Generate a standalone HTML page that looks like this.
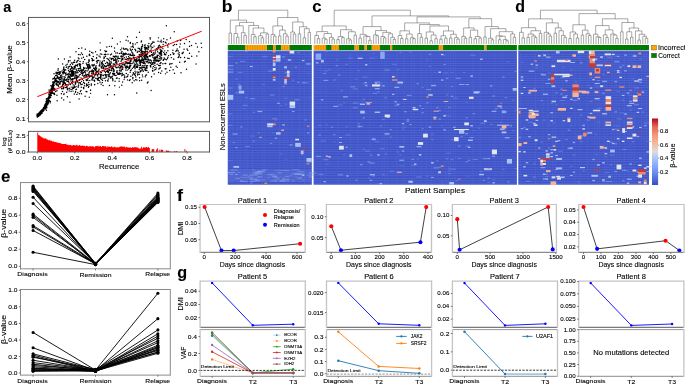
<!DOCTYPE html>
<html><head><meta charset="utf-8"><style>
html,body{margin:0;padding:0;background:#fff;overflow:hidden;}
svg{display:block;font-family:"Liberation Sans", sans-serif;} text{opacity:0.999;stroke:currentColor;stroke-width:0.1px;}
</style></head><body>
<svg width="685" height="385" viewBox="0 0 685 385">
<rect width="685" height="385" fill="#fff"/>
<text transform="translate(3.27 12.34) scale(0.926 1)" font-size="15.55" font-weight="bold" fill="#000">a</text>
<path d="M46.51 101.62a.72 .72 0 1 0 1.44 0a.72 .72 0 1 0 -1.44 0M50.99 90.75a.72 .72 0 1 0 1.44 0a.72 .72 0 1 0 -1.44 0M48.99 96.22a.72 .72 0 1 0 1.44 0a.72 .72 0 1 0 -1.44 0M39.92 112.95a.72 .72 0 1 0 1.44 0a.72 .72 0 1 0 -1.44 0M41.15 109.90a.72 .72 0 1 0 1.44 0a.72 .72 0 1 0 -1.44 0M50.60 90.58a.72 .72 0 1 0 1.44 0a.72 .72 0 1 0 -1.44 0M36.29 115.98a.72 .72 0 1 0 1.44 0a.72 .72 0 1 0 -1.44 0M49.74 94.80a.72 .72 0 1 0 1.44 0a.72 .72 0 1 0 -1.44 0M49.34 95.95a.72 .72 0 1 0 1.44 0a.72 .72 0 1 0 -1.44 0M43.92 105.18a.72 .72 0 1 0 1.44 0a.72 .72 0 1 0 -1.44 0M41.20 110.87a.72 .72 0 1 0 1.44 0a.72 .72 0 1 0 -1.44 0M40.79 111.87a.72 .72 0 1 0 1.44 0a.72 .72 0 1 0 -1.44 0M40.41 112.77a.72 .72 0 1 0 1.44 0a.72 .72 0 1 0 -1.44 0M43.54 109.09a.72 .72 0 1 0 1.44 0a.72 .72 0 1 0 -1.44 0M44.52 106.08a.72 .72 0 1 0 1.44 0a.72 .72 0 1 0 -1.44 0M45.33 103.29a.72 .72 0 1 0 1.44 0a.72 .72 0 1 0 -1.44 0M52.61 86.04a.72 .72 0 1 0 1.44 0a.72 .72 0 1 0 -1.44 0M49.27 95.52a.72 .72 0 1 0 1.44 0a.72 .72 0 1 0 -1.44 0M46.46 102.32a.72 .72 0 1 0 1.44 0a.72 .72 0 1 0 -1.44 0M52.50 85.51a.72 .72 0 1 0 1.44 0a.72 .72 0 1 0 -1.44 0M39.75 114.71a.72 .72 0 1 0 1.44 0a.72 .72 0 1 0 -1.44 0M38.85 114.35a.72 .72 0 1 0 1.44 0a.72 .72 0 1 0 -1.44 0M46.30 103.52a.72 .72 0 1 0 1.44 0a.72 .72 0 1 0 -1.44 0M36.93 115.02a.72 .72 0 1 0 1.44 0a.72 .72 0 1 0 -1.44 0M36.79 116.40a.72 .72 0 1 0 1.44 0a.72 .72 0 1 0 -1.44 0M44.69 104.95a.72 .72 0 1 0 1.44 0a.72 .72 0 1 0 -1.44 0M43.89 105.33a.72 .72 0 1 0 1.44 0a.72 .72 0 1 0 -1.44 0M51.32 89.88a.72 .72 0 1 0 1.44 0a.72 .72 0 1 0 -1.44 0M46.57 102.58a.72 .72 0 1 0 1.44 0a.72 .72 0 1 0 -1.44 0M44.68 105.46a.72 .72 0 1 0 1.44 0a.72 .72 0 1 0 -1.44 0M44.39 106.24a.72 .72 0 1 0 1.44 0a.72 .72 0 1 0 -1.44 0M40.28 113.55a.72 .72 0 1 0 1.44 0a.72 .72 0 1 0 -1.44 0M36.40 115.59a.72 .72 0 1 0 1.44 0a.72 .72 0 1 0 -1.44 0M39.38 111.73a.72 .72 0 1 0 1.44 0a.72 .72 0 1 0 -1.44 0M47.61 99.74a.72 .72 0 1 0 1.44 0a.72 .72 0 1 0 -1.44 0M39.51 113.65a.72 .72 0 1 0 1.44 0a.72 .72 0 1 0 -1.44 0M42.29 110.97a.72 .72 0 1 0 1.44 0a.72 .72 0 1 0 -1.44 0M36.27 115.69a.72 .72 0 1 0 1.44 0a.72 .72 0 1 0 -1.44 0M49.88 95.45a.72 .72 0 1 0 1.44 0a.72 .72 0 1 0 -1.44 0M38.75 115.22a.72 .72 0 1 0 1.44 0a.72 .72 0 1 0 -1.44 0M40.62 110.88a.72 .72 0 1 0 1.44 0a.72 .72 0 1 0 -1.44 0M50.71 92.62a.72 .72 0 1 0 1.44 0a.72 .72 0 1 0 -1.44 0M44.61 104.49a.72 .72 0 1 0 1.44 0a.72 .72 0 1 0 -1.44 0M50.16 90.30a.72 .72 0 1 0 1.44 0a.72 .72 0 1 0 -1.44 0M46.75 101.02a.72 .72 0 1 0 1.44 0a.72 .72 0 1 0 -1.44 0M48.43 96.53a.72 .72 0 1 0 1.44 0a.72 .72 0 1 0 -1.44 0M37.71 113.53a.72 .72 0 1 0 1.44 0a.72 .72 0 1 0 -1.44 0M45.12 105.08a.72 .72 0 1 0 1.44 0a.72 .72 0 1 0 -1.44 0M44.57 106.64a.72 .72 0 1 0 1.44 0a.72 .72 0 1 0 -1.44 0M50.56 93.76a.72 .72 0 1 0 1.44 0a.72 .72 0 1 0 -1.44 0M42.16 109.98a.72 .72 0 1 0 1.44 0a.72 .72 0 1 0 -1.44 0M46.06 100.91a.72 .72 0 1 0 1.44 0a.72 .72 0 1 0 -1.44 0M37.18 114.78a.72 .72 0 1 0 1.44 0a.72 .72 0 1 0 -1.44 0M42.59 110.41a.72 .72 0 1 0 1.44 0a.72 .72 0 1 0 -1.44 0M41.53 111.85a.72 .72 0 1 0 1.44 0a.72 .72 0 1 0 -1.44 0M38.68 114.75a.72 .72 0 1 0 1.44 0a.72 .72 0 1 0 -1.44 0M49.66 93.67a.72 .72 0 1 0 1.44 0a.72 .72 0 1 0 -1.44 0M42.46 109.79a.72 .72 0 1 0 1.44 0a.72 .72 0 1 0 -1.44 0M52.33 85.87a.72 .72 0 1 0 1.44 0a.72 .72 0 1 0 -1.44 0M45.93 102.78a.72 .72 0 1 0 1.44 0a.72 .72 0 1 0 -1.44 0M46.18 103.04a.72 .72 0 1 0 1.44 0a.72 .72 0 1 0 -1.44 0M46.72 101.49a.72 .72 0 1 0 1.44 0a.72 .72 0 1 0 -1.44 0M47.35 99.69a.72 .72 0 1 0 1.44 0a.72 .72 0 1 0 -1.44 0M38.69 114.37a.72 .72 0 1 0 1.44 0a.72 .72 0 1 0 -1.44 0M43.46 107.32a.72 .72 0 1 0 1.44 0a.72 .72 0 1 0 -1.44 0M40.15 110.90a.72 .72 0 1 0 1.44 0a.72 .72 0 1 0 -1.44 0M42.84 108.28a.72 .72 0 1 0 1.44 0a.72 .72 0 1 0 -1.44 0M37.80 115.03a.72 .72 0 1 0 1.44 0a.72 .72 0 1 0 -1.44 0M52.15 89.68a.72 .72 0 1 0 1.44 0a.72 .72 0 1 0 -1.44 0M39.75 112.83a.72 .72 0 1 0 1.44 0a.72 .72 0 1 0 -1.44 0M47.27 102.90a.72 .72 0 1 0 1.44 0a.72 .72 0 1 0 -1.44 0M41.16 112.92a.72 .72 0 1 0 1.44 0a.72 .72 0 1 0 -1.44 0M50.61 90.07a.72 .72 0 1 0 1.44 0a.72 .72 0 1 0 -1.44 0M47.12 99.54a.72 .72 0 1 0 1.44 0a.72 .72 0 1 0 -1.44 0M38.37 114.71a.72 .72 0 1 0 1.44 0a.72 .72 0 1 0 -1.44 0M50.13 95.51a.72 .72 0 1 0 1.44 0a.72 .72 0 1 0 -1.44 0M51.78 88.60a.72 .72 0 1 0 1.44 0a.72 .72 0 1 0 -1.44 0M51.10 91.13a.72 .72 0 1 0 1.44 0a.72 .72 0 1 0 -1.44 0M45.59 103.04a.72 .72 0 1 0 1.44 0a.72 .72 0 1 0 -1.44 0M38.60 112.39a.72 .72 0 1 0 1.44 0a.72 .72 0 1 0 -1.44 0M39.38 113.40a.72 .72 0 1 0 1.44 0a.72 .72 0 1 0 -1.44 0M51.50 90.13a.72 .72 0 1 0 1.44 0a.72 .72 0 1 0 -1.44 0M45.31 105.96a.72 .72 0 1 0 1.44 0a.72 .72 0 1 0 -1.44 0M39.18 113.86a.72 .72 0 1 0 1.44 0a.72 .72 0 1 0 -1.44 0M50.77 91.26a.72 .72 0 1 0 1.44 0a.72 .72 0 1 0 -1.44 0M46.78 102.89a.72 .72 0 1 0 1.44 0a.72 .72 0 1 0 -1.44 0M45.59 103.72a.72 .72 0 1 0 1.44 0a.72 .72 0 1 0 -1.44 0M42.41 110.92a.72 .72 0 1 0 1.44 0a.72 .72 0 1 0 -1.44 0M42.98 107.45a.72 .72 0 1 0 1.44 0a.72 .72 0 1 0 -1.44 0M40.15 111.69a.72 .72 0 1 0 1.44 0a.72 .72 0 1 0 -1.44 0M36.83 114.94a.72 .72 0 1 0 1.44 0a.72 .72 0 1 0 -1.44 0M50.64 92.11a.72 .72 0 1 0 1.44 0a.72 .72 0 1 0 -1.44 0M43.91 106.50a.72 .72 0 1 0 1.44 0a.72 .72 0 1 0 -1.44 0M45.23 104.78a.72 .72 0 1 0 1.44 0a.72 .72 0 1 0 -1.44 0M41.51 111.37a.72 .72 0 1 0 1.44 0a.72 .72 0 1 0 -1.44 0M48.59 97.45a.72 .72 0 1 0 1.44 0a.72 .72 0 1 0 -1.44 0M36.62 116.90a.72 .72 0 1 0 1.44 0a.72 .72 0 1 0 -1.44 0M42.34 111.35a.72 .72 0 1 0 1.44 0a.72 .72 0 1 0 -1.44 0M36.71 115.25a.72 .72 0 1 0 1.44 0a.72 .72 0 1 0 -1.44 0M38.23 114.88a.72 .72 0 1 0 1.44 0a.72 .72 0 1 0 -1.44 0M52.14 86.47a.72 .72 0 1 0 1.44 0a.72 .72 0 1 0 -1.44 0M47.04 99.30a.72 .72 0 1 0 1.44 0a.72 .72 0 1 0 -1.44 0M43.26 110.27a.72 .72 0 1 0 1.44 0a.72 .72 0 1 0 -1.44 0M44.84 106.38a.72 .72 0 1 0 1.44 0a.72 .72 0 1 0 -1.44 0M50.59 91.23a.72 .72 0 1 0 1.44 0a.72 .72 0 1 0 -1.44 0M41.88 110.02a.72 .72 0 1 0 1.44 0a.72 .72 0 1 0 -1.44 0M45.93 103.66a.72 .72 0 1 0 1.44 0a.72 .72 0 1 0 -1.44 0M47.47 98.24a.72 .72 0 1 0 1.44 0a.72 .72 0 1 0 -1.44 0M42.06 109.94a.72 .72 0 1 0 1.44 0a.72 .72 0 1 0 -1.44 0M44.76 107.06a.72 .72 0 1 0 1.44 0a.72 .72 0 1 0 -1.44 0M48.82 97.76a.72 .72 0 1 0 1.44 0a.72 .72 0 1 0 -1.44 0M51.19 88.43a.72 .72 0 1 0 1.44 0a.72 .72 0 1 0 -1.44 0M38.69 113.88a.72 .72 0 1 0 1.44 0a.72 .72 0 1 0 -1.44 0M51.59 91.72a.72 .72 0 1 0 1.44 0a.72 .72 0 1 0 -1.44 0M36.29 114.91a.72 .72 0 1 0 1.44 0a.72 .72 0 1 0 -1.44 0M48.61 95.99a.72 .72 0 1 0 1.44 0a.72 .72 0 1 0 -1.44 0M49.56 92.30a.72 .72 0 1 0 1.44 0a.72 .72 0 1 0 -1.44 0M38.46 114.84a.72 .72 0 1 0 1.44 0a.72 .72 0 1 0 -1.44 0M43.11 108.85a.72 .72 0 1 0 1.44 0a.72 .72 0 1 0 -1.44 0M49.64 95.92a.72 .72 0 1 0 1.44 0a.72 .72 0 1 0 -1.44 0M36.44 114.01a.72 .72 0 1 0 1.44 0a.72 .72 0 1 0 -1.44 0M46.56 102.03a.72 .72 0 1 0 1.44 0a.72 .72 0 1 0 -1.44 0M49.27 92.73a.72 .72 0 1 0 1.44 0a.72 .72 0 1 0 -1.44 0M44.66 106.54a.72 .72 0 1 0 1.44 0a.72 .72 0 1 0 -1.44 0M48.17 97.77a.72 .72 0 1 0 1.44 0a.72 .72 0 1 0 -1.44 0M39.94 114.59a.72 .72 0 1 0 1.44 0a.72 .72 0 1 0 -1.44 0M39.48 113.85a.72 .72 0 1 0 1.44 0a.72 .72 0 1 0 -1.44 0M42.19 108.89a.72 .72 0 1 0 1.44 0a.72 .72 0 1 0 -1.44 0M39.16 114.97a.72 .72 0 1 0 1.44 0a.72 .72 0 1 0 -1.44 0M41.91 109.24a.72 .72 0 1 0 1.44 0a.72 .72 0 1 0 -1.44 0M51.83 87.24a.72 .72 0 1 0 1.44 0a.72 .72 0 1 0 -1.44 0M45.65 105.11a.72 .72 0 1 0 1.44 0a.72 .72 0 1 0 -1.44 0M41.81 111.08a.72 .72 0 1 0 1.44 0a.72 .72 0 1 0 -1.44 0M40.68 112.54a.72 .72 0 1 0 1.44 0a.72 .72 0 1 0 -1.44 0M51.89 87.70a.72 .72 0 1 0 1.44 0a.72 .72 0 1 0 -1.44 0M43.53 108.43a.72 .72 0 1 0 1.44 0a.72 .72 0 1 0 -1.44 0M52.36 87.57a.72 .72 0 1 0 1.44 0a.72 .72 0 1 0 -1.44 0M44.70 106.03a.72 .72 0 1 0 1.44 0a.72 .72 0 1 0 -1.44 0M44.79 106.76a.72 .72 0 1 0 1.44 0a.72 .72 0 1 0 -1.44 0M50.98 92.48a.72 .72 0 1 0 1.44 0a.72 .72 0 1 0 -1.44 0M48.44 97.38a.72 .72 0 1 0 1.44 0a.72 .72 0 1 0 -1.44 0M45.77 102.33a.72 .72 0 1 0 1.44 0a.72 .72 0 1 0 -1.44 0M43.24 110.08a.72 .72 0 1 0 1.44 0a.72 .72 0 1 0 -1.44 0M50.68 91.25a.72 .72 0 1 0 1.44 0a.72 .72 0 1 0 -1.44 0M42.99 109.46a.72 .72 0 1 0 1.44 0a.72 .72 0 1 0 -1.44 0M51.41 90.71a.72 .72 0 1 0 1.44 0a.72 .72 0 1 0 -1.44 0M37.34 114.74a.72 .72 0 1 0 1.44 0a.72 .72 0 1 0 -1.44 0M43.29 108.81a.72 .72 0 1 0 1.44 0a.72 .72 0 1 0 -1.44 0M44.77 103.64a.72 .72 0 1 0 1.44 0a.72 .72 0 1 0 -1.44 0M51.88 88.98a.72 .72 0 1 0 1.44 0a.72 .72 0 1 0 -1.44 0M40.34 112.12a.72 .72 0 1 0 1.44 0a.72 .72 0 1 0 -1.44 0M49.49 94.93a.72 .72 0 1 0 1.44 0a.72 .72 0 1 0 -1.44 0M47.35 101.04a.72 .72 0 1 0 1.44 0a.72 .72 0 1 0 -1.44 0M48.02 97.51a.72 .72 0 1 0 1.44 0a.72 .72 0 1 0 -1.44 0M46.58 101.96a.72 .72 0 1 0 1.44 0a.72 .72 0 1 0 -1.44 0M52.21 85.58a.72 .72 0 1 0 1.44 0a.72 .72 0 1 0 -1.44 0M41.69 110.77a.72 .72 0 1 0 1.44 0a.72 .72 0 1 0 -1.44 0M42.77 110.30a.72 .72 0 1 0 1.44 0a.72 .72 0 1 0 -1.44 0M39.55 113.51a.72 .72 0 1 0 1.44 0a.72 .72 0 1 0 -1.44 0M37.04 115.60a.72 .72 0 1 0 1.44 0a.72 .72 0 1 0 -1.44 0M39.71 112.33a.72 .72 0 1 0 1.44 0a.72 .72 0 1 0 -1.44 0M51.29 90.94a.72 .72 0 1 0 1.44 0a.72 .72 0 1 0 -1.44 0M50.05 93.10a.72 .72 0 1 0 1.44 0a.72 .72 0 1 0 -1.44 0M38.06 116.32a.72 .72 0 1 0 1.44 0a.72 .72 0 1 0 -1.44 0M46.15 101.81a.72 .72 0 1 0 1.44 0a.72 .72 0 1 0 -1.44 0M44.10 108.09a.72 .72 0 1 0 1.44 0a.72 .72 0 1 0 -1.44 0M46.00 105.41a.72 .72 0 1 0 1.44 0a.72 .72 0 1 0 -1.44 0M47.07 100.72a.72 .72 0 1 0 1.44 0a.72 .72 0 1 0 -1.44 0M41.26 110.16a.72 .72 0 1 0 1.44 0a.72 .72 0 1 0 -1.44 0M52.05 89.72a.72 .72 0 1 0 1.44 0a.72 .72 0 1 0 -1.44 0M43.88 108.48a.72 .72 0 1 0 1.44 0a.72 .72 0 1 0 -1.44 0M46.56 102.82a.72 .72 0 1 0 1.44 0a.72 .72 0 1 0 -1.44 0M46.67 103.09a.72 .72 0 1 0 1.44 0a.72 .72 0 1 0 -1.44 0M39.24 113.40a.72 .72 0 1 0 1.44 0a.72 .72 0 1 0 -1.44 0M37.22 116.15a.72 .72 0 1 0 1.44 0a.72 .72 0 1 0 -1.44 0M42.99 109.54a.72 .72 0 1 0 1.44 0a.72 .72 0 1 0 -1.44 0M48.80 95.54a.72 .72 0 1 0 1.44 0a.72 .72 0 1 0 -1.44 0M49.64 95.34a.72 .72 0 1 0 1.44 0a.72 .72 0 1 0 -1.44 0M48.23 97.20a.72 .72 0 1 0 1.44 0a.72 .72 0 1 0 -1.44 0M38.07 115.67a.72 .72 0 1 0 1.44 0a.72 .72 0 1 0 -1.44 0M51.26 91.55a.72 .72 0 1 0 1.44 0a.72 .72 0 1 0 -1.44 0M49.42 97.58a.72 .72 0 1 0 1.44 0a.72 .72 0 1 0 -1.44 0M50.67 88.27a.72 .72 0 1 0 1.44 0a.72 .72 0 1 0 -1.44 0M44.83 105.81a.72 .72 0 1 0 1.44 0a.72 .72 0 1 0 -1.44 0M51.29 89.03a.72 .72 0 1 0 1.44 0a.72 .72 0 1 0 -1.44 0M36.97 115.71a.72 .72 0 1 0 1.44 0a.72 .72 0 1 0 -1.44 0M36.70 115.74a.72 .72 0 1 0 1.44 0a.72 .72 0 1 0 -1.44 0M36.54 115.90a.72 .72 0 1 0 1.44 0a.72 .72 0 1 0 -1.44 0M40.37 110.58a.72 .72 0 1 0 1.44 0a.72 .72 0 1 0 -1.44 0M40.30 113.57a.72 .72 0 1 0 1.44 0a.72 .72 0 1 0 -1.44 0M39.30 115.13a.72 .72 0 1 0 1.44 0a.72 .72 0 1 0 -1.44 0M45.55 105.28a.72 .72 0 1 0 1.44 0a.72 .72 0 1 0 -1.44 0M36.85 116.80a.72 .72 0 1 0 1.44 0a.72 .72 0 1 0 -1.44 0M45.93 102.16a.72 .72 0 1 0 1.44 0a.72 .72 0 1 0 -1.44 0M38.94 113.31a.72 .72 0 1 0 1.44 0a.72 .72 0 1 0 -1.44 0M47.38 101.28a.72 .72 0 1 0 1.44 0a.72 .72 0 1 0 -1.44 0M36.55 116.99a.72 .72 0 1 0 1.44 0a.72 .72 0 1 0 -1.44 0M41.32 111.60a.72 .72 0 1 0 1.44 0a.72 .72 0 1 0 -1.44 0M51.67 85.98a.72 .72 0 1 0 1.44 0a.72 .72 0 1 0 -1.44 0M45.08 108.51a.72 .72 0 1 0 1.44 0a.72 .72 0 1 0 -1.44 0M49.58 93.52a.72 .72 0 1 0 1.44 0a.72 .72 0 1 0 -1.44 0M47.05 102.19a.72 .72 0 1 0 1.44 0a.72 .72 0 1 0 -1.44 0M46.27 101.03a.72 .72 0 1 0 1.44 0a.72 .72 0 1 0 -1.44 0M39.36 114.62a.72 .72 0 1 0 1.44 0a.72 .72 0 1 0 -1.44 0M45.67 104.08a.72 .72 0 1 0 1.44 0a.72 .72 0 1 0 -1.44 0M36.86 116.93a.72 .72 0 1 0 1.44 0a.72 .72 0 1 0 -1.44 0M49.42 96.28a.72 .72 0 1 0 1.44 0a.72 .72 0 1 0 -1.44 0M52.03 84.85a.72 .72 0 1 0 1.44 0a.72 .72 0 1 0 -1.44 0M50.28 91.09a.72 .72 0 1 0 1.44 0a.72 .72 0 1 0 -1.44 0M37.04 115.95a.72 .72 0 1 0 1.44 0a.72 .72 0 1 0 -1.44 0M41.79 111.51a.72 .72 0 1 0 1.44 0a.72 .72 0 1 0 -1.44 0M41.45 113.06a.72 .72 0 1 0 1.44 0a.72 .72 0 1 0 -1.44 0M38.06 115.19a.72 .72 0 1 0 1.44 0a.72 .72 0 1 0 -1.44 0M46.53 101.90a.72 .72 0 1 0 1.44 0a.72 .72 0 1 0 -1.44 0M49.35 95.09a.72 .72 0 1 0 1.44 0a.72 .72 0 1 0 -1.44 0M41.38 111.26a.72 .72 0 1 0 1.44 0a.72 .72 0 1 0 -1.44 0M50.42 93.78a.72 .72 0 1 0 1.44 0a.72 .72 0 1 0 -1.44 0M49.34 95.08a.72 .72 0 1 0 1.44 0a.72 .72 0 1 0 -1.44 0M38.33 114.65a.72 .72 0 1 0 1.44 0a.72 .72 0 1 0 -1.44 0M48.84 94.35a.72 .72 0 1 0 1.44 0a.72 .72 0 1 0 -1.44 0M50.75 88.02a.72 .72 0 1 0 1.44 0a.72 .72 0 1 0 -1.44 0M39.46 113.64a.72 .72 0 1 0 1.44 0a.72 .72 0 1 0 -1.44 0M45.66 104.74a.72 .72 0 1 0 1.44 0a.72 .72 0 1 0 -1.44 0M46.73 101.50a.72 .72 0 1 0 1.44 0a.72 .72 0 1 0 -1.44 0M46.25 103.30a.72 .72 0 1 0 1.44 0a.72 .72 0 1 0 -1.44 0M37.79 115.70a.72 .72 0 1 0 1.44 0a.72 .72 0 1 0 -1.44 0M47.10 100.65a.72 .72 0 1 0 1.44 0a.72 .72 0 1 0 -1.44 0M46.62 103.09a.72 .72 0 1 0 1.44 0a.72 .72 0 1 0 -1.44 0M49.78 92.83a.72 .72 0 1 0 1.44 0a.72 .72 0 1 0 -1.44 0M49.45 94.85a.72 .72 0 1 0 1.44 0a.72 .72 0 1 0 -1.44 0M41.60 110.58a.72 .72 0 1 0 1.44 0a.72 .72 0 1 0 -1.44 0M48.10 98.43a.72 .72 0 1 0 1.44 0a.72 .72 0 1 0 -1.44 0M50.50 92.94a.72 .72 0 1 0 1.44 0a.72 .72 0 1 0 -1.44 0M50.92 92.09a.72 .72 0 1 0 1.44 0a.72 .72 0 1 0 -1.44 0M38.87 114.33a.72 .72 0 1 0 1.44 0a.72 .72 0 1 0 -1.44 0M36.65 116.31a.72 .72 0 1 0 1.44 0a.72 .72 0 1 0 -1.44 0M46.93 100.63a.72 .72 0 1 0 1.44 0a.72 .72 0 1 0 -1.44 0M39.74 113.21a.72 .72 0 1 0 1.44 0a.72 .72 0 1 0 -1.44 0M45.49 105.84a.72 .72 0 1 0 1.44 0a.72 .72 0 1 0 -1.44 0M51.77 87.87a.72 .72 0 1 0 1.44 0a.72 .72 0 1 0 -1.44 0M42.46 111.06a.72 .72 0 1 0 1.44 0a.72 .72 0 1 0 -1.44 0M40.37 113.08a.72 .72 0 1 0 1.44 0a.72 .72 0 1 0 -1.44 0M43.73 107.80a.72 .72 0 1 0 1.44 0a.72 .72 0 1 0 -1.44 0M47.04 103.61a.72 .72 0 1 0 1.44 0a.72 .72 0 1 0 -1.44 0M37.87 114.94a.72 .72 0 1 0 1.44 0a.72 .72 0 1 0 -1.44 0M42.48 109.36a.72 .72 0 1 0 1.44 0a.72 .72 0 1 0 -1.44 0M38.41 114.69a.72 .72 0 1 0 1.44 0a.72 .72 0 1 0 -1.44 0M47.12 101.11a.72 .72 0 1 0 1.44 0a.72 .72 0 1 0 -1.44 0M49.89 94.06a.72 .72 0 1 0 1.44 0a.72 .72 0 1 0 -1.44 0M42.42 110.71a.72 .72 0 1 0 1.44 0a.72 .72 0 1 0 -1.44 0M42.33 110.06a.72 .72 0 1 0 1.44 0a.72 .72 0 1 0 -1.44 0M45.10 105.58a.72 .72 0 1 0 1.44 0a.72 .72 0 1 0 -1.44 0M39.75 113.11a.72 .72 0 1 0 1.44 0a.72 .72 0 1 0 -1.44 0M40.28 113.76a.72 .72 0 1 0 1.44 0a.72 .72 0 1 0 -1.44 0M41.64 110.53a.72 .72 0 1 0 1.44 0a.72 .72 0 1 0 -1.44 0M43.74 107.25a.72 .72 0 1 0 1.44 0a.72 .72 0 1 0 -1.44 0M37.55 115.39a.72 .72 0 1 0 1.44 0a.72 .72 0 1 0 -1.44 0M48.61 97.54a.72 .72 0 1 0 1.44 0a.72 .72 0 1 0 -1.44 0M45.75 102.82a.72 .72 0 1 0 1.44 0a.72 .72 0 1 0 -1.44 0M41.14 113.20a.72 .72 0 1 0 1.44 0a.72 .72 0 1 0 -1.44 0M37.48 114.95a.72 .72 0 1 0 1.44 0a.72 .72 0 1 0 -1.44 0M48.78 96.08a.72 .72 0 1 0 1.44 0a.72 .72 0 1 0 -1.44 0M38.37 114.35a.72 .72 0 1 0 1.44 0a.72 .72 0 1 0 -1.44 0M38.40 114.23a.72 .72 0 1 0 1.44 0a.72 .72 0 1 0 -1.44 0M38.36 115.16a.72 .72 0 1 0 1.44 0a.72 .72 0 1 0 -1.44 0M37.54 115.49a.72 .72 0 1 0 1.44 0a.72 .72 0 1 0 -1.44 0M51.14 88.84a.72 .72 0 1 0 1.44 0a.72 .72 0 1 0 -1.44 0M40.64 111.70a.72 .72 0 1 0 1.44 0a.72 .72 0 1 0 -1.44 0M41.25 111.11a.72 .72 0 1 0 1.44 0a.72 .72 0 1 0 -1.44 0M49.93 95.75a.72 .72 0 1 0 1.44 0a.72 .72 0 1 0 -1.44 0M46.42 101.37a.72 .72 0 1 0 1.44 0a.72 .72 0 1 0 -1.44 0M39.29 112.61a.72 .72 0 1 0 1.44 0a.72 .72 0 1 0 -1.44 0M43.37 106.89a.72 .72 0 1 0 1.44 0a.72 .72 0 1 0 -1.44 0M50.77 90.60a.72 .72 0 1 0 1.44 0a.72 .72 0 1 0 -1.44 0M42.39 111.40a.72 .72 0 1 0 1.44 0a.72 .72 0 1 0 -1.44 0M47.92 97.25a.72 .72 0 1 0 1.44 0a.72 .72 0 1 0 -1.44 0M37.80 115.20a.72 .72 0 1 0 1.44 0a.72 .72 0 1 0 -1.44 0M48.19 101.65a.72 .72 0 1 0 1.44 0a.72 .72 0 1 0 -1.44 0M49.00 95.31a.72 .72 0 1 0 1.44 0a.72 .72 0 1 0 -1.44 0M49.81 96.02a.72 .72 0 1 0 1.44 0a.72 .72 0 1 0 -1.44 0M47.31 101.89a.72 .72 0 1 0 1.44 0a.72 .72 0 1 0 -1.44 0M42.31 110.49a.72 .72 0 1 0 1.44 0a.72 .72 0 1 0 -1.44 0M37.26 114.46a.72 .72 0 1 0 1.44 0a.72 .72 0 1 0 -1.44 0M44.75 106.02a.72 .72 0 1 0 1.44 0a.72 .72 0 1 0 -1.44 0M48.69 96.29a.72 .72 0 1 0 1.44 0a.72 .72 0 1 0 -1.44 0M39.35 112.01a.72 .72 0 1 0 1.44 0a.72 .72 0 1 0 -1.44 0M40.59 110.59a.72 .72 0 1 0 1.44 0a.72 .72 0 1 0 -1.44 0M45.04 105.12a.72 .72 0 1 0 1.44 0a.72 .72 0 1 0 -1.44 0M48.54 97.43a.72 .72 0 1 0 1.44 0a.72 .72 0 1 0 -1.44 0M50.98 92.43a.72 .72 0 1 0 1.44 0a.72 .72 0 1 0 -1.44 0M38.28 115.27a.72 .72 0 1 0 1.44 0a.72 .72 0 1 0 -1.44 0M39.24 113.35a.72 .72 0 1 0 1.44 0a.72 .72 0 1 0 -1.44 0M49.38 94.26a.72 .72 0 1 0 1.44 0a.72 .72 0 1 0 -1.44 0M46.83 101.04a.72 .72 0 1 0 1.44 0a.72 .72 0 1 0 -1.44 0M48.09 96.76a.72 .72 0 1 0 1.44 0a.72 .72 0 1 0 -1.44 0M52.63 86.63a.72 .72 0 1 0 1.44 0a.72 .72 0 1 0 -1.44 0M51.68 88.36a.72 .72 0 1 0 1.44 0a.72 .72 0 1 0 -1.44 0M50.10 91.75a.72 .72 0 1 0 1.44 0a.72 .72 0 1 0 -1.44 0M49.01 94.97a.72 .72 0 1 0 1.44 0a.72 .72 0 1 0 -1.44 0M42.71 107.94a.72 .72 0 1 0 1.44 0a.72 .72 0 1 0 -1.44 0M132.69 47.16a.72 .72 0 1 0 1.44 0a.72 .72 0 1 0 -1.44 0M70.66 76.16a.72 .72 0 1 0 1.44 0a.72 .72 0 1 0 -1.44 0M129.88 61.76a.72 .72 0 1 0 1.44 0a.72 .72 0 1 0 -1.44 0M109.05 73.64a.72 .72 0 1 0 1.44 0a.72 .72 0 1 0 -1.44 0M125.58 57.06a.72 .72 0 1 0 1.44 0a.72 .72 0 1 0 -1.44 0M82.58 61.75a.72 .72 0 1 0 1.44 0a.72 .72 0 1 0 -1.44 0M44.38 107.04a.72 .72 0 1 0 1.44 0a.72 .72 0 1 0 -1.44 0M119.22 63.73a.72 .72 0 1 0 1.44 0a.72 .72 0 1 0 -1.44 0M67.51 81.48a.72 .72 0 1 0 1.44 0a.72 .72 0 1 0 -1.44 0M57.68 77.89a.72 .72 0 1 0 1.44 0a.72 .72 0 1 0 -1.44 0M120.42 52.88a.72 .72 0 1 0 1.44 0a.72 .72 0 1 0 -1.44 0M109.61 72.66a.72 .72 0 1 0 1.44 0a.72 .72 0 1 0 -1.44 0M64.36 83.69a.72 .72 0 1 0 1.44 0a.72 .72 0 1 0 -1.44 0M69.62 78.32a.72 .72 0 1 0 1.44 0a.72 .72 0 1 0 -1.44 0M133.76 65.45a.72 .72 0 1 0 1.44 0a.72 .72 0 1 0 -1.44 0M69.71 74.57a.72 .72 0 1 0 1.44 0a.72 .72 0 1 0 -1.44 0M111.15 66.77a.72 .72 0 1 0 1.44 0a.72 .72 0 1 0 -1.44 0M56.44 100.74a.72 .72 0 1 0 1.44 0a.72 .72 0 1 0 -1.44 0M121.90 81.95a.72 .72 0 1 0 1.44 0a.72 .72 0 1 0 -1.44 0M55.30 73.33a.72 .72 0 1 0 1.44 0a.72 .72 0 1 0 -1.44 0M93.35 74.60a.72 .72 0 1 0 1.44 0a.72 .72 0 1 0 -1.44 0M47.43 100.18a.72 .72 0 1 0 1.44 0a.72 .72 0 1 0 -1.44 0M96.60 75.65a.72 .72 0 1 0 1.44 0a.72 .72 0 1 0 -1.44 0M124.92 53.21a.72 .72 0 1 0 1.44 0a.72 .72 0 1 0 -1.44 0M52.13 82.59a.72 .72 0 1 0 1.44 0a.72 .72 0 1 0 -1.44 0M70.26 70.28a.72 .72 0 1 0 1.44 0a.72 .72 0 1 0 -1.44 0M117.10 58.24a.72 .72 0 1 0 1.44 0a.72 .72 0 1 0 -1.44 0M102.14 75.23a.72 .72 0 1 0 1.44 0a.72 .72 0 1 0 -1.44 0M73.94 60.28a.72 .72 0 1 0 1.44 0a.72 .72 0 1 0 -1.44 0M104.13 71.31a.72 .72 0 1 0 1.44 0a.72 .72 0 1 0 -1.44 0M87.49 62.46a.72 .72 0 1 0 1.44 0a.72 .72 0 1 0 -1.44 0M126.42 67.32a.72 .72 0 1 0 1.44 0a.72 .72 0 1 0 -1.44 0M72.05 72.23a.72 .72 0 1 0 1.44 0a.72 .72 0 1 0 -1.44 0M116.43 67.47a.72 .72 0 1 0 1.44 0a.72 .72 0 1 0 -1.44 0M104.78 80.66a.72 .72 0 1 0 1.44 0a.72 .72 0 1 0 -1.44 0M114.78 62.72a.72 .72 0 1 0 1.44 0a.72 .72 0 1 0 -1.44 0M80.19 84.65a.72 .72 0 1 0 1.44 0a.72 .72 0 1 0 -1.44 0M113.30 69.60a.72 .72 0 1 0 1.44 0a.72 .72 0 1 0 -1.44 0M110.77 59.00a.72 .72 0 1 0 1.44 0a.72 .72 0 1 0 -1.44 0M81.07 48.05a.72 .72 0 1 0 1.44 0a.72 .72 0 1 0 -1.44 0M46.60 103.32a.72 .72 0 1 0 1.44 0a.72 .72 0 1 0 -1.44 0M136.03 92.96a.72 .72 0 1 0 1.44 0a.72 .72 0 1 0 -1.44 0M112.22 68.46a.72 .72 0 1 0 1.44 0a.72 .72 0 1 0 -1.44 0M63.62 72.69a.72 .72 0 1 0 1.44 0a.72 .72 0 1 0 -1.44 0M113.86 64.54a.72 .72 0 1 0 1.44 0a.72 .72 0 1 0 -1.44 0M70.68 62.93a.72 .72 0 1 0 1.44 0a.72 .72 0 1 0 -1.44 0M88.89 76.21a.72 .72 0 1 0 1.44 0a.72 .72 0 1 0 -1.44 0M126.19 49.01a.72 .72 0 1 0 1.44 0a.72 .72 0 1 0 -1.44 0M86.86 65.66a.72 .72 0 1 0 1.44 0a.72 .72 0 1 0 -1.44 0M71.57 74.33a.72 .72 0 1 0 1.44 0a.72 .72 0 1 0 -1.44 0M73.24 74.80a.72 .72 0 1 0 1.44 0a.72 .72 0 1 0 -1.44 0M51.42 86.83a.72 .72 0 1 0 1.44 0a.72 .72 0 1 0 -1.44 0M65.03 70.00a.72 .72 0 1 0 1.44 0a.72 .72 0 1 0 -1.44 0M69.96 78.93a.72 .72 0 1 0 1.44 0a.72 .72 0 1 0 -1.44 0M60.59 81.52a.72 .72 0 1 0 1.44 0a.72 .72 0 1 0 -1.44 0M50.09 93.95a.72 .72 0 1 0 1.44 0a.72 .72 0 1 0 -1.44 0M88.55 75.70a.72 .72 0 1 0 1.44 0a.72 .72 0 1 0 -1.44 0M64.54 69.81a.72 .72 0 1 0 1.44 0a.72 .72 0 1 0 -1.44 0M114.62 60.14a.72 .72 0 1 0 1.44 0a.72 .72 0 1 0 -1.44 0M132.17 77.48a.72 .72 0 1 0 1.44 0a.72 .72 0 1 0 -1.44 0M70.14 80.91a.72 .72 0 1 0 1.44 0a.72 .72 0 1 0 -1.44 0M98.72 80.62a.72 .72 0 1 0 1.44 0a.72 .72 0 1 0 -1.44 0M92.46 73.43a.72 .72 0 1 0 1.44 0a.72 .72 0 1 0 -1.44 0M51.24 91.39a.72 .72 0 1 0 1.44 0a.72 .72 0 1 0 -1.44 0M56.00 83.67a.72 .72 0 1 0 1.44 0a.72 .72 0 1 0 -1.44 0M128.56 57.92a.72 .72 0 1 0 1.44 0a.72 .72 0 1 0 -1.44 0M89.35 76.11a.72 .72 0 1 0 1.44 0a.72 .72 0 1 0 -1.44 0M120.91 63.39a.72 .72 0 1 0 1.44 0a.72 .72 0 1 0 -1.44 0M50.43 92.98a.72 .72 0 1 0 1.44 0a.72 .72 0 1 0 -1.44 0M100.87 64.05a.72 .72 0 1 0 1.44 0a.72 .72 0 1 0 -1.44 0M126.71 58.69a.72 .72 0 1 0 1.44 0a.72 .72 0 1 0 -1.44 0M126.87 66.34a.72 .72 0 1 0 1.44 0a.72 .72 0 1 0 -1.44 0M44.62 105.03a.72 .72 0 1 0 1.44 0a.72 .72 0 1 0 -1.44 0M93.89 69.81a.72 .72 0 1 0 1.44 0a.72 .72 0 1 0 -1.44 0M79.31 61.58a.72 .72 0 1 0 1.44 0a.72 .72 0 1 0 -1.44 0M116.65 72.94a.72 .72 0 1 0 1.44 0a.72 .72 0 1 0 -1.44 0M51.06 89.44a.72 .72 0 1 0 1.44 0a.72 .72 0 1 0 -1.44 0M69.37 76.88a.72 .72 0 1 0 1.44 0a.72 .72 0 1 0 -1.44 0M121.68 66.80a.72 .72 0 1 0 1.44 0a.72 .72 0 1 0 -1.44 0M88.91 54.12a.72 .72 0 1 0 1.44 0a.72 .72 0 1 0 -1.44 0M87.34 69.92a.72 .72 0 1 0 1.44 0a.72 .72 0 1 0 -1.44 0M136.56 52.16a.72 .72 0 1 0 1.44 0a.72 .72 0 1 0 -1.44 0M74.62 65.38a.72 .72 0 1 0 1.44 0a.72 .72 0 1 0 -1.44 0M48.05 97.46a.72 .72 0 1 0 1.44 0a.72 .72 0 1 0 -1.44 0M81.52 70.94a.72 .72 0 1 0 1.44 0a.72 .72 0 1 0 -1.44 0M58.72 83.93a.72 .72 0 1 0 1.44 0a.72 .72 0 1 0 -1.44 0M51.89 90.58a.72 .72 0 1 0 1.44 0a.72 .72 0 1 0 -1.44 0M98.30 69.34a.72 .72 0 1 0 1.44 0a.72 .72 0 1 0 -1.44 0M135.13 77.00a.72 .72 0 1 0 1.44 0a.72 .72 0 1 0 -1.44 0M99.40 42.85a.72 .72 0 1 0 1.44 0a.72 .72 0 1 0 -1.44 0M105.87 51.23a.72 .72 0 1 0 1.44 0a.72 .72 0 1 0 -1.44 0M74.98 65.72a.72 .72 0 1 0 1.44 0a.72 .72 0 1 0 -1.44 0M98.61 66.08a.72 .72 0 1 0 1.44 0a.72 .72 0 1 0 -1.44 0M115.91 72.58a.72 .72 0 1 0 1.44 0a.72 .72 0 1 0 -1.44 0M100.35 77.02a.72 .72 0 1 0 1.44 0a.72 .72 0 1 0 -1.44 0M120.73 65.85a.72 .72 0 1 0 1.44 0a.72 .72 0 1 0 -1.44 0M96.64 79.84a.72 .72 0 1 0 1.44 0a.72 .72 0 1 0 -1.44 0M62.99 99.88a.72 .72 0 1 0 1.44 0a.72 .72 0 1 0 -1.44 0M99.72 76.77a.72 .72 0 1 0 1.44 0a.72 .72 0 1 0 -1.44 0M90.95 71.29a.72 .72 0 1 0 1.44 0a.72 .72 0 1 0 -1.44 0M59.92 71.99a.72 .72 0 1 0 1.44 0a.72 .72 0 1 0 -1.44 0M103.20 68.71a.72 .72 0 1 0 1.44 0a.72 .72 0 1 0 -1.44 0M122.09 58.21a.72 .72 0 1 0 1.44 0a.72 .72 0 1 0 -1.44 0M56.97 72.39a.72 .72 0 1 0 1.44 0a.72 .72 0 1 0 -1.44 0M96.11 63.12a.72 .72 0 1 0 1.44 0a.72 .72 0 1 0 -1.44 0M114.14 57.19a.72 .72 0 1 0 1.44 0a.72 .72 0 1 0 -1.44 0M82.56 70.04a.72 .72 0 1 0 1.44 0a.72 .72 0 1 0 -1.44 0M69.86 75.21a.72 .72 0 1 0 1.44 0a.72 .72 0 1 0 -1.44 0M79.62 74.36a.72 .72 0 1 0 1.44 0a.72 .72 0 1 0 -1.44 0M95.80 58.34a.72 .72 0 1 0 1.44 0a.72 .72 0 1 0 -1.44 0M109.64 78.09a.72 .72 0 1 0 1.44 0a.72 .72 0 1 0 -1.44 0M97.47 78.18a.72 .72 0 1 0 1.44 0a.72 .72 0 1 0 -1.44 0M54.29 79.19a.72 .72 0 1 0 1.44 0a.72 .72 0 1 0 -1.44 0M122.18 59.67a.72 .72 0 1 0 1.44 0a.72 .72 0 1 0 -1.44 0M132.30 44.94a.72 .72 0 1 0 1.44 0a.72 .72 0 1 0 -1.44 0M53.74 94.20a.72 .72 0 1 0 1.44 0a.72 .72 0 1 0 -1.44 0M67.90 79.89a.72 .72 0 1 0 1.44 0a.72 .72 0 1 0 -1.44 0M60.66 93.79a.72 .72 0 1 0 1.44 0a.72 .72 0 1 0 -1.44 0M125.16 48.74a.72 .72 0 1 0 1.44 0a.72 .72 0 1 0 -1.44 0M131.00 52.01a.72 .72 0 1 0 1.44 0a.72 .72 0 1 0 -1.44 0M48.30 90.04a.72 .72 0 1 0 1.44 0a.72 .72 0 1 0 -1.44 0M75.82 76.67a.72 .72 0 1 0 1.44 0a.72 .72 0 1 0 -1.44 0M62.45 73.84a.72 .72 0 1 0 1.44 0a.72 .72 0 1 0 -1.44 0M88.91 65.58a.72 .72 0 1 0 1.44 0a.72 .72 0 1 0 -1.44 0M132.08 78.71a.72 .72 0 1 0 1.44 0a.72 .72 0 1 0 -1.44 0M50.77 92.39a.72 .72 0 1 0 1.44 0a.72 .72 0 1 0 -1.44 0M60.43 75.97a.72 .72 0 1 0 1.44 0a.72 .72 0 1 0 -1.44 0M90.58 83.99a.72 .72 0 1 0 1.44 0a.72 .72 0 1 0 -1.44 0M94.11 75.62a.72 .72 0 1 0 1.44 0a.72 .72 0 1 0 -1.44 0M115.26 55.96a.72 .72 0 1 0 1.44 0a.72 .72 0 1 0 -1.44 0M85.87 68.24a.72 .72 0 1 0 1.44 0a.72 .72 0 1 0 -1.44 0M57.55 85.77a.72 .72 0 1 0 1.44 0a.72 .72 0 1 0 -1.44 0M77.84 83.09a.72 .72 0 1 0 1.44 0a.72 .72 0 1 0 -1.44 0M137.86 57.00a.72 .72 0 1 0 1.44 0a.72 .72 0 1 0 -1.44 0M115.76 78.26a.72 .72 0 1 0 1.44 0a.72 .72 0 1 0 -1.44 0M55.18 83.99a.72 .72 0 1 0 1.44 0a.72 .72 0 1 0 -1.44 0M121.25 65.93a.72 .72 0 1 0 1.44 0a.72 .72 0 1 0 -1.44 0M73.76 67.00a.72 .72 0 1 0 1.44 0a.72 .72 0 1 0 -1.44 0M118.69 70.81a.72 .72 0 1 0 1.44 0a.72 .72 0 1 0 -1.44 0M45.28 105.18a.72 .72 0 1 0 1.44 0a.72 .72 0 1 0 -1.44 0M127.27 62.37a.72 .72 0 1 0 1.44 0a.72 .72 0 1 0 -1.44 0M59.57 81.61a.72 .72 0 1 0 1.44 0a.72 .72 0 1 0 -1.44 0M87.59 74.70a.72 .72 0 1 0 1.44 0a.72 .72 0 1 0 -1.44 0M107.27 54.31a.72 .72 0 1 0 1.44 0a.72 .72 0 1 0 -1.44 0M92.57 56.57a.72 .72 0 1 0 1.44 0a.72 .72 0 1 0 -1.44 0M59.87 75.87a.72 .72 0 1 0 1.44 0a.72 .72 0 1 0 -1.44 0M57.36 77.28a.72 .72 0 1 0 1.44 0a.72 .72 0 1 0 -1.44 0M71.24 73.77a.72 .72 0 1 0 1.44 0a.72 .72 0 1 0 -1.44 0M49.07 91.12a.72 .72 0 1 0 1.44 0a.72 .72 0 1 0 -1.44 0M64.75 80.02a.72 .72 0 1 0 1.44 0a.72 .72 0 1 0 -1.44 0M56.49 73.38a.72 .72 0 1 0 1.44 0a.72 .72 0 1 0 -1.44 0M88.46 64.88a.72 .72 0 1 0 1.44 0a.72 .72 0 1 0 -1.44 0M78.12 48.39a.72 .72 0 1 0 1.44 0a.72 .72 0 1 0 -1.44 0M100.11 76.32a.72 .72 0 1 0 1.44 0a.72 .72 0 1 0 -1.44 0M70.89 66.44a.72 .72 0 1 0 1.44 0a.72 .72 0 1 0 -1.44 0M47.31 103.99a.72 .72 0 1 0 1.44 0a.72 .72 0 1 0 -1.44 0M75.69 76.66a.72 .72 0 1 0 1.44 0a.72 .72 0 1 0 -1.44 0M116.19 62.02a.72 .72 0 1 0 1.44 0a.72 .72 0 1 0 -1.44 0M68.50 90.88a.72 .72 0 1 0 1.44 0a.72 .72 0 1 0 -1.44 0M82.70 57.33a.72 .72 0 1 0 1.44 0a.72 .72 0 1 0 -1.44 0M116.17 63.95a.72 .72 0 1 0 1.44 0a.72 .72 0 1 0 -1.44 0M82.91 67.57a.72 .72 0 1 0 1.44 0a.72 .72 0 1 0 -1.44 0M128.79 66.09a.72 .72 0 1 0 1.44 0a.72 .72 0 1 0 -1.44 0M131.74 55.22a.72 .72 0 1 0 1.44 0a.72 .72 0 1 0 -1.44 0M73.72 86.02a.72 .72 0 1 0 1.44 0a.72 .72 0 1 0 -1.44 0M114.35 56.32a.72 .72 0 1 0 1.44 0a.72 .72 0 1 0 -1.44 0M68.24 82.19a.72 .72 0 1 0 1.44 0a.72 .72 0 1 0 -1.44 0M57.39 78.39a.72 .72 0 1 0 1.44 0a.72 .72 0 1 0 -1.44 0M85.89 84.09a.72 .72 0 1 0 1.44 0a.72 .72 0 1 0 -1.44 0M101.60 70.67a.72 .72 0 1 0 1.44 0a.72 .72 0 1 0 -1.44 0M133.42 60.17a.72 .72 0 1 0 1.44 0a.72 .72 0 1 0 -1.44 0M58.00 81.54a.72 .72 0 1 0 1.44 0a.72 .72 0 1 0 -1.44 0M112.10 79.79a.72 .72 0 1 0 1.44 0a.72 .72 0 1 0 -1.44 0M89.48 67.99a.72 .72 0 1 0 1.44 0a.72 .72 0 1 0 -1.44 0M56.65 72.85a.72 .72 0 1 0 1.44 0a.72 .72 0 1 0 -1.44 0M136.96 75.07a.72 .72 0 1 0 1.44 0a.72 .72 0 1 0 -1.44 0M110.51 63.09a.72 .72 0 1 0 1.44 0a.72 .72 0 1 0 -1.44 0M56.38 75.69a.72 .72 0 1 0 1.44 0a.72 .72 0 1 0 -1.44 0M130.57 55.43a.72 .72 0 1 0 1.44 0a.72 .72 0 1 0 -1.44 0M53.92 90.10a.72 .72 0 1 0 1.44 0a.72 .72 0 1 0 -1.44 0M52.92 83.25a.72 .72 0 1 0 1.44 0a.72 .72 0 1 0 -1.44 0M75.73 69.85a.72 .72 0 1 0 1.44 0a.72 .72 0 1 0 -1.44 0M133.64 59.50a.72 .72 0 1 0 1.44 0a.72 .72 0 1 0 -1.44 0M47.22 103.27a.72 .72 0 1 0 1.44 0a.72 .72 0 1 0 -1.44 0M131.76 49.52a.72 .72 0 1 0 1.44 0a.72 .72 0 1 0 -1.44 0M102.48 64.38a.72 .72 0 1 0 1.44 0a.72 .72 0 1 0 -1.44 0M50.47 91.18a.72 .72 0 1 0 1.44 0a.72 .72 0 1 0 -1.44 0M98.37 55.94a.72 .72 0 1 0 1.44 0a.72 .72 0 1 0 -1.44 0M87.88 67.67a.72 .72 0 1 0 1.44 0a.72 .72 0 1 0 -1.44 0M97.93 60.50a.72 .72 0 1 0 1.44 0a.72 .72 0 1 0 -1.44 0M114.47 59.57a.72 .72 0 1 0 1.44 0a.72 .72 0 1 0 -1.44 0M108.88 62.96a.72 .72 0 1 0 1.44 0a.72 .72 0 1 0 -1.44 0M139.30 65.54a.72 .72 0 1 0 1.44 0a.72 .72 0 1 0 -1.44 0M59.03 72.73a.72 .72 0 1 0 1.44 0a.72 .72 0 1 0 -1.44 0M121.70 59.06a.72 .72 0 1 0 1.44 0a.72 .72 0 1 0 -1.44 0M83.33 68.72a.72 .72 0 1 0 1.44 0a.72 .72 0 1 0 -1.44 0M118.87 72.88a.72 .72 0 1 0 1.44 0a.72 .72 0 1 0 -1.44 0M129.23 65.76a.72 .72 0 1 0 1.44 0a.72 .72 0 1 0 -1.44 0M138.80 32.28a.72 .72 0 1 0 1.44 0a.72 .72 0 1 0 -1.44 0M69.48 69.80a.72 .72 0 1 0 1.44 0a.72 .72 0 1 0 -1.44 0M87.32 78.25a.72 .72 0 1 0 1.44 0a.72 .72 0 1 0 -1.44 0M134.10 66.83a.72 .72 0 1 0 1.44 0a.72 .72 0 1 0 -1.44 0M134.39 67.92a.72 .72 0 1 0 1.44 0a.72 .72 0 1 0 -1.44 0M79.68 83.21a.72 .72 0 1 0 1.44 0a.72 .72 0 1 0 -1.44 0M133.86 74.42a.72 .72 0 1 0 1.44 0a.72 .72 0 1 0 -1.44 0M82.83 72.86a.72 .72 0 1 0 1.44 0a.72 .72 0 1 0 -1.44 0M79.86 64.56a.72 .72 0 1 0 1.44 0a.72 .72 0 1 0 -1.44 0M116.33 59.84a.72 .72 0 1 0 1.44 0a.72 .72 0 1 0 -1.44 0M89.07 51.23a.72 .72 0 1 0 1.44 0a.72 .72 0 1 0 -1.44 0M86.87 74.46a.72 .72 0 1 0 1.44 0a.72 .72 0 1 0 -1.44 0M80.94 70.36a.72 .72 0 1 0 1.44 0a.72 .72 0 1 0 -1.44 0M85.40 79.92a.72 .72 0 1 0 1.44 0a.72 .72 0 1 0 -1.44 0M57.42 78.59a.72 .72 0 1 0 1.44 0a.72 .72 0 1 0 -1.44 0M49.90 89.88a.72 .72 0 1 0 1.44 0a.72 .72 0 1 0 -1.44 0M116.07 63.40a.72 .72 0 1 0 1.44 0a.72 .72 0 1 0 -1.44 0M97.98 77.74a.72 .72 0 1 0 1.44 0a.72 .72 0 1 0 -1.44 0M108.23 76.78a.72 .72 0 1 0 1.44 0a.72 .72 0 1 0 -1.44 0M120.69 70.29a.72 .72 0 1 0 1.44 0a.72 .72 0 1 0 -1.44 0M66.04 86.92a.72 .72 0 1 0 1.44 0a.72 .72 0 1 0 -1.44 0M66.39 87.92a.72 .72 0 1 0 1.44 0a.72 .72 0 1 0 -1.44 0M70.61 74.67a.72 .72 0 1 0 1.44 0a.72 .72 0 1 0 -1.44 0M73.09 87.17a.72 .72 0 1 0 1.44 0a.72 .72 0 1 0 -1.44 0M116.71 73.11a.72 .72 0 1 0 1.44 0a.72 .72 0 1 0 -1.44 0M79.80 70.62a.72 .72 0 1 0 1.44 0a.72 .72 0 1 0 -1.44 0M74.93 91.52a.72 .72 0 1 0 1.44 0a.72 .72 0 1 0 -1.44 0M104.84 63.39a.72 .72 0 1 0 1.44 0a.72 .72 0 1 0 -1.44 0M61.89 85.86a.72 .72 0 1 0 1.44 0a.72 .72 0 1 0 -1.44 0M54.23 88.91a.72 .72 0 1 0 1.44 0a.72 .72 0 1 0 -1.44 0M110.64 70.31a.72 .72 0 1 0 1.44 0a.72 .72 0 1 0 -1.44 0M116.31 70.74a.72 .72 0 1 0 1.44 0a.72 .72 0 1 0 -1.44 0M72.37 78.74a.72 .72 0 1 0 1.44 0a.72 .72 0 1 0 -1.44 0M104.81 56.21a.72 .72 0 1 0 1.44 0a.72 .72 0 1 0 -1.44 0M47.32 99.91a.72 .72 0 1 0 1.44 0a.72 .72 0 1 0 -1.44 0M82.68 87.56a.72 .72 0 1 0 1.44 0a.72 .72 0 1 0 -1.44 0M99.26 74.11a.72 .72 0 1 0 1.44 0a.72 .72 0 1 0 -1.44 0M68.27 73.40a.72 .72 0 1 0 1.44 0a.72 .72 0 1 0 -1.44 0M77.32 72.60a.72 .72 0 1 0 1.44 0a.72 .72 0 1 0 -1.44 0M102.28 78.24a.72 .72 0 1 0 1.44 0a.72 .72 0 1 0 -1.44 0M100.40 74.23a.72 .72 0 1 0 1.44 0a.72 .72 0 1 0 -1.44 0M58.79 83.07a.72 .72 0 1 0 1.44 0a.72 .72 0 1 0 -1.44 0M111.55 78.32a.72 .72 0 1 0 1.44 0a.72 .72 0 1 0 -1.44 0M51.71 88.60a.72 .72 0 1 0 1.44 0a.72 .72 0 1 0 -1.44 0M136.68 67.38a.72 .72 0 1 0 1.44 0a.72 .72 0 1 0 -1.44 0M63.40 79.51a.72 .72 0 1 0 1.44 0a.72 .72 0 1 0 -1.44 0M68.28 76.27a.72 .72 0 1 0 1.44 0a.72 .72 0 1 0 -1.44 0M63.20 83.19a.72 .72 0 1 0 1.44 0a.72 .72 0 1 0 -1.44 0M138.76 48.40a.72 .72 0 1 0 1.44 0a.72 .72 0 1 0 -1.44 0M71.44 83.42a.72 .72 0 1 0 1.44 0a.72 .72 0 1 0 -1.44 0M101.87 68.10a.72 .72 0 1 0 1.44 0a.72 .72 0 1 0 -1.44 0M138.67 63.06a.72 .72 0 1 0 1.44 0a.72 .72 0 1 0 -1.44 0M134.80 61.36a.72 .72 0 1 0 1.44 0a.72 .72 0 1 0 -1.44 0M48.11 94.04a.72 .72 0 1 0 1.44 0a.72 .72 0 1 0 -1.44 0M93.84 80.44a.72 .72 0 1 0 1.44 0a.72 .72 0 1 0 -1.44 0M101.49 62.84a.72 .72 0 1 0 1.44 0a.72 .72 0 1 0 -1.44 0M111.15 76.85a.72 .72 0 1 0 1.44 0a.72 .72 0 1 0 -1.44 0M76.15 70.50a.72 .72 0 1 0 1.44 0a.72 .72 0 1 0 -1.44 0M75.38 86.42a.72 .72 0 1 0 1.44 0a.72 .72 0 1 0 -1.44 0M44.48 106.64a.72 .72 0 1 0 1.44 0a.72 .72 0 1 0 -1.44 0M47.44 101.91a.72 .72 0 1 0 1.44 0a.72 .72 0 1 0 -1.44 0M96.60 74.60a.72 .72 0 1 0 1.44 0a.72 .72 0 1 0 -1.44 0M51.32 85.70a.72 .72 0 1 0 1.44 0a.72 .72 0 1 0 -1.44 0M63.41 69.74a.72 .72 0 1 0 1.44 0a.72 .72 0 1 0 -1.44 0M75.90 75.47a.72 .72 0 1 0 1.44 0a.72 .72 0 1 0 -1.44 0M50.80 93.55a.72 .72 0 1 0 1.44 0a.72 .72 0 1 0 -1.44 0M47.02 98.41a.72 .72 0 1 0 1.44 0a.72 .72 0 1 0 -1.44 0M132.59 72.80a.72 .72 0 1 0 1.44 0a.72 .72 0 1 0 -1.44 0M85.63 85.98a.72 .72 0 1 0 1.44 0a.72 .72 0 1 0 -1.44 0M63.64 78.80a.72 .72 0 1 0 1.44 0a.72 .72 0 1 0 -1.44 0M111.73 68.30a.72 .72 0 1 0 1.44 0a.72 .72 0 1 0 -1.44 0M44.97 104.79a.72 .72 0 1 0 1.44 0a.72 .72 0 1 0 -1.44 0M67.47 77.25a.72 .72 0 1 0 1.44 0a.72 .72 0 1 0 -1.44 0M135.82 37.20a.72 .72 0 1 0 1.44 0a.72 .72 0 1 0 -1.44 0M129.80 70.54a.72 .72 0 1 0 1.44 0a.72 .72 0 1 0 -1.44 0M104.80 72.49a.72 .72 0 1 0 1.44 0a.72 .72 0 1 0 -1.44 0M52.97 88.14a.72 .72 0 1 0 1.44 0a.72 .72 0 1 0 -1.44 0M74.44 67.22a.72 .72 0 1 0 1.44 0a.72 .72 0 1 0 -1.44 0M46.74 103.57a.72 .72 0 1 0 1.44 0a.72 .72 0 1 0 -1.44 0M65.00 87.50a.72 .72 0 1 0 1.44 0a.72 .72 0 1 0 -1.44 0M46.50 102.50a.72 .72 0 1 0 1.44 0a.72 .72 0 1 0 -1.44 0M56.12 82.97a.72 .72 0 1 0 1.44 0a.72 .72 0 1 0 -1.44 0M104.54 66.22a.72 .72 0 1 0 1.44 0a.72 .72 0 1 0 -1.44 0M53.66 93.13a.72 .72 0 1 0 1.44 0a.72 .72 0 1 0 -1.44 0M58.94 73.78a.72 .72 0 1 0 1.44 0a.72 .72 0 1 0 -1.44 0M130.29 60.95a.72 .72 0 1 0 1.44 0a.72 .72 0 1 0 -1.44 0M76.10 78.61a.72 .72 0 1 0 1.44 0a.72 .72 0 1 0 -1.44 0M75.87 80.98a.72 .72 0 1 0 1.44 0a.72 .72 0 1 0 -1.44 0M52.33 84.67a.72 .72 0 1 0 1.44 0a.72 .72 0 1 0 -1.44 0M120.08 68.09a.72 .72 0 1 0 1.44 0a.72 .72 0 1 0 -1.44 0M108.66 64.71a.72 .72 0 1 0 1.44 0a.72 .72 0 1 0 -1.44 0M96.32 54.78a.72 .72 0 1 0 1.44 0a.72 .72 0 1 0 -1.44 0M103.08 68.79a.72 .72 0 1 0 1.44 0a.72 .72 0 1 0 -1.44 0M53.66 78.07a.72 .72 0 1 0 1.44 0a.72 .72 0 1 0 -1.44 0M68.93 71.62a.72 .72 0 1 0 1.44 0a.72 .72 0 1 0 -1.44 0M99.81 75.45a.72 .72 0 1 0 1.44 0a.72 .72 0 1 0 -1.44 0M135.01 50.67a.72 .72 0 1 0 1.44 0a.72 .72 0 1 0 -1.44 0M122.10 58.45a.72 .72 0 1 0 1.44 0a.72 .72 0 1 0 -1.44 0M105.26 77.31a.72 .72 0 1 0 1.44 0a.72 .72 0 1 0 -1.44 0M93.62 68.57a.72 .72 0 1 0 1.44 0a.72 .72 0 1 0 -1.44 0M45.52 99.85a.72 .72 0 1 0 1.44 0a.72 .72 0 1 0 -1.44 0M129.13 55.07a.72 .72 0 1 0 1.44 0a.72 .72 0 1 0 -1.44 0M50.45 89.08a.72 .72 0 1 0 1.44 0a.72 .72 0 1 0 -1.44 0M56.40 82.70a.72 .72 0 1 0 1.44 0a.72 .72 0 1 0 -1.44 0M110.26 65.55a.72 .72 0 1 0 1.44 0a.72 .72 0 1 0 -1.44 0M121.63 69.39a.72 .72 0 1 0 1.44 0a.72 .72 0 1 0 -1.44 0M119.18 58.50a.72 .72 0 1 0 1.44 0a.72 .72 0 1 0 -1.44 0M87.27 78.04a.72 .72 0 1 0 1.44 0a.72 .72 0 1 0 -1.44 0M60.98 98.08a.72 .72 0 1 0 1.44 0a.72 .72 0 1 0 -1.44 0M47.44 97.72a.72 .72 0 1 0 1.44 0a.72 .72 0 1 0 -1.44 0M125.37 40.28a.72 .72 0 1 0 1.44 0a.72 .72 0 1 0 -1.44 0M137.44 48.16a.72 .72 0 1 0 1.44 0a.72 .72 0 1 0 -1.44 0M67.38 68.50a.72 .72 0 1 0 1.44 0a.72 .72 0 1 0 -1.44 0M126.78 36.77a.72 .72 0 1 0 1.44 0a.72 .72 0 1 0 -1.44 0M82.51 70.22a.72 .72 0 1 0 1.44 0a.72 .72 0 1 0 -1.44 0M73.80 68.05a.72 .72 0 1 0 1.44 0a.72 .72 0 1 0 -1.44 0M92.31 73.78a.72 .72 0 1 0 1.44 0a.72 .72 0 1 0 -1.44 0M44.85 107.75a.72 .72 0 1 0 1.44 0a.72 .72 0 1 0 -1.44 0M86.35 71.12a.72 .72 0 1 0 1.44 0a.72 .72 0 1 0 -1.44 0M63.13 68.47a.72 .72 0 1 0 1.44 0a.72 .72 0 1 0 -1.44 0M112.11 80.67a.72 .72 0 1 0 1.44 0a.72 .72 0 1 0 -1.44 0M92.06 78.40a.72 .72 0 1 0 1.44 0a.72 .72 0 1 0 -1.44 0M127.04 62.85a.72 .72 0 1 0 1.44 0a.72 .72 0 1 0 -1.44 0M129.70 54.18a.72 .72 0 1 0 1.44 0a.72 .72 0 1 0 -1.44 0M74.32 66.36a.72 .72 0 1 0 1.44 0a.72 .72 0 1 0 -1.44 0M70.85 68.28a.72 .72 0 1 0 1.44 0a.72 .72 0 1 0 -1.44 0M133.75 66.65a.72 .72 0 1 0 1.44 0a.72 .72 0 1 0 -1.44 0M92.20 66.05a.72 .72 0 1 0 1.44 0a.72 .72 0 1 0 -1.44 0M53.29 73.70a.72 .72 0 1 0 1.44 0a.72 .72 0 1 0 -1.44 0M48.45 92.04a.72 .72 0 1 0 1.44 0a.72 .72 0 1 0 -1.44 0M138.65 61.22a.72 .72 0 1 0 1.44 0a.72 .72 0 1 0 -1.44 0M99.38 61.12a.72 .72 0 1 0 1.44 0a.72 .72 0 1 0 -1.44 0M49.27 97.60a.72 .72 0 1 0 1.44 0a.72 .72 0 1 0 -1.44 0M92.89 68.35a.72 .72 0 1 0 1.44 0a.72 .72 0 1 0 -1.44 0M92.21 60.51a.72 .72 0 1 0 1.44 0a.72 .72 0 1 0 -1.44 0M85.65 75.32a.72 .72 0 1 0 1.44 0a.72 .72 0 1 0 -1.44 0M134.91 79.65a.72 .72 0 1 0 1.44 0a.72 .72 0 1 0 -1.44 0M134.68 72.86a.72 .72 0 1 0 1.44 0a.72 .72 0 1 0 -1.44 0M56.00 83.63a.72 .72 0 1 0 1.44 0a.72 .72 0 1 0 -1.44 0M58.56 79.26a.72 .72 0 1 0 1.44 0a.72 .72 0 1 0 -1.44 0M82.98 88.65a.72 .72 0 1 0 1.44 0a.72 .72 0 1 0 -1.44 0M123.72 77.73a.72 .72 0 1 0 1.44 0a.72 .72 0 1 0 -1.44 0M103.64 65.43a.72 .72 0 1 0 1.44 0a.72 .72 0 1 0 -1.44 0M113.77 47.91a.72 .72 0 1 0 1.44 0a.72 .72 0 1 0 -1.44 0M99.08 64.36a.72 .72 0 1 0 1.44 0a.72 .72 0 1 0 -1.44 0M64.13 79.17a.72 .72 0 1 0 1.44 0a.72 .72 0 1 0 -1.44 0M122.16 54.61a.72 .72 0 1 0 1.44 0a.72 .72 0 1 0 -1.44 0M45.41 101.80a.72 .72 0 1 0 1.44 0a.72 .72 0 1 0 -1.44 0M110.77 58.43a.72 .72 0 1 0 1.44 0a.72 .72 0 1 0 -1.44 0M62.63 87.66a.72 .72 0 1 0 1.44 0a.72 .72 0 1 0 -1.44 0M89.06 55.41a.72 .72 0 1 0 1.44 0a.72 .72 0 1 0 -1.44 0M137.19 74.19a.72 .72 0 1 0 1.44 0a.72 .72 0 1 0 -1.44 0M95.55 73.86a.72 .72 0 1 0 1.44 0a.72 .72 0 1 0 -1.44 0M49.51 102.86a.72 .72 0 1 0 1.44 0a.72 .72 0 1 0 -1.44 0M85.02 70.44a.72 .72 0 1 0 1.44 0a.72 .72 0 1 0 -1.44 0M107.12 70.26a.72 .72 0 1 0 1.44 0a.72 .72 0 1 0 -1.44 0M49.49 92.40a.72 .72 0 1 0 1.44 0a.72 .72 0 1 0 -1.44 0M68.20 79.40a.72 .72 0 1 0 1.44 0a.72 .72 0 1 0 -1.44 0M45.82 106.42a.72 .72 0 1 0 1.44 0a.72 .72 0 1 0 -1.44 0M95.65 71.66a.72 .72 0 1 0 1.44 0a.72 .72 0 1 0 -1.44 0M80.50 87.16a.72 .72 0 1 0 1.44 0a.72 .72 0 1 0 -1.44 0M92.17 52.97a.72 .72 0 1 0 1.44 0a.72 .72 0 1 0 -1.44 0M72.32 91.10a.72 .72 0 1 0 1.44 0a.72 .72 0 1 0 -1.44 0M106.79 62.63a.72 .72 0 1 0 1.44 0a.72 .72 0 1 0 -1.44 0M60.60 86.41a.72 .72 0 1 0 1.44 0a.72 .72 0 1 0 -1.44 0M130.65 69.89a.72 .72 0 1 0 1.44 0a.72 .72 0 1 0 -1.44 0M135.76 67.15a.72 .72 0 1 0 1.44 0a.72 .72 0 1 0 -1.44 0M91.15 65.05a.72 .72 0 1 0 1.44 0a.72 .72 0 1 0 -1.44 0M88.51 72.34a.72 .72 0 1 0 1.44 0a.72 .72 0 1 0 -1.44 0M126.16 63.01a.72 .72 0 1 0 1.44 0a.72 .72 0 1 0 -1.44 0M71.75 88.65a.72 .72 0 1 0 1.44 0a.72 .72 0 1 0 -1.44 0M120.76 57.89a.72 .72 0 1 0 1.44 0a.72 .72 0 1 0 -1.44 0M71.51 78.67a.72 .72 0 1 0 1.44 0a.72 .72 0 1 0 -1.44 0M112.82 71.16a.72 .72 0 1 0 1.44 0a.72 .72 0 1 0 -1.44 0M75.97 62.26a.72 .72 0 1 0 1.44 0a.72 .72 0 1 0 -1.44 0M101.62 61.17a.72 .72 0 1 0 1.44 0a.72 .72 0 1 0 -1.44 0M132.49 62.12a.72 .72 0 1 0 1.44 0a.72 .72 0 1 0 -1.44 0M49.26 92.61a.72 .72 0 1 0 1.44 0a.72 .72 0 1 0 -1.44 0M121.16 75.67a.72 .72 0 1 0 1.44 0a.72 .72 0 1 0 -1.44 0M95.81 72.20a.72 .72 0 1 0 1.44 0a.72 .72 0 1 0 -1.44 0M80.27 72.52a.72 .72 0 1 0 1.44 0a.72 .72 0 1 0 -1.44 0M77.52 86.05a.72 .72 0 1 0 1.44 0a.72 .72 0 1 0 -1.44 0M50.70 93.86a.72 .72 0 1 0 1.44 0a.72 .72 0 1 0 -1.44 0M68.74 77.83a.72 .72 0 1 0 1.44 0a.72 .72 0 1 0 -1.44 0M103.58 54.49a.72 .72 0 1 0 1.44 0a.72 .72 0 1 0 -1.44 0M53.39 90.51a.72 .72 0 1 0 1.44 0a.72 .72 0 1 0 -1.44 0M108.00 74.60a.72 .72 0 1 0 1.44 0a.72 .72 0 1 0 -1.44 0M135.96 61.72a.72 .72 0 1 0 1.44 0a.72 .72 0 1 0 -1.44 0M137.73 59.61a.72 .72 0 1 0 1.44 0a.72 .72 0 1 0 -1.44 0M128.99 62.75a.72 .72 0 1 0 1.44 0a.72 .72 0 1 0 -1.44 0M121.10 85.24a.72 .72 0 1 0 1.44 0a.72 .72 0 1 0 -1.44 0M61.06 75.05a.72 .72 0 1 0 1.44 0a.72 .72 0 1 0 -1.44 0M136.72 73.87a.72 .72 0 1 0 1.44 0a.72 .72 0 1 0 -1.44 0M63.43 80.73a.72 .72 0 1 0 1.44 0a.72 .72 0 1 0 -1.44 0M127.06 58.67a.72 .72 0 1 0 1.44 0a.72 .72 0 1 0 -1.44 0M127.90 59.03a.72 .72 0 1 0 1.44 0a.72 .72 0 1 0 -1.44 0M103.46 58.07a.72 .72 0 1 0 1.44 0a.72 .72 0 1 0 -1.44 0M93.85 69.63a.72 .72 0 1 0 1.44 0a.72 .72 0 1 0 -1.44 0M63.21 66.91a.72 .72 0 1 0 1.44 0a.72 .72 0 1 0 -1.44 0M93.68 80.10a.72 .72 0 1 0 1.44 0a.72 .72 0 1 0 -1.44 0M71.82 72.84a.72 .72 0 1 0 1.44 0a.72 .72 0 1 0 -1.44 0M56.09 81.52a.72 .72 0 1 0 1.44 0a.72 .72 0 1 0 -1.44 0M56.31 80.83a.72 .72 0 1 0 1.44 0a.72 .72 0 1 0 -1.44 0M120.58 55.93a.72 .72 0 1 0 1.44 0a.72 .72 0 1 0 -1.44 0M132.16 43.53a.72 .72 0 1 0 1.44 0a.72 .72 0 1 0 -1.44 0M57.62 59.09a.72 .72 0 1 0 1.44 0a.72 .72 0 1 0 -1.44 0M45.34 103.25a.72 .72 0 1 0 1.44 0a.72 .72 0 1 0 -1.44 0M69.25 102.13a.72 .72 0 1 0 1.44 0a.72 .72 0 1 0 -1.44 0M56.91 78.10a.72 .72 0 1 0 1.44 0a.72 .72 0 1 0 -1.44 0M62.08 88.61a.72 .72 0 1 0 1.44 0a.72 .72 0 1 0 -1.44 0M99.78 71.91a.72 .72 0 1 0 1.44 0a.72 .72 0 1 0 -1.44 0M84.40 96.17a.72 .72 0 1 0 1.44 0a.72 .72 0 1 0 -1.44 0M85.06 76.03a.72 .72 0 1 0 1.44 0a.72 .72 0 1 0 -1.44 0M63.71 76.91a.72 .72 0 1 0 1.44 0a.72 .72 0 1 0 -1.44 0M107.54 59.28a.72 .72 0 1 0 1.44 0a.72 .72 0 1 0 -1.44 0M71.72 70.44a.72 .72 0 1 0 1.44 0a.72 .72 0 1 0 -1.44 0M82.19 63.52a.72 .72 0 1 0 1.44 0a.72 .72 0 1 0 -1.44 0M88.32 84.53a.72 .72 0 1 0 1.44 0a.72 .72 0 1 0 -1.44 0M130.44 50.51a.72 .72 0 1 0 1.44 0a.72 .72 0 1 0 -1.44 0M67.60 75.87a.72 .72 0 1 0 1.44 0a.72 .72 0 1 0 -1.44 0M112.70 66.46a.72 .72 0 1 0 1.44 0a.72 .72 0 1 0 -1.44 0M73.61 78.52a.72 .72 0 1 0 1.44 0a.72 .72 0 1 0 -1.44 0M129.49 43.31a.72 .72 0 1 0 1.44 0a.72 .72 0 1 0 -1.44 0M81.70 79.16a.72 .72 0 1 0 1.44 0a.72 .72 0 1 0 -1.44 0M92.31 77.89a.72 .72 0 1 0 1.44 0a.72 .72 0 1 0 -1.44 0M127.84 56.47a.72 .72 0 1 0 1.44 0a.72 .72 0 1 0 -1.44 0M108.32 67.25a.72 .72 0 1 0 1.44 0a.72 .72 0 1 0 -1.44 0M53.08 89.73a.72 .72 0 1 0 1.44 0a.72 .72 0 1 0 -1.44 0M57.14 76.86a.72 .72 0 1 0 1.44 0a.72 .72 0 1 0 -1.44 0M138.68 67.84a.72 .72 0 1 0 1.44 0a.72 .72 0 1 0 -1.44 0M46.85 98.68a.72 .72 0 1 0 1.44 0a.72 .72 0 1 0 -1.44 0M72.80 88.26a.72 .72 0 1 0 1.44 0a.72 .72 0 1 0 -1.44 0M135.64 60.72a.72 .72 0 1 0 1.44 0a.72 .72 0 1 0 -1.44 0M45.51 104.26a.72 .72 0 1 0 1.44 0a.72 .72 0 1 0 -1.44 0M59.48 71.81a.72 .72 0 1 0 1.44 0a.72 .72 0 1 0 -1.44 0M64.45 77.27a.72 .72 0 1 0 1.44 0a.72 .72 0 1 0 -1.44 0M52.32 83.77a.72 .72 0 1 0 1.44 0a.72 .72 0 1 0 -1.44 0M89.14 71.44a.72 .72 0 1 0 1.44 0a.72 .72 0 1 0 -1.44 0M100.65 72.38a.72 .72 0 1 0 1.44 0a.72 .72 0 1 0 -1.44 0M74.47 84.37a.72 .72 0 1 0 1.44 0a.72 .72 0 1 0 -1.44 0M54.45 79.09a.72 .72 0 1 0 1.44 0a.72 .72 0 1 0 -1.44 0M121.51 64.27a.72 .72 0 1 0 1.44 0a.72 .72 0 1 0 -1.44 0M120.90 52.88a.72 .72 0 1 0 1.44 0a.72 .72 0 1 0 -1.44 0M97.75 74.14a.72 .72 0 1 0 1.44 0a.72 .72 0 1 0 -1.44 0M57.22 85.13a.72 .72 0 1 0 1.44 0a.72 .72 0 1 0 -1.44 0M95.82 61.19a.72 .72 0 1 0 1.44 0a.72 .72 0 1 0 -1.44 0M104.19 50.69a.72 .72 0 1 0 1.44 0a.72 .72 0 1 0 -1.44 0M84.97 74.77a.72 .72 0 1 0 1.44 0a.72 .72 0 1 0 -1.44 0M126.57 70.10a.72 .72 0 1 0 1.44 0a.72 .72 0 1 0 -1.44 0M81.32 73.55a.72 .72 0 1 0 1.44 0a.72 .72 0 1 0 -1.44 0M92.86 65.64a.72 .72 0 1 0 1.44 0a.72 .72 0 1 0 -1.44 0M54.97 81.46a.72 .72 0 1 0 1.44 0a.72 .72 0 1 0 -1.44 0M97.89 70.86a.72 .72 0 1 0 1.44 0a.72 .72 0 1 0 -1.44 0M117.26 57.07a.72 .72 0 1 0 1.44 0a.72 .72 0 1 0 -1.44 0M113.90 51.32a.72 .72 0 1 0 1.44 0a.72 .72 0 1 0 -1.44 0M68.61 66.59a.72 .72 0 1 0 1.44 0a.72 .72 0 1 0 -1.44 0M138.79 54.99a.72 .72 0 1 0 1.44 0a.72 .72 0 1 0 -1.44 0M112.82 73.19a.72 .72 0 1 0 1.44 0a.72 .72 0 1 0 -1.44 0M84.54 49.17a.72 .72 0 1 0 1.44 0a.72 .72 0 1 0 -1.44 0M83.69 75.53a.72 .72 0 1 0 1.44 0a.72 .72 0 1 0 -1.44 0M118.49 78.64a.72 .72 0 1 0 1.44 0a.72 .72 0 1 0 -1.44 0M60.85 77.85a.72 .72 0 1 0 1.44 0a.72 .72 0 1 0 -1.44 0M105.15 51.64a.72 .72 0 1 0 1.44 0a.72 .72 0 1 0 -1.44 0M112.72 74.83a.72 .72 0 1 0 1.44 0a.72 .72 0 1 0 -1.44 0M93.38 65.37a.72 .72 0 1 0 1.44 0a.72 .72 0 1 0 -1.44 0M127.46 40.99a.72 .72 0 1 0 1.44 0a.72 .72 0 1 0 -1.44 0M88.82 66.45a.72 .72 0 1 0 1.44 0a.72 .72 0 1 0 -1.44 0M88.47 60.77a.72 .72 0 1 0 1.44 0a.72 .72 0 1 0 -1.44 0M71.26 71.77a.72 .72 0 1 0 1.44 0a.72 .72 0 1 0 -1.44 0M131.87 46.47a.72 .72 0 1 0 1.44 0a.72 .72 0 1 0 -1.44 0M74.27 76.10a.72 .72 0 1 0 1.44 0a.72 .72 0 1 0 -1.44 0M110.47 70.35a.72 .72 0 1 0 1.44 0a.72 .72 0 1 0 -1.44 0M83.16 72.32a.72 .72 0 1 0 1.44 0a.72 .72 0 1 0 -1.44 0M133.40 80.77a.72 .72 0 1 0 1.44 0a.72 .72 0 1 0 -1.44 0M134.60 75.54a.72 .72 0 1 0 1.44 0a.72 .72 0 1 0 -1.44 0M46.94 100.46a.72 .72 0 1 0 1.44 0a.72 .72 0 1 0 -1.44 0M139.05 49.31a.72 .72 0 1 0 1.44 0a.72 .72 0 1 0 -1.44 0M101.84 80.32a.72 .72 0 1 0 1.44 0a.72 .72 0 1 0 -1.44 0M51.12 90.00a.72 .72 0 1 0 1.44 0a.72 .72 0 1 0 -1.44 0M91.54 60.83a.72 .72 0 1 0 1.44 0a.72 .72 0 1 0 -1.44 0M48.79 100.48a.72 .72 0 1 0 1.44 0a.72 .72 0 1 0 -1.44 0M96.49 78.51a.72 .72 0 1 0 1.44 0a.72 .72 0 1 0 -1.44 0M61.78 91.51a.72 .72 0 1 0 1.44 0a.72 .72 0 1 0 -1.44 0M79.21 68.32a.72 .72 0 1 0 1.44 0a.72 .72 0 1 0 -1.44 0M73.17 71.35a.72 .72 0 1 0 1.44 0a.72 .72 0 1 0 -1.44 0M101.58 82.45a.72 .72 0 1 0 1.44 0a.72 .72 0 1 0 -1.44 0M122.60 54.00a.72 .72 0 1 0 1.44 0a.72 .72 0 1 0 -1.44 0M133.51 66.26a.72 .72 0 1 0 1.44 0a.72 .72 0 1 0 -1.44 0M75.48 77.99a.72 .72 0 1 0 1.44 0a.72 .72 0 1 0 -1.44 0M98.47 65.52a.72 .72 0 1 0 1.44 0a.72 .72 0 1 0 -1.44 0M44.63 104.13a.72 .72 0 1 0 1.44 0a.72 .72 0 1 0 -1.44 0M79.61 82.63a.72 .72 0 1 0 1.44 0a.72 .72 0 1 0 -1.44 0M135.81 59.24a.72 .72 0 1 0 1.44 0a.72 .72 0 1 0 -1.44 0M55.42 79.93a.72 .72 0 1 0 1.44 0a.72 .72 0 1 0 -1.44 0M127.14 50.44a.72 .72 0 1 0 1.44 0a.72 .72 0 1 0 -1.44 0M106.38 74.74a.72 .72 0 1 0 1.44 0a.72 .72 0 1 0 -1.44 0M72.14 62.85a.72 .72 0 1 0 1.44 0a.72 .72 0 1 0 -1.44 0M118.38 81.32a.72 .72 0 1 0 1.44 0a.72 .72 0 1 0 -1.44 0M71.70 70.30a.72 .72 0 1 0 1.44 0a.72 .72 0 1 0 -1.44 0M129.52 48.86a.72 .72 0 1 0 1.44 0a.72 .72 0 1 0 -1.44 0M51.97 84.36a.72 .72 0 1 0 1.44 0a.72 .72 0 1 0 -1.44 0M55.43 72.17a.72 .72 0 1 0 1.44 0a.72 .72 0 1 0 -1.44 0M115.69 56.70a.72 .72 0 1 0 1.44 0a.72 .72 0 1 0 -1.44 0M86.97 85.31a.72 .72 0 1 0 1.44 0a.72 .72 0 1 0 -1.44 0M58.15 82.79a.72 .72 0 1 0 1.44 0a.72 .72 0 1 0 -1.44 0M93.10 60.19a.72 .72 0 1 0 1.44 0a.72 .72 0 1 0 -1.44 0M72.43 73.23a.72 .72 0 1 0 1.44 0a.72 .72 0 1 0 -1.44 0M96.53 71.43a.72 .72 0 1 0 1.44 0a.72 .72 0 1 0 -1.44 0M115.09 52.98a.72 .72 0 1 0 1.44 0a.72 .72 0 1 0 -1.44 0M125.90 59.35a.72 .72 0 1 0 1.44 0a.72 .72 0 1 0 -1.44 0M49.70 101.44a.72 .72 0 1 0 1.44 0a.72 .72 0 1 0 -1.44 0M100.64 79.60a.72 .72 0 1 0 1.44 0a.72 .72 0 1 0 -1.44 0M138.01 60.23a.72 .72 0 1 0 1.44 0a.72 .72 0 1 0 -1.44 0M87.98 75.79a.72 .72 0 1 0 1.44 0a.72 .72 0 1 0 -1.44 0M117.56 74.39a.72 .72 0 1 0 1.44 0a.72 .72 0 1 0 -1.44 0M53.36 84.93a.72 .72 0 1 0 1.44 0a.72 .72 0 1 0 -1.44 0M127.49 67.35a.72 .72 0 1 0 1.44 0a.72 .72 0 1 0 -1.44 0M99.65 53.89a.72 .72 0 1 0 1.44 0a.72 .72 0 1 0 -1.44 0M128.90 63.30a.72 .72 0 1 0 1.44 0a.72 .72 0 1 0 -1.44 0M119.24 69.93a.72 .72 0 1 0 1.44 0a.72 .72 0 1 0 -1.44 0M127.08 54.40a.72 .72 0 1 0 1.44 0a.72 .72 0 1 0 -1.44 0M49.54 94.90a.72 .72 0 1 0 1.44 0a.72 .72 0 1 0 -1.44 0M112.40 65.83a.72 .72 0 1 0 1.44 0a.72 .72 0 1 0 -1.44 0M62.88 67.94a.72 .72 0 1 0 1.44 0a.72 .72 0 1 0 -1.44 0M69.45 76.85a.72 .72 0 1 0 1.44 0a.72 .72 0 1 0 -1.44 0M75.09 82.68a.72 .72 0 1 0 1.44 0a.72 .72 0 1 0 -1.44 0M100.54 67.70a.72 .72 0 1 0 1.44 0a.72 .72 0 1 0 -1.44 0M104.03 78.34a.72 .72 0 1 0 1.44 0a.72 .72 0 1 0 -1.44 0M133.02 57.44a.72 .72 0 1 0 1.44 0a.72 .72 0 1 0 -1.44 0M45.28 101.84a.72 .72 0 1 0 1.44 0a.72 .72 0 1 0 -1.44 0M62.54 69.58a.72 .72 0 1 0 1.44 0a.72 .72 0 1 0 -1.44 0M78.64 79.83a.72 .72 0 1 0 1.44 0a.72 .72 0 1 0 -1.44 0M122.19 74.41a.72 .72 0 1 0 1.44 0a.72 .72 0 1 0 -1.44 0M96.58 62.63a.72 .72 0 1 0 1.44 0a.72 .72 0 1 0 -1.44 0M92.96 72.07a.72 .72 0 1 0 1.44 0a.72 .72 0 1 0 -1.44 0M116.67 44.01a.72 .72 0 1 0 1.44 0a.72 .72 0 1 0 -1.44 0M106.63 68.53a.72 .72 0 1 0 1.44 0a.72 .72 0 1 0 -1.44 0M71.75 75.13a.72 .72 0 1 0 1.44 0a.72 .72 0 1 0 -1.44 0M52.39 84.20a.72 .72 0 1 0 1.44 0a.72 .72 0 1 0 -1.44 0M88.22 68.14a.72 .72 0 1 0 1.44 0a.72 .72 0 1 0 -1.44 0M128.12 54.09a.72 .72 0 1 0 1.44 0a.72 .72 0 1 0 -1.44 0M101.19 66.48a.72 .72 0 1 0 1.44 0a.72 .72 0 1 0 -1.44 0M49.16 95.93a.72 .72 0 1 0 1.44 0a.72 .72 0 1 0 -1.44 0M86.10 76.32a.72 .72 0 1 0 1.44 0a.72 .72 0 1 0 -1.44 0M80.80 81.36a.72 .72 0 1 0 1.44 0a.72 .72 0 1 0 -1.44 0M99.69 50.06a.72 .72 0 1 0 1.44 0a.72 .72 0 1 0 -1.44 0M100.14 65.90a.72 .72 0 1 0 1.44 0a.72 .72 0 1 0 -1.44 0M134.92 50.30a.72 .72 0 1 0 1.44 0a.72 .72 0 1 0 -1.44 0M76.36 72.70a.72 .72 0 1 0 1.44 0a.72 .72 0 1 0 -1.44 0M83.04 82.46a.72 .72 0 1 0 1.44 0a.72 .72 0 1 0 -1.44 0M102.66 75.48a.72 .72 0 1 0 1.44 0a.72 .72 0 1 0 -1.44 0M128.72 62.00a.72 .72 0 1 0 1.44 0a.72 .72 0 1 0 -1.44 0M111.50 67.17a.72 .72 0 1 0 1.44 0a.72 .72 0 1 0 -1.44 0M89.04 80.41a.72 .72 0 1 0 1.44 0a.72 .72 0 1 0 -1.44 0M121.86 66.75a.72 .72 0 1 0 1.44 0a.72 .72 0 1 0 -1.44 0M90.42 71.06a.72 .72 0 1 0 1.44 0a.72 .72 0 1 0 -1.44 0M136.08 79.92a.72 .72 0 1 0 1.44 0a.72 .72 0 1 0 -1.44 0M71.05 89.63a.72 .72 0 1 0 1.44 0a.72 .72 0 1 0 -1.44 0M56.24 90.76a.72 .72 0 1 0 1.44 0a.72 .72 0 1 0 -1.44 0M123.37 79.60a.72 .72 0 1 0 1.44 0a.72 .72 0 1 0 -1.44 0M72.46 73.89a.72 .72 0 1 0 1.44 0a.72 .72 0 1 0 -1.44 0M124.99 62.97a.72 .72 0 1 0 1.44 0a.72 .72 0 1 0 -1.44 0M102.27 85.45a.72 .72 0 1 0 1.44 0a.72 .72 0 1 0 -1.44 0M92.67 65.18a.72 .72 0 1 0 1.44 0a.72 .72 0 1 0 -1.44 0M52.38 81.79a.72 .72 0 1 0 1.44 0a.72 .72 0 1 0 -1.44 0M119.16 65.24a.72 .72 0 1 0 1.44 0a.72 .72 0 1 0 -1.44 0M50.37 90.80a.72 .72 0 1 0 1.44 0a.72 .72 0 1 0 -1.44 0M136.24 58.21a.72 .72 0 1 0 1.44 0a.72 .72 0 1 0 -1.44 0M127.82 69.01a.72 .72 0 1 0 1.44 0a.72 .72 0 1 0 -1.44 0M73.00 62.27a.72 .72 0 1 0 1.44 0a.72 .72 0 1 0 -1.44 0M56.28 84.62a.72 .72 0 1 0 1.44 0a.72 .72 0 1 0 -1.44 0M128.65 67.07a.72 .72 0 1 0 1.44 0a.72 .72 0 1 0 -1.44 0M89.89 93.36a.72 .72 0 1 0 1.44 0a.72 .72 0 1 0 -1.44 0M56.00 75.30a.72 .72 0 1 0 1.44 0a.72 .72 0 1 0 -1.44 0M91.68 77.30a.72 .72 0 1 0 1.44 0a.72 .72 0 1 0 -1.44 0M67.64 61.95a.72 .72 0 1 0 1.44 0a.72 .72 0 1 0 -1.44 0M83.02 87.73a.72 .72 0 1 0 1.44 0a.72 .72 0 1 0 -1.44 0M105.21 54.55a.72 .72 0 1 0 1.44 0a.72 .72 0 1 0 -1.44 0M131.49 82.71a.72 .72 0 1 0 1.44 0a.72 .72 0 1 0 -1.44 0M120.56 66.80a.72 .72 0 1 0 1.44 0a.72 .72 0 1 0 -1.44 0M59.45 78.91a.72 .72 0 1 0 1.44 0a.72 .72 0 1 0 -1.44 0M89.65 75.99a.72 .72 0 1 0 1.44 0a.72 .72 0 1 0 -1.44 0M91.05 58.52a.72 .72 0 1 0 1.44 0a.72 .72 0 1 0 -1.44 0M138.56 69.51a.72 .72 0 1 0 1.44 0a.72 .72 0 1 0 -1.44 0M52.37 87.80a.72 .72 0 1 0 1.44 0a.72 .72 0 1 0 -1.44 0M92.85 71.13a.72 .72 0 1 0 1.44 0a.72 .72 0 1 0 -1.44 0M131.39 63.47a.72 .72 0 1 0 1.44 0a.72 .72 0 1 0 -1.44 0M82.16 72.57a.72 .72 0 1 0 1.44 0a.72 .72 0 1 0 -1.44 0M69.06 83.86a.72 .72 0 1 0 1.44 0a.72 .72 0 1 0 -1.44 0M97.16 71.52a.72 .72 0 1 0 1.44 0a.72 .72 0 1 0 -1.44 0M74.64 71.83a.72 .72 0 1 0 1.44 0a.72 .72 0 1 0 -1.44 0M132.60 57.43a.72 .72 0 1 0 1.44 0a.72 .72 0 1 0 -1.44 0M52.17 81.87a.72 .72 0 1 0 1.44 0a.72 .72 0 1 0 -1.44 0M63.81 82.16a.72 .72 0 1 0 1.44 0a.72 .72 0 1 0 -1.44 0M52.08 79.02a.72 .72 0 1 0 1.44 0a.72 .72 0 1 0 -1.44 0M112.05 67.26a.72 .72 0 1 0 1.44 0a.72 .72 0 1 0 -1.44 0M72.06 67.77a.72 .72 0 1 0 1.44 0a.72 .72 0 1 0 -1.44 0M130.03 63.75a.72 .72 0 1 0 1.44 0a.72 .72 0 1 0 -1.44 0M129.41 79.70a.72 .72 0 1 0 1.44 0a.72 .72 0 1 0 -1.44 0M133.49 55.10a.72 .72 0 1 0 1.44 0a.72 .72 0 1 0 -1.44 0M68.53 88.30a.72 .72 0 1 0 1.44 0a.72 .72 0 1 0 -1.44 0M44.13 107.74a.72 .72 0 1 0 1.44 0a.72 .72 0 1 0 -1.44 0M81.09 70.00a.72 .72 0 1 0 1.44 0a.72 .72 0 1 0 -1.44 0M135.99 66.94a.72 .72 0 1 0 1.44 0a.72 .72 0 1 0 -1.44 0M117.01 74.13a.72 .72 0 1 0 1.44 0a.72 .72 0 1 0 -1.44 0M49.77 92.19a.72 .72 0 1 0 1.44 0a.72 .72 0 1 0 -1.44 0M111.16 58.77a.72 .72 0 1 0 1.44 0a.72 .72 0 1 0 -1.44 0M131.65 68.30a.72 .72 0 1 0 1.44 0a.72 .72 0 1 0 -1.44 0M136.48 65.00a.72 .72 0 1 0 1.44 0a.72 .72 0 1 0 -1.44 0M112.45 63.93a.72 .72 0 1 0 1.44 0a.72 .72 0 1 0 -1.44 0M126.48 63.66a.72 .72 0 1 0 1.44 0a.72 .72 0 1 0 -1.44 0M124.45 66.93a.72 .72 0 1 0 1.44 0a.72 .72 0 1 0 -1.44 0M78.29 58.82a.72 .72 0 1 0 1.44 0a.72 .72 0 1 0 -1.44 0M53.53 85.17a.72 .72 0 1 0 1.44 0a.72 .72 0 1 0 -1.44 0M113.54 74.79a.72 .72 0 1 0 1.44 0a.72 .72 0 1 0 -1.44 0M57.14 81.78a.72 .72 0 1 0 1.44 0a.72 .72 0 1 0 -1.44 0M80.76 71.24a.72 .72 0 1 0 1.44 0a.72 .72 0 1 0 -1.44 0M139.16 67.53a.72 .72 0 1 0 1.44 0a.72 .72 0 1 0 -1.44 0M97.53 78.92a.72 .72 0 1 0 1.44 0a.72 .72 0 1 0 -1.44 0M93.89 84.75a.72 .72 0 1 0 1.44 0a.72 .72 0 1 0 -1.44 0M134.59 44.11a.72 .72 0 1 0 1.44 0a.72 .72 0 1 0 -1.44 0M71.20 71.73a.72 .72 0 1 0 1.44 0a.72 .72 0 1 0 -1.44 0M139.51 71.46a.72 .72 0 1 0 1.44 0a.72 .72 0 1 0 -1.44 0M131.16 58.93a.72 .72 0 1 0 1.44 0a.72 .72 0 1 0 -1.44 0M78.82 71.18a.72 .72 0 1 0 1.44 0a.72 .72 0 1 0 -1.44 0M75.32 65.34a.72 .72 0 1 0 1.44 0a.72 .72 0 1 0 -1.44 0M56.16 84.97a.72 .72 0 1 0 1.44 0a.72 .72 0 1 0 -1.44 0M131.51 52.81a.72 .72 0 1 0 1.44 0a.72 .72 0 1 0 -1.44 0M61.81 72.75a.72 .72 0 1 0 1.44 0a.72 .72 0 1 0 -1.44 0M44.93 107.74a.72 .72 0 1 0 1.44 0a.72 .72 0 1 0 -1.44 0M129.07 62.18a.72 .72 0 1 0 1.44 0a.72 .72 0 1 0 -1.44 0M101.19 68.02a.72 .72 0 1 0 1.44 0a.72 .72 0 1 0 -1.44 0M108.23 65.67a.72 .72 0 1 0 1.44 0a.72 .72 0 1 0 -1.44 0M114.08 85.67a.72 .72 0 1 0 1.44 0a.72 .72 0 1 0 -1.44 0M48.14 97.54a.72 .72 0 1 0 1.44 0a.72 .72 0 1 0 -1.44 0M52.84 86.97a.72 .72 0 1 0 1.44 0a.72 .72 0 1 0 -1.44 0M91.80 64.89a.72 .72 0 1 0 1.44 0a.72 .72 0 1 0 -1.44 0M48.87 95.79a.72 .72 0 1 0 1.44 0a.72 .72 0 1 0 -1.44 0M92.23 76.95a.72 .72 0 1 0 1.44 0a.72 .72 0 1 0 -1.44 0M114.39 75.52a.72 .72 0 1 0 1.44 0a.72 .72 0 1 0 -1.44 0M106.85 71.05a.72 .72 0 1 0 1.44 0a.72 .72 0 1 0 -1.44 0M102.96 67.18a.72 .72 0 1 0 1.44 0a.72 .72 0 1 0 -1.44 0M48.50 97.60a.72 .72 0 1 0 1.44 0a.72 .72 0 1 0 -1.44 0M66.67 89.67a.72 .72 0 1 0 1.44 0a.72 .72 0 1 0 -1.44 0M129.78 49.88a.72 .72 0 1 0 1.44 0a.72 .72 0 1 0 -1.44 0M55.84 75.26a.72 .72 0 1 0 1.44 0a.72 .72 0 1 0 -1.44 0M94.99 70.78a.72 .72 0 1 0 1.44 0a.72 .72 0 1 0 -1.44 0M48.85 95.86a.72 .72 0 1 0 1.44 0a.72 .72 0 1 0 -1.44 0M133.76 57.89a.72 .72 0 1 0 1.44 0a.72 .72 0 1 0 -1.44 0M60.45 77.28a.72 .72 0 1 0 1.44 0a.72 .72 0 1 0 -1.44 0M83.23 75.69a.72 .72 0 1 0 1.44 0a.72 .72 0 1 0 -1.44 0M96.29 61.26a.72 .72 0 1 0 1.44 0a.72 .72 0 1 0 -1.44 0M112.70 68.73a.72 .72 0 1 0 1.44 0a.72 .72 0 1 0 -1.44 0M133.59 65.20a.72 .72 0 1 0 1.44 0a.72 .72 0 1 0 -1.44 0M114.39 66.53a.72 .72 0 1 0 1.44 0a.72 .72 0 1 0 -1.44 0M77.24 76.11a.72 .72 0 1 0 1.44 0a.72 .72 0 1 0 -1.44 0M51.26 89.10a.72 .72 0 1 0 1.44 0a.72 .72 0 1 0 -1.44 0M111.63 38.32a.72 .72 0 1 0 1.44 0a.72 .72 0 1 0 -1.44 0M136.94 66.23a.72 .72 0 1 0 1.44 0a.72 .72 0 1 0 -1.44 0M45.69 102.74a.72 .72 0 1 0 1.44 0a.72 .72 0 1 0 -1.44 0M118.05 58.53a.72 .72 0 1 0 1.44 0a.72 .72 0 1 0 -1.44 0M60.89 88.72a.72 .72 0 1 0 1.44 0a.72 .72 0 1 0 -1.44 0M87.99 75.06a.72 .72 0 1 0 1.44 0a.72 .72 0 1 0 -1.44 0M93.98 84.41a.72 .72 0 1 0 1.44 0a.72 .72 0 1 0 -1.44 0M102.75 75.58a.72 .72 0 1 0 1.44 0a.72 .72 0 1 0 -1.44 0M138.57 74.21a.72 .72 0 1 0 1.44 0a.72 .72 0 1 0 -1.44 0M109.72 66.28a.72 .72 0 1 0 1.44 0a.72 .72 0 1 0 -1.44 0M81.54 79.37a.72 .72 0 1 0 1.44 0a.72 .72 0 1 0 -1.44 0M112.35 58.56a.72 .72 0 1 0 1.44 0a.72 .72 0 1 0 -1.44 0M88.64 75.23a.72 .72 0 1 0 1.44 0a.72 .72 0 1 0 -1.44 0M83.52 77.17a.72 .72 0 1 0 1.44 0a.72 .72 0 1 0 -1.44 0M78.99 80.00a.72 .72 0 1 0 1.44 0a.72 .72 0 1 0 -1.44 0M91.19 79.23a.72 .72 0 1 0 1.44 0a.72 .72 0 1 0 -1.44 0M70.92 67.74a.72 .72 0 1 0 1.44 0a.72 .72 0 1 0 -1.44 0M67.19 88.97a.72 .72 0 1 0 1.44 0a.72 .72 0 1 0 -1.44 0M58.25 71.92a.72 .72 0 1 0 1.44 0a.72 .72 0 1 0 -1.44 0M86.11 75.02a.72 .72 0 1 0 1.44 0a.72 .72 0 1 0 -1.44 0M72.08 87.22a.72 .72 0 1 0 1.44 0a.72 .72 0 1 0 -1.44 0M124.00 64.06a.72 .72 0 1 0 1.44 0a.72 .72 0 1 0 -1.44 0M125.04 70.10a.72 .72 0 1 0 1.44 0a.72 .72 0 1 0 -1.44 0M76.91 81.13a.72 .72 0 1 0 1.44 0a.72 .72 0 1 0 -1.44 0M103.20 58.58a.72 .72 0 1 0 1.44 0a.72 .72 0 1 0 -1.44 0M130.24 58.14a.72 .72 0 1 0 1.44 0a.72 .72 0 1 0 -1.44 0M78.37 99.02a.72 .72 0 1 0 1.44 0a.72 .72 0 1 0 -1.44 0M97.04 75.96a.72 .72 0 1 0 1.44 0a.72 .72 0 1 0 -1.44 0M86.43 85.26a.72 .72 0 1 0 1.44 0a.72 .72 0 1 0 -1.44 0M106.17 62.21a.72 .72 0 1 0 1.44 0a.72 .72 0 1 0 -1.44 0M135.73 67.29a.72 .72 0 1 0 1.44 0a.72 .72 0 1 0 -1.44 0M57.31 70.17a.72 .72 0 1 0 1.44 0a.72 .72 0 1 0 -1.44 0M136.26 42.63a.72 .72 0 1 0 1.44 0a.72 .72 0 1 0 -1.44 0M107.65 75.91a.72 .72 0 1 0 1.44 0a.72 .72 0 1 0 -1.44 0M120.07 49.69a.72 .72 0 1 0 1.44 0a.72 .72 0 1 0 -1.44 0M104.72 54.34a.72 .72 0 1 0 1.44 0a.72 .72 0 1 0 -1.44 0M127.18 49.99a.72 .72 0 1 0 1.44 0a.72 .72 0 1 0 -1.44 0M75.22 89.45a.72 .72 0 1 0 1.44 0a.72 .72 0 1 0 -1.44 0M111.69 58.54a.72 .72 0 1 0 1.44 0a.72 .72 0 1 0 -1.44 0M69.29 60.73a.72 .72 0 1 0 1.44 0a.72 .72 0 1 0 -1.44 0M92.65 73.38a.72 .72 0 1 0 1.44 0a.72 .72 0 1 0 -1.44 0M109.15 70.22a.72 .72 0 1 0 1.44 0a.72 .72 0 1 0 -1.44 0M63.28 79.97a.72 .72 0 1 0 1.44 0a.72 .72 0 1 0 -1.44 0M49.91 92.75a.72 .72 0 1 0 1.44 0a.72 .72 0 1 0 -1.44 0M119.60 41.86a.72 .72 0 1 0 1.44 0a.72 .72 0 1 0 -1.44 0M121.32 69.20a.72 .72 0 1 0 1.44 0a.72 .72 0 1 0 -1.44 0M107.64 79.03a.72 .72 0 1 0 1.44 0a.72 .72 0 1 0 -1.44 0M74.77 92.19a.72 .72 0 1 0 1.44 0a.72 .72 0 1 0 -1.44 0M106.92 62.63a.72 .72 0 1 0 1.44 0a.72 .72 0 1 0 -1.44 0M52.08 87.30a.72 .72 0 1 0 1.44 0a.72 .72 0 1 0 -1.44 0M107.34 63.44a.72 .72 0 1 0 1.44 0a.72 .72 0 1 0 -1.44 0M99.10 77.58a.72 .72 0 1 0 1.44 0a.72 .72 0 1 0 -1.44 0M103.01 68.04a.72 .72 0 1 0 1.44 0a.72 .72 0 1 0 -1.44 0M86.76 80.07a.72 .72 0 1 0 1.44 0a.72 .72 0 1 0 -1.44 0M65.57 67.19a.72 .72 0 1 0 1.44 0a.72 .72 0 1 0 -1.44 0M113.39 56.79a.72 .72 0 1 0 1.44 0a.72 .72 0 1 0 -1.44 0M88.39 64.14a.72 .72 0 1 0 1.44 0a.72 .72 0 1 0 -1.44 0M115.25 59.91a.72 .72 0 1 0 1.44 0a.72 .72 0 1 0 -1.44 0M78.85 82.64a.72 .72 0 1 0 1.44 0a.72 .72 0 1 0 -1.44 0M52.45 82.90a.72 .72 0 1 0 1.44 0a.72 .72 0 1 0 -1.44 0M95.87 57.83a.72 .72 0 1 0 1.44 0a.72 .72 0 1 0 -1.44 0M103.54 65.96a.72 .72 0 1 0 1.44 0a.72 .72 0 1 0 -1.44 0M132.10 53.27a.72 .72 0 1 0 1.44 0a.72 .72 0 1 0 -1.44 0M128.85 63.72a.72 .72 0 1 0 1.44 0a.72 .72 0 1 0 -1.44 0M49.53 90.86a.72 .72 0 1 0 1.44 0a.72 .72 0 1 0 -1.44 0M117.78 60.95a.72 .72 0 1 0 1.44 0a.72 .72 0 1 0 -1.44 0M69.03 66.50a.72 .72 0 1 0 1.44 0a.72 .72 0 1 0 -1.44 0M110.65 59.53a.72 .72 0 1 0 1.44 0a.72 .72 0 1 0 -1.44 0M80.31 77.96a.72 .72 0 1 0 1.44 0a.72 .72 0 1 0 -1.44 0M74.83 82.51a.72 .72 0 1 0 1.44 0a.72 .72 0 1 0 -1.44 0M90.70 76.00a.72 .72 0 1 0 1.44 0a.72 .72 0 1 0 -1.44 0M94.73 67.95a.72 .72 0 1 0 1.44 0a.72 .72 0 1 0 -1.44 0M110.39 77.34a.72 .72 0 1 0 1.44 0a.72 .72 0 1 0 -1.44 0M104.99 75.71a.72 .72 0 1 0 1.44 0a.72 .72 0 1 0 -1.44 0M108.84 67.54a.72 .72 0 1 0 1.44 0a.72 .72 0 1 0 -1.44 0M80.75 53.00a.72 .72 0 1 0 1.44 0a.72 .72 0 1 0 -1.44 0M108.75 60.91a.72 .72 0 1 0 1.44 0a.72 .72 0 1 0 -1.44 0M77.05 92.70a.72 .72 0 1 0 1.44 0a.72 .72 0 1 0 -1.44 0M102.09 63.99a.72 .72 0 1 0 1.44 0a.72 .72 0 1 0 -1.44 0M87.95 68.77a.72 .72 0 1 0 1.44 0a.72 .72 0 1 0 -1.44 0M97.82 73.45a.72 .72 0 1 0 1.44 0a.72 .72 0 1 0 -1.44 0M45.74 110.20a.72 .72 0 1 0 1.44 0a.72 .72 0 1 0 -1.44 0M91.70 79.88a.72 .72 0 1 0 1.44 0a.72 .72 0 1 0 -1.44 0M65.08 75.36a.72 .72 0 1 0 1.44 0a.72 .72 0 1 0 -1.44 0M80.91 58.14a.72 .72 0 1 0 1.44 0a.72 .72 0 1 0 -1.44 0M51.11 86.44a.72 .72 0 1 0 1.44 0a.72 .72 0 1 0 -1.44 0M106.80 71.77a.72 .72 0 1 0 1.44 0a.72 .72 0 1 0 -1.44 0M129.40 66.80a.72 .72 0 1 0 1.44 0a.72 .72 0 1 0 -1.44 0M77.93 70.54a.72 .72 0 1 0 1.44 0a.72 .72 0 1 0 -1.44 0M54.10 80.31a.72 .72 0 1 0 1.44 0a.72 .72 0 1 0 -1.44 0M103.30 57.09a.72 .72 0 1 0 1.44 0a.72 .72 0 1 0 -1.44 0M56.20 95.17a.72 .72 0 1 0 1.44 0a.72 .72 0 1 0 -1.44 0M129.22 63.59a.72 .72 0 1 0 1.44 0a.72 .72 0 1 0 -1.44 0M55.76 81.13a.72 .72 0 1 0 1.44 0a.72 .72 0 1 0 -1.44 0M78.63 80.37a.72 .72 0 1 0 1.44 0a.72 .72 0 1 0 -1.44 0M91.31 75.59a.72 .72 0 1 0 1.44 0a.72 .72 0 1 0 -1.44 0M55.33 83.61a.72 .72 0 1 0 1.44 0a.72 .72 0 1 0 -1.44 0M74.51 82.96a.72 .72 0 1 0 1.44 0a.72 .72 0 1 0 -1.44 0M70.36 91.43a.72 .72 0 1 0 1.44 0a.72 .72 0 1 0 -1.44 0M112.19 73.24a.72 .72 0 1 0 1.44 0a.72 .72 0 1 0 -1.44 0M138.26 57.65a.72 .72 0 1 0 1.44 0a.72 .72 0 1 0 -1.44 0M78.72 64.81a.72 .72 0 1 0 1.44 0a.72 .72 0 1 0 -1.44 0M119.58 66.73a.72 .72 0 1 0 1.44 0a.72 .72 0 1 0 -1.44 0M57.47 68.66a.72 .72 0 1 0 1.44 0a.72 .72 0 1 0 -1.44 0M99.45 57.01a.72 .72 0 1 0 1.44 0a.72 .72 0 1 0 -1.44 0M85.39 91.48a.72 .72 0 1 0 1.44 0a.72 .72 0 1 0 -1.44 0M71.59 75.06a.72 .72 0 1 0 1.44 0a.72 .72 0 1 0 -1.44 0M122.54 64.05a.72 .72 0 1 0 1.44 0a.72 .72 0 1 0 -1.44 0M115.35 61.30a.72 .72 0 1 0 1.44 0a.72 .72 0 1 0 -1.44 0M56.87 72.66a.72 .72 0 1 0 1.44 0a.72 .72 0 1 0 -1.44 0M71.99 80.06a.72 .72 0 1 0 1.44 0a.72 .72 0 1 0 -1.44 0M122.33 56.22a.72 .72 0 1 0 1.44 0a.72 .72 0 1 0 -1.44 0M138.84 77.82a.72 .72 0 1 0 1.44 0a.72 .72 0 1 0 -1.44 0M102.47 64.12a.72 .72 0 1 0 1.44 0a.72 .72 0 1 0 -1.44 0M127.32 74.83a.72 .72 0 1 0 1.44 0a.72 .72 0 1 0 -1.44 0M138.06 72.52a.72 .72 0 1 0 1.44 0a.72 .72 0 1 0 -1.44 0M114.79 58.82a.72 .72 0 1 0 1.44 0a.72 .72 0 1 0 -1.44 0M105.64 74.98a.72 .72 0 1 0 1.44 0a.72 .72 0 1 0 -1.44 0M65.20 74.21a.72 .72 0 1 0 1.44 0a.72 .72 0 1 0 -1.44 0M79.44 54.83a.72 .72 0 1 0 1.44 0a.72 .72 0 1 0 -1.44 0M103.62 60.73a.72 .72 0 1 0 1.44 0a.72 .72 0 1 0 -1.44 0M132.54 61.95a.72 .72 0 1 0 1.44 0a.72 .72 0 1 0 -1.44 0M72.90 75.84a.72 .72 0 1 0 1.44 0a.72 .72 0 1 0 -1.44 0M81.81 54.53a.72 .72 0 1 0 1.44 0a.72 .72 0 1 0 -1.44 0M46.19 107.65a.72 .72 0 1 0 1.44 0a.72 .72 0 1 0 -1.44 0M110.61 68.67a.72 .72 0 1 0 1.44 0a.72 .72 0 1 0 -1.44 0M86.43 79.74a.72 .72 0 1 0 1.44 0a.72 .72 0 1 0 -1.44 0M120.25 74.02a.72 .72 0 1 0 1.44 0a.72 .72 0 1 0 -1.44 0M66.38 86.22a.72 .72 0 1 0 1.44 0a.72 .72 0 1 0 -1.44 0M107.06 80.49a.72 .72 0 1 0 1.44 0a.72 .72 0 1 0 -1.44 0M108.35 69.54a.72 .72 0 1 0 1.44 0a.72 .72 0 1 0 -1.44 0M88.41 61.62a.72 .72 0 1 0 1.44 0a.72 .72 0 1 0 -1.44 0M62.08 81.89a.72 .72 0 1 0 1.44 0a.72 .72 0 1 0 -1.44 0M82.55 69.96a.72 .72 0 1 0 1.44 0a.72 .72 0 1 0 -1.44 0M115.22 62.16a.72 .72 0 1 0 1.44 0a.72 .72 0 1 0 -1.44 0M62.14 84.05a.72 .72 0 1 0 1.44 0a.72 .72 0 1 0 -1.44 0M52.67 82.50a.72 .72 0 1 0 1.44 0a.72 .72 0 1 0 -1.44 0M88.26 73.35a.72 .72 0 1 0 1.44 0a.72 .72 0 1 0 -1.44 0M66.47 64.23a.72 .72 0 1 0 1.44 0a.72 .72 0 1 0 -1.44 0M120.52 53.46a.72 .72 0 1 0 1.44 0a.72 .72 0 1 0 -1.44 0M122.11 67.44a.72 .72 0 1 0 1.44 0a.72 .72 0 1 0 -1.44 0M134.34 64.67a.72 .72 0 1 0 1.44 0a.72 .72 0 1 0 -1.44 0M124.27 49.13a.72 .72 0 1 0 1.44 0a.72 .72 0 1 0 -1.44 0M105.90 77.05a.72 .72 0 1 0 1.44 0a.72 .72 0 1 0 -1.44 0M61.93 64.06a.72 .72 0 1 0 1.44 0a.72 .72 0 1 0 -1.44 0M122.67 53.32a.72 .72 0 1 0 1.44 0a.72 .72 0 1 0 -1.44 0M113.60 71.02a.72 .72 0 1 0 1.44 0a.72 .72 0 1 0 -1.44 0M115.39 67.45a.72 .72 0 1 0 1.44 0a.72 .72 0 1 0 -1.44 0M110.67 59.64a.72 .72 0 1 0 1.44 0a.72 .72 0 1 0 -1.44 0M123.34 74.89a.72 .72 0 1 0 1.44 0a.72 .72 0 1 0 -1.44 0M72.51 84.88a.72 .72 0 1 0 1.44 0a.72 .72 0 1 0 -1.44 0M108.29 60.12a.72 .72 0 1 0 1.44 0a.72 .72 0 1 0 -1.44 0M93.47 68.46a.72 .72 0 1 0 1.44 0a.72 .72 0 1 0 -1.44 0M76.33 71.55a.72 .72 0 1 0 1.44 0a.72 .72 0 1 0 -1.44 0M75.28 51.70a.72 .72 0 1 0 1.44 0a.72 .72 0 1 0 -1.44 0M58.92 77.47a.72 .72 0 1 0 1.44 0a.72 .72 0 1 0 -1.44 0M91.01 75.94a.72 .72 0 1 0 1.44 0a.72 .72 0 1 0 -1.44 0M79.28 65.26a.72 .72 0 1 0 1.44 0a.72 .72 0 1 0 -1.44 0M84.32 67.95a.72 .72 0 1 0 1.44 0a.72 .72 0 1 0 -1.44 0M125.40 68.48a.72 .72 0 1 0 1.44 0a.72 .72 0 1 0 -1.44 0M109.15 76.38a.72 .72 0 1 0 1.44 0a.72 .72 0 1 0 -1.44 0M109.03 63.87a.72 .72 0 1 0 1.44 0a.72 .72 0 1 0 -1.44 0M138.04 65.10a.72 .72 0 1 0 1.44 0a.72 .72 0 1 0 -1.44 0M64.87 84.41a.72 .72 0 1 0 1.44 0a.72 .72 0 1 0 -1.44 0M92.57 77.43a.72 .72 0 1 0 1.44 0a.72 .72 0 1 0 -1.44 0M52.91 78.55a.72 .72 0 1 0 1.44 0a.72 .72 0 1 0 -1.44 0M81.58 75.62a.72 .72 0 1 0 1.44 0a.72 .72 0 1 0 -1.44 0M134.83 60.00a.72 .72 0 1 0 1.44 0a.72 .72 0 1 0 -1.44 0M52.28 92.97a.72 .72 0 1 0 1.44 0a.72 .72 0 1 0 -1.44 0M116.43 77.96a.72 .72 0 1 0 1.44 0a.72 .72 0 1 0 -1.44 0M126.72 79.89a.72 .72 0 1 0 1.44 0a.72 .72 0 1 0 -1.44 0M92.67 70.67a.72 .72 0 1 0 1.44 0a.72 .72 0 1 0 -1.44 0M120.24 71.22a.72 .72 0 1 0 1.44 0a.72 .72 0 1 0 -1.44 0M86.19 91.79a.72 .72 0 1 0 1.44 0a.72 .72 0 1 0 -1.44 0M77.81 54.43a.72 .72 0 1 0 1.44 0a.72 .72 0 1 0 -1.44 0M92.37 71.12a.72 .72 0 1 0 1.44 0a.72 .72 0 1 0 -1.44 0M62.67 84.27a.72 .72 0 1 0 1.44 0a.72 .72 0 1 0 -1.44 0M73.43 66.75a.72 .72 0 1 0 1.44 0a.72 .72 0 1 0 -1.44 0M73.23 72.16a.72 .72 0 1 0 1.44 0a.72 .72 0 1 0 -1.44 0M138.46 58.14a.72 .72 0 1 0 1.44 0a.72 .72 0 1 0 -1.44 0M76.08 61.66a.72 .72 0 1 0 1.44 0a.72 .72 0 1 0 -1.44 0M65.93 79.34a.72 .72 0 1 0 1.44 0a.72 .72 0 1 0 -1.44 0M133.82 55.53a.72 .72 0 1 0 1.44 0a.72 .72 0 1 0 -1.44 0M57.30 84.72a.72 .72 0 1 0 1.44 0a.72 .72 0 1 0 -1.44 0M136.30 71.88a.72 .72 0 1 0 1.44 0a.72 .72 0 1 0 -1.44 0M125.56 73.57a.72 .72 0 1 0 1.44 0a.72 .72 0 1 0 -1.44 0M105.86 66.26a.72 .72 0 1 0 1.44 0a.72 .72 0 1 0 -1.44 0M84.92 73.10a.72 .72 0 1 0 1.44 0a.72 .72 0 1 0 -1.44 0M62.91 82.19a.72 .72 0 1 0 1.44 0a.72 .72 0 1 0 -1.44 0M54.21 80.07a.72 .72 0 1 0 1.44 0a.72 .72 0 1 0 -1.44 0M53.97 77.07a.72 .72 0 1 0 1.44 0a.72 .72 0 1 0 -1.44 0M77.41 87.32a.72 .72 0 1 0 1.44 0a.72 .72 0 1 0 -1.44 0M82.95 68.10a.72 .72 0 1 0 1.44 0a.72 .72 0 1 0 -1.44 0M132.28 54.26a.72 .72 0 1 0 1.44 0a.72 .72 0 1 0 -1.44 0M95.28 67.96a.72 .72 0 1 0 1.44 0a.72 .72 0 1 0 -1.44 0M138.67 56.42a.72 .72 0 1 0 1.44 0a.72 .72 0 1 0 -1.44 0M112.91 69.66a.72 .72 0 1 0 1.44 0a.72 .72 0 1 0 -1.44 0M58.04 86.62a.72 .72 0 1 0 1.44 0a.72 .72 0 1 0 -1.44 0M96.93 60.56a.72 .72 0 1 0 1.44 0a.72 .72 0 1 0 -1.44 0M59.29 84.15a.72 .72 0 1 0 1.44 0a.72 .72 0 1 0 -1.44 0M47.81 97.21a.72 .72 0 1 0 1.44 0a.72 .72 0 1 0 -1.44 0M134.20 49.22a.72 .72 0 1 0 1.44 0a.72 .72 0 1 0 -1.44 0M76.33 65.34a.72 .72 0 1 0 1.44 0a.72 .72 0 1 0 -1.44 0M62.17 76.71a.72 .72 0 1 0 1.44 0a.72 .72 0 1 0 -1.44 0M53.79 82.00a.72 .72 0 1 0 1.44 0a.72 .72 0 1 0 -1.44 0M106.35 58.43a.72 .72 0 1 0 1.44 0a.72 .72 0 1 0 -1.44 0M88.11 60.69a.72 .72 0 1 0 1.44 0a.72 .72 0 1 0 -1.44 0M112.37 69.06a.72 .72 0 1 0 1.44 0a.72 .72 0 1 0 -1.44 0M68.58 71.69a.72 .72 0 1 0 1.44 0a.72 .72 0 1 0 -1.44 0M118.61 65.39a.72 .72 0 1 0 1.44 0a.72 .72 0 1 0 -1.44 0M90.73 71.25a.72 .72 0 1 0 1.44 0a.72 .72 0 1 0 -1.44 0M95.22 72.56a.72 .72 0 1 0 1.44 0a.72 .72 0 1 0 -1.44 0M87.73 87.29a.72 .72 0 1 0 1.44 0a.72 .72 0 1 0 -1.44 0M108.62 70.40a.72 .72 0 1 0 1.44 0a.72 .72 0 1 0 -1.44 0M138.62 57.69a.72 .72 0 1 0 1.44 0a.72 .72 0 1 0 -1.44 0M120.26 53.22a.72 .72 0 1 0 1.44 0a.72 .72 0 1 0 -1.44 0M50.67 91.35a.72 .72 0 1 0 1.44 0a.72 .72 0 1 0 -1.44 0M91.32 80.12a.72 .72 0 1 0 1.44 0a.72 .72 0 1 0 -1.44 0M66.44 74.62a.72 .72 0 1 0 1.44 0a.72 .72 0 1 0 -1.44 0M53.85 82.72a.72 .72 0 1 0 1.44 0a.72 .72 0 1 0 -1.44 0M62.71 72.92a.72 .72 0 1 0 1.44 0a.72 .72 0 1 0 -1.44 0M67.76 74.05a.72 .72 0 1 0 1.44 0a.72 .72 0 1 0 -1.44 0M135.72 66.59a.72 .72 0 1 0 1.44 0a.72 .72 0 1 0 -1.44 0M115.20 61.72a.72 .72 0 1 0 1.44 0a.72 .72 0 1 0 -1.44 0M125.53 65.89a.72 .72 0 1 0 1.44 0a.72 .72 0 1 0 -1.44 0M110.81 46.43a.72 .72 0 1 0 1.44 0a.72 .72 0 1 0 -1.44 0M74.21 77.30a.72 .72 0 1 0 1.44 0a.72 .72 0 1 0 -1.44 0M81.42 84.22a.72 .72 0 1 0 1.44 0a.72 .72 0 1 0 -1.44 0M86.15 56.30a.72 .72 0 1 0 1.44 0a.72 .72 0 1 0 -1.44 0M72.09 70.04a.72 .72 0 1 0 1.44 0a.72 .72 0 1 0 -1.44 0M84.32 72.05a.72 .72 0 1 0 1.44 0a.72 .72 0 1 0 -1.44 0M117.72 67.05a.72 .72 0 1 0 1.44 0a.72 .72 0 1 0 -1.44 0M51.30 88.99a.72 .72 0 1 0 1.44 0a.72 .72 0 1 0 -1.44 0M70.48 73.14a.72 .72 0 1 0 1.44 0a.72 .72 0 1 0 -1.44 0M89.82 90.27a.72 .72 0 1 0 1.44 0a.72 .72 0 1 0 -1.44 0M108.65 46.35a.72 .72 0 1 0 1.44 0a.72 .72 0 1 0 -1.44 0M105.75 71.18a.72 .72 0 1 0 1.44 0a.72 .72 0 1 0 -1.44 0M113.30 64.09a.72 .72 0 1 0 1.44 0a.72 .72 0 1 0 -1.44 0M54.12 78.42a.72 .72 0 1 0 1.44 0a.72 .72 0 1 0 -1.44 0M61.33 71.05a.72 .72 0 1 0 1.44 0a.72 .72 0 1 0 -1.44 0M73.58 93.96a.72 .72 0 1 0 1.44 0a.72 .72 0 1 0 -1.44 0M70.97 82.40a.72 .72 0 1 0 1.44 0a.72 .72 0 1 0 -1.44 0M116.23 71.58a.72 .72 0 1 0 1.44 0a.72 .72 0 1 0 -1.44 0M138.93 51.50a.72 .72 0 1 0 1.44 0a.72 .72 0 1 0 -1.44 0M109.31 57.94a.72 .72 0 1 0 1.44 0a.72 .72 0 1 0 -1.44 0M47.23 98.54a.72 .72 0 1 0 1.44 0a.72 .72 0 1 0 -1.44 0M72.49 75.83a.72 .72 0 1 0 1.44 0a.72 .72 0 1 0 -1.44 0M120.76 60.08a.72 .72 0 1 0 1.44 0a.72 .72 0 1 0 -1.44 0M132.34 55.71a.72 .72 0 1 0 1.44 0a.72 .72 0 1 0 -1.44 0M100.88 62.76a.72 .72 0 1 0 1.44 0a.72 .72 0 1 0 -1.44 0M77.38 60.40a.72 .72 0 1 0 1.44 0a.72 .72 0 1 0 -1.44 0M77.98 84.88a.72 .72 0 1 0 1.44 0a.72 .72 0 1 0 -1.44 0M104.56 74.52a.72 .72 0 1 0 1.44 0a.72 .72 0 1 0 -1.44 0M126.60 66.54a.72 .72 0 1 0 1.44 0a.72 .72 0 1 0 -1.44 0M76.62 60.95a.72 .72 0 1 0 1.44 0a.72 .72 0 1 0 -1.44 0M62.28 80.96a.72 .72 0 1 0 1.44 0a.72 .72 0 1 0 -1.44 0M44.34 104.74a.72 .72 0 1 0 1.44 0a.72 .72 0 1 0 -1.44 0M57.20 76.98a.72 .72 0 1 0 1.44 0a.72 .72 0 1 0 -1.44 0M125.36 61.96a.72 .72 0 1 0 1.44 0a.72 .72 0 1 0 -1.44 0M103.72 57.70a.72 .72 0 1 0 1.44 0a.72 .72 0 1 0 -1.44 0M138.67 59.83a.72 .72 0 1 0 1.44 0a.72 .72 0 1 0 -1.44 0M50.70 88.84a.72 .72 0 1 0 1.44 0a.72 .72 0 1 0 -1.44 0M79.02 65.85a.72 .72 0 1 0 1.44 0a.72 .72 0 1 0 -1.44 0M120.06 56.27a.72 .72 0 1 0 1.44 0a.72 .72 0 1 0 -1.44 0M107.21 81.22a.72 .72 0 1 0 1.44 0a.72 .72 0 1 0 -1.44 0M50.44 92.62a.72 .72 0 1 0 1.44 0a.72 .72 0 1 0 -1.44 0M82.41 69.58a.72 .72 0 1 0 1.44 0a.72 .72 0 1 0 -1.44 0M104.96 51.82a.72 .72 0 1 0 1.44 0a.72 .72 0 1 0 -1.44 0M109.75 54.66a.72 .72 0 1 0 1.44 0a.72 .72 0 1 0 -1.44 0M87.21 64.50a.72 .72 0 1 0 1.44 0a.72 .72 0 1 0 -1.44 0M62.04 79.06a.72 .72 0 1 0 1.44 0a.72 .72 0 1 0 -1.44 0M136.31 58.33a.72 .72 0 1 0 1.44 0a.72 .72 0 1 0 -1.44 0M88.62 97.13a.72 .72 0 1 0 1.44 0a.72 .72 0 1 0 -1.44 0M112.57 56.16a.72 .72 0 1 0 1.44 0a.72 .72 0 1 0 -1.44 0M95.14 66.50a.72 .72 0 1 0 1.44 0a.72 .72 0 1 0 -1.44 0M51.78 85.06a.72 .72 0 1 0 1.44 0a.72 .72 0 1 0 -1.44 0M66.67 96.77a.72 .72 0 1 0 1.44 0a.72 .72 0 1 0 -1.44 0M50.09 91.76a.72 .72 0 1 0 1.44 0a.72 .72 0 1 0 -1.44 0M62.29 82.27a.72 .72 0 1 0 1.44 0a.72 .72 0 1 0 -1.44 0M63.19 94.42a.72 .72 0 1 0 1.44 0a.72 .72 0 1 0 -1.44 0M83.69 85.84a.72 .72 0 1 0 1.44 0a.72 .72 0 1 0 -1.44 0M74.79 75.02a.72 .72 0 1 0 1.44 0a.72 .72 0 1 0 -1.44 0M78.69 74.93a.72 .72 0 1 0 1.44 0a.72 .72 0 1 0 -1.44 0M122.08 68.95a.72 .72 0 1 0 1.44 0a.72 .72 0 1 0 -1.44 0M46.11 105.95a.72 .72 0 1 0 1.44 0a.72 .72 0 1 0 -1.44 0M53.94 94.44a.72 .72 0 1 0 1.44 0a.72 .72 0 1 0 -1.44 0M121.21 51.58a.72 .72 0 1 0 1.44 0a.72 .72 0 1 0 -1.44 0M95.06 78.23a.72 .72 0 1 0 1.44 0a.72 .72 0 1 0 -1.44 0M85.98 64.84a.72 .72 0 1 0 1.44 0a.72 .72 0 1 0 -1.44 0M69.60 84.53a.72 .72 0 1 0 1.44 0a.72 .72 0 1 0 -1.44 0M95.86 68.20a.72 .72 0 1 0 1.44 0a.72 .72 0 1 0 -1.44 0M65.23 65.25a.72 .72 0 1 0 1.44 0a.72 .72 0 1 0 -1.44 0M126.04 76.97a.72 .72 0 1 0 1.44 0a.72 .72 0 1 0 -1.44 0M122.76 48.34a.72 .72 0 1 0 1.44 0a.72 .72 0 1 0 -1.44 0M74.81 73.09a.72 .72 0 1 0 1.44 0a.72 .72 0 1 0 -1.44 0M46.41 104.88a.72 .72 0 1 0 1.44 0a.72 .72 0 1 0 -1.44 0M128.84 68.34a.72 .72 0 1 0 1.44 0a.72 .72 0 1 0 -1.44 0M72.59 74.87a.72 .72 0 1 0 1.44 0a.72 .72 0 1 0 -1.44 0M106.80 94.70a.72 .72 0 1 0 1.44 0a.72 .72 0 1 0 -1.44 0M126.02 59.35a.72 .72 0 1 0 1.44 0a.72 .72 0 1 0 -1.44 0M120.31 61.21a.72 .72 0 1 0 1.44 0a.72 .72 0 1 0 -1.44 0M126.44 66.96a.72 .72 0 1 0 1.44 0a.72 .72 0 1 0 -1.44 0M90.78 73.22a.72 .72 0 1 0 1.44 0a.72 .72 0 1 0 -1.44 0M124.51 59.31a.72 .72 0 1 0 1.44 0a.72 .72 0 1 0 -1.44 0M88.11 86.42a.72 .72 0 1 0 1.44 0a.72 .72 0 1 0 -1.44 0M69.26 74.87a.72 .72 0 1 0 1.44 0a.72 .72 0 1 0 -1.44 0M90.00 90.12a.72 .72 0 1 0 1.44 0a.72 .72 0 1 0 -1.44 0M76.10 94.40a.72 .72 0 1 0 1.44 0a.72 .72 0 1 0 -1.44 0M117.33 56.23a.72 .72 0 1 0 1.44 0a.72 .72 0 1 0 -1.44 0M123.50 64.65a.72 .72 0 1 0 1.44 0a.72 .72 0 1 0 -1.44 0M57.55 74.30a.72 .72 0 1 0 1.44 0a.72 .72 0 1 0 -1.44 0M59.77 75.79a.72 .72 0 1 0 1.44 0a.72 .72 0 1 0 -1.44 0M80.71 93.78a.72 .72 0 1 0 1.44 0a.72 .72 0 1 0 -1.44 0M88.31 59.81a.72 .72 0 1 0 1.44 0a.72 .72 0 1 0 -1.44 0M135.40 62.99a.72 .72 0 1 0 1.44 0a.72 .72 0 1 0 -1.44 0M134.00 66.41a.72 .72 0 1 0 1.44 0a.72 .72 0 1 0 -1.44 0M136.42 63.90a.72 .72 0 1 0 1.44 0a.72 .72 0 1 0 -1.44 0M113.76 94.83a.72 .72 0 1 0 1.44 0a.72 .72 0 1 0 -1.44 0M108.74 85.53a.72 .72 0 1 0 1.44 0a.72 .72 0 1 0 -1.44 0M69.89 69.05a.72 .72 0 1 0 1.44 0a.72 .72 0 1 0 -1.44 0M79.66 91.56a.72 .72 0 1 0 1.44 0a.72 .72 0 1 0 -1.44 0M44.33 105.45a.72 .72 0 1 0 1.44 0a.72 .72 0 1 0 -1.44 0M123.62 57.63a.72 .72 0 1 0 1.44 0a.72 .72 0 1 0 -1.44 0M70.44 87.12a.72 .72 0 1 0 1.44 0a.72 .72 0 1 0 -1.44 0M51.64 93.19a.72 .72 0 1 0 1.44 0a.72 .72 0 1 0 -1.44 0M74.21 87.46a.72 .72 0 1 0 1.44 0a.72 .72 0 1 0 -1.44 0M74.93 83.82a.72 .72 0 1 0 1.44 0a.72 .72 0 1 0 -1.44 0M113.21 69.72a.72 .72 0 1 0 1.44 0a.72 .72 0 1 0 -1.44 0M44.61 107.29a.72 .72 0 1 0 1.44 0a.72 .72 0 1 0 -1.44 0M66.04 92.27a.72 .72 0 1 0 1.44 0a.72 .72 0 1 0 -1.44 0M129.68 60.47a.72 .72 0 1 0 1.44 0a.72 .72 0 1 0 -1.44 0M125.71 53.92a.72 .72 0 1 0 1.44 0a.72 .72 0 1 0 -1.44 0M104.14 74.64a.72 .72 0 1 0 1.44 0a.72 .72 0 1 0 -1.44 0M97.45 80.21a.72 .72 0 1 0 1.44 0a.72 .72 0 1 0 -1.44 0M65.33 72.94a.72 .72 0 1 0 1.44 0a.72 .72 0 1 0 -1.44 0M127.64 63.18a.72 .72 0 1 0 1.44 0a.72 .72 0 1 0 -1.44 0M116.72 58.12a.72 .72 0 1 0 1.44 0a.72 .72 0 1 0 -1.44 0M93.05 71.39a.72 .72 0 1 0 1.44 0a.72 .72 0 1 0 -1.44 0M59.45 73.84a.72 .72 0 1 0 1.44 0a.72 .72 0 1 0 -1.44 0M64.68 83.14a.72 .72 0 1 0 1.44 0a.72 .72 0 1 0 -1.44 0M80.29 90.38a.72 .72 0 1 0 1.44 0a.72 .72 0 1 0 -1.44 0M75.69 80.67a.72 .72 0 1 0 1.44 0a.72 .72 0 1 0 -1.44 0M49.90 97.42a.72 .72 0 1 0 1.44 0a.72 .72 0 1 0 -1.44 0M82.88 82.57a.72 .72 0 1 0 1.44 0a.72 .72 0 1 0 -1.44 0M86.92 66.42a.72 .72 0 1 0 1.44 0a.72 .72 0 1 0 -1.44 0M71.49 72.19a.72 .72 0 1 0 1.44 0a.72 .72 0 1 0 -1.44 0M80.77 73.30a.72 .72 0 1 0 1.44 0a.72 .72 0 1 0 -1.44 0M75.81 79.65a.72 .72 0 1 0 1.44 0a.72 .72 0 1 0 -1.44 0M80.06 69.07a.72 .72 0 1 0 1.44 0a.72 .72 0 1 0 -1.44 0M103.19 70.82a.72 .72 0 1 0 1.44 0a.72 .72 0 1 0 -1.44 0M91.56 70.09a.72 .72 0 1 0 1.44 0a.72 .72 0 1 0 -1.44 0M62.94 72.08a.72 .72 0 1 0 1.44 0a.72 .72 0 1 0 -1.44 0M120.02 73.41a.72 .72 0 1 0 1.44 0a.72 .72 0 1 0 -1.44 0M93.08 67.99a.72 .72 0 1 0 1.44 0a.72 .72 0 1 0 -1.44 0M87.84 64.92a.72 .72 0 1 0 1.44 0a.72 .72 0 1 0 -1.44 0M112.19 78.95a.72 .72 0 1 0 1.44 0a.72 .72 0 1 0 -1.44 0M115.90 67.59a.72 .72 0 1 0 1.44 0a.72 .72 0 1 0 -1.44 0M125.15 67.76a.72 .72 0 1 0 1.44 0a.72 .72 0 1 0 -1.44 0M121.54 73.21a.72 .72 0 1 0 1.44 0a.72 .72 0 1 0 -1.44 0M107.96 71.70a.72 .72 0 1 0 1.44 0a.72 .72 0 1 0 -1.44 0M112.94 60.43a.72 .72 0 1 0 1.44 0a.72 .72 0 1 0 -1.44 0M59.08 80.07a.72 .72 0 1 0 1.44 0a.72 .72 0 1 0 -1.44 0M110.85 54.05a.72 .72 0 1 0 1.44 0a.72 .72 0 1 0 -1.44 0M68.37 74.61a.72 .72 0 1 0 1.44 0a.72 .72 0 1 0 -1.44 0M68.69 71.91a.72 .72 0 1 0 1.44 0a.72 .72 0 1 0 -1.44 0M55.54 78.51a.72 .72 0 1 0 1.44 0a.72 .72 0 1 0 -1.44 0M81.97 74.13a.72 .72 0 1 0 1.44 0a.72 .72 0 1 0 -1.44 0M45.97 102.41a.72 .72 0 1 0 1.44 0a.72 .72 0 1 0 -1.44 0M106.81 65.20a.72 .72 0 1 0 1.44 0a.72 .72 0 1 0 -1.44 0M115.51 75.36a.72 .72 0 1 0 1.44 0a.72 .72 0 1 0 -1.44 0M118.13 73.17a.72 .72 0 1 0 1.44 0a.72 .72 0 1 0 -1.44 0M56.38 77.23a.72 .72 0 1 0 1.44 0a.72 .72 0 1 0 -1.44 0M105.29 66.41a.72 .72 0 1 0 1.44 0a.72 .72 0 1 0 -1.44 0M124.12 77.54a.72 .72 0 1 0 1.44 0a.72 .72 0 1 0 -1.44 0M47.51 102.33a.72 .72 0 1 0 1.44 0a.72 .72 0 1 0 -1.44 0M62.54 88.76a.72 .72 0 1 0 1.44 0a.72 .72 0 1 0 -1.44 0M69.64 64.72a.72 .72 0 1 0 1.44 0a.72 .72 0 1 0 -1.44 0M88.19 73.10a.72 .72 0 1 0 1.44 0a.72 .72 0 1 0 -1.44 0M60.51 78.90a.72 .72 0 1 0 1.44 0a.72 .72 0 1 0 -1.44 0M95.53 70.94a.72 .72 0 1 0 1.44 0a.72 .72 0 1 0 -1.44 0M76.92 64.40a.72 .72 0 1 0 1.44 0a.72 .72 0 1 0 -1.44 0M106.63 65.59a.72 .72 0 1 0 1.44 0a.72 .72 0 1 0 -1.44 0M94.81 68.05a.72 .72 0 1 0 1.44 0a.72 .72 0 1 0 -1.44 0M109.61 64.22a.72 .72 0 1 0 1.44 0a.72 .72 0 1 0 -1.44 0M67.59 85.09a.72 .72 0 1 0 1.44 0a.72 .72 0 1 0 -1.44 0M111.59 76.29a.72 .72 0 1 0 1.44 0a.72 .72 0 1 0 -1.44 0M114.23 64.35a.72 .72 0 1 0 1.44 0a.72 .72 0 1 0 -1.44 0M113.02 74.34a.72 .72 0 1 0 1.44 0a.72 .72 0 1 0 -1.44 0M50.61 95.51a.72 .72 0 1 0 1.44 0a.72 .72 0 1 0 -1.44 0M134.42 59.49a.72 .72 0 1 0 1.44 0a.72 .72 0 1 0 -1.44 0M99.16 62.92a.72 .72 0 1 0 1.44 0a.72 .72 0 1 0 -1.44 0M70.08 71.38a.72 .72 0 1 0 1.44 0a.72 .72 0 1 0 -1.44 0M85.53 63.16a.72 .72 0 1 0 1.44 0a.72 .72 0 1 0 -1.44 0M93.50 77.09a.72 .72 0 1 0 1.44 0a.72 .72 0 1 0 -1.44 0M93.52 64.35a.72 .72 0 1 0 1.44 0a.72 .72 0 1 0 -1.44 0M67.75 70.42a.72 .72 0 1 0 1.44 0a.72 .72 0 1 0 -1.44 0M69.37 89.28a.72 .72 0 1 0 1.44 0a.72 .72 0 1 0 -1.44 0M78.79 93.76a.72 .72 0 1 0 1.44 0a.72 .72 0 1 0 -1.44 0M118.65 53.57a.72 .72 0 1 0 1.44 0a.72 .72 0 1 0 -1.44 0M85.84 80.61a.72 .72 0 1 0 1.44 0a.72 .72 0 1 0 -1.44 0M47.76 102.90a.72 .72 0 1 0 1.44 0a.72 .72 0 1 0 -1.44 0M87.25 67.95a.72 .72 0 1 0 1.44 0a.72 .72 0 1 0 -1.44 0M63.30 93.74a.72 .72 0 1 0 1.44 0a.72 .72 0 1 0 -1.44 0M45.26 103.53a.72 .72 0 1 0 1.44 0a.72 .72 0 1 0 -1.44 0M137.37 51.22a.72 .72 0 1 0 1.44 0a.72 .72 0 1 0 -1.44 0M72.12 71.54a.72 .72 0 1 0 1.44 0a.72 .72 0 1 0 -1.44 0M95.40 69.34a.72 .72 0 1 0 1.44 0a.72 .72 0 1 0 -1.44 0M78.28 68.68a.72 .72 0 1 0 1.44 0a.72 .72 0 1 0 -1.44 0M49.17 94.98a.72 .72 0 1 0 1.44 0a.72 .72 0 1 0 -1.44 0M130.10 76.22a.72 .72 0 1 0 1.44 0a.72 .72 0 1 0 -1.44 0M133.42 63.15a.72 .72 0 1 0 1.44 0a.72 .72 0 1 0 -1.44 0M61.87 84.97a.72 .72 0 1 0 1.44 0a.72 .72 0 1 0 -1.44 0M83.99 59.52a.72 .72 0 1 0 1.44 0a.72 .72 0 1 0 -1.44 0M79.75 67.35a.72 .72 0 1 0 1.44 0a.72 .72 0 1 0 -1.44 0M60.04 79.57a.72 .72 0 1 0 1.44 0a.72 .72 0 1 0 -1.44 0M107.26 64.91a.72 .72 0 1 0 1.44 0a.72 .72 0 1 0 -1.44 0M118.75 68.05a.72 .72 0 1 0 1.44 0a.72 .72 0 1 0 -1.44 0M116.62 52.97a.72 .72 0 1 0 1.44 0a.72 .72 0 1 0 -1.44 0M108.55 75.06a.72 .72 0 1 0 1.44 0a.72 .72 0 1 0 -1.44 0M45.74 98.71a.72 .72 0 1 0 1.44 0a.72 .72 0 1 0 -1.44 0M66.00 66.99a.72 .72 0 1 0 1.44 0a.72 .72 0 1 0 -1.44 0M93.21 80.20a.72 .72 0 1 0 1.44 0a.72 .72 0 1 0 -1.44 0M111.19 70.78a.72 .72 0 1 0 1.44 0a.72 .72 0 1 0 -1.44 0M80.97 71.43a.72 .72 0 1 0 1.44 0a.72 .72 0 1 0 -1.44 0M86.97 67.64a.72 .72 0 1 0 1.44 0a.72 .72 0 1 0 -1.44 0M124.36 54.44a.72 .72 0 1 0 1.44 0a.72 .72 0 1 0 -1.44 0M46.32 103.43a.72 .72 0 1 0 1.44 0a.72 .72 0 1 0 -1.44 0M69.72 84.32a.72 .72 0 1 0 1.44 0a.72 .72 0 1 0 -1.44 0M71.76 76.00a.72 .72 0 1 0 1.44 0a.72 .72 0 1 0 -1.44 0M138.88 80.64a.72 .72 0 1 0 1.44 0a.72 .72 0 1 0 -1.44 0M65.80 84.67a.72 .72 0 1 0 1.44 0a.72 .72 0 1 0 -1.44 0M48.57 98.43a.72 .72 0 1 0 1.44 0a.72 .72 0 1 0 -1.44 0M83.84 83.48a.72 .72 0 1 0 1.44 0a.72 .72 0 1 0 -1.44 0M106.10 46.93a.72 .72 0 1 0 1.44 0a.72 .72 0 1 0 -1.44 0M58.72 74.23a.72 .72 0 1 0 1.44 0a.72 .72 0 1 0 -1.44 0M124.26 64.93a.72 .72 0 1 0 1.44 0a.72 .72 0 1 0 -1.44 0M62.83 72.21a.72 .72 0 1 0 1.44 0a.72 .72 0 1 0 -1.44 0M111.33 67.24a.72 .72 0 1 0 1.44 0a.72 .72 0 1 0 -1.44 0M59.52 82.99a.72 .72 0 1 0 1.44 0a.72 .72 0 1 0 -1.44 0M128.27 58.54a.72 .72 0 1 0 1.44 0a.72 .72 0 1 0 -1.44 0M63.30 87.74a.72 .72 0 1 0 1.44 0a.72 .72 0 1 0 -1.44 0M113.91 73.44a.72 .72 0 1 0 1.44 0a.72 .72 0 1 0 -1.44 0M124.16 53.96a.72 .72 0 1 0 1.44 0a.72 .72 0 1 0 -1.44 0M68.42 76.94a.72 .72 0 1 0 1.44 0a.72 .72 0 1 0 -1.44 0M52.93 93.78a.72 .72 0 1 0 1.44 0a.72 .72 0 1 0 -1.44 0M100.05 78.59a.72 .72 0 1 0 1.44 0a.72 .72 0 1 0 -1.44 0M91.73 71.91a.72 .72 0 1 0 1.44 0a.72 .72 0 1 0 -1.44 0M89.84 67.07a.72 .72 0 1 0 1.44 0a.72 .72 0 1 0 -1.44 0M118.69 87.12a.72 .72 0 1 0 1.44 0a.72 .72 0 1 0 -1.44 0M88.30 54.90a.72 .72 0 1 0 1.44 0a.72 .72 0 1 0 -1.44 0M91.54 58.83a.72 .72 0 1 0 1.44 0a.72 .72 0 1 0 -1.44 0M90.60 85.27a.72 .72 0 1 0 1.44 0a.72 .72 0 1 0 -1.44 0M87.48 66.42a.72 .72 0 1 0 1.44 0a.72 .72 0 1 0 -1.44 0M82.82 80.60a.72 .72 0 1 0 1.44 0a.72 .72 0 1 0 -1.44 0M59.44 77.23a.72 .72 0 1 0 1.44 0a.72 .72 0 1 0 -1.44 0M72.27 79.47a.72 .72 0 1 0 1.44 0a.72 .72 0 1 0 -1.44 0M69.37 57.04a.72 .72 0 1 0 1.44 0a.72 .72 0 1 0 -1.44 0M67.77 60.62a.72 .72 0 1 0 1.44 0a.72 .72 0 1 0 -1.44 0M118.83 73.29a.72 .72 0 1 0 1.44 0a.72 .72 0 1 0 -1.44 0M54.96 75.45a.72 .72 0 1 0 1.44 0a.72 .72 0 1 0 -1.44 0M63.69 58.99a.72 .72 0 1 0 1.44 0a.72 .72 0 1 0 -1.44 0M94.34 69.65a.72 .72 0 1 0 1.44 0a.72 .72 0 1 0 -1.44 0M73.92 62.26a.72 .72 0 1 0 1.44 0a.72 .72 0 1 0 -1.44 0M67.00 78.92a.72 .72 0 1 0 1.44 0a.72 .72 0 1 0 -1.44 0M79.73 66.19a.72 .72 0 1 0 1.44 0a.72 .72 0 1 0 -1.44 0M92.01 77.39a.72 .72 0 1 0 1.44 0a.72 .72 0 1 0 -1.44 0M108.47 64.64a.72 .72 0 1 0 1.44 0a.72 .72 0 1 0 -1.44 0M136.91 60.92a.72 .72 0 1 0 1.44 0a.72 .72 0 1 0 -1.44 0M125.49 66.62a.72 .72 0 1 0 1.44 0a.72 .72 0 1 0 -1.44 0M85.13 77.65a.72 .72 0 1 0 1.44 0a.72 .72 0 1 0 -1.44 0M87.20 80.28a.72 .72 0 1 0 1.44 0a.72 .72 0 1 0 -1.44 0M83.77 71.29a.72 .72 0 1 0 1.44 0a.72 .72 0 1 0 -1.44 0M66.89 74.27a.72 .72 0 1 0 1.44 0a.72 .72 0 1 0 -1.44 0M134.96 64.88a.72 .72 0 1 0 1.44 0a.72 .72 0 1 0 -1.44 0M50.63 88.83a.72 .72 0 1 0 1.44 0a.72 .72 0 1 0 -1.44 0M63.64 70.66a.72 .72 0 1 0 1.44 0a.72 .72 0 1 0 -1.44 0M107.29 72.33a.72 .72 0 1 0 1.44 0a.72 .72 0 1 0 -1.44 0M100.37 84.16a.72 .72 0 1 0 1.44 0a.72 .72 0 1 0 -1.44 0M70.68 71.02a.72 .72 0 1 0 1.44 0a.72 .72 0 1 0 -1.44 0M133.55 60.77a.72 .72 0 1 0 1.44 0a.72 .72 0 1 0 -1.44 0M83.17 76.48a.72 .72 0 1 0 1.44 0a.72 .72 0 1 0 -1.44 0M101.01 54.19a.72 .72 0 1 0 1.44 0a.72 .72 0 1 0 -1.44 0M52.76 93.11a.72 .72 0 1 0 1.44 0a.72 .72 0 1 0 -1.44 0M129.15 58.07a.72 .72 0 1 0 1.44 0a.72 .72 0 1 0 -1.44 0M53.91 81.95a.72 .72 0 1 0 1.44 0a.72 .72 0 1 0 -1.44 0M81.70 73.43a.72 .72 0 1 0 1.44 0a.72 .72 0 1 0 -1.44 0M128.64 80.54a.72 .72 0 1 0 1.44 0a.72 .72 0 1 0 -1.44 0M134.31 68.65a.72 .72 0 1 0 1.44 0a.72 .72 0 1 0 -1.44 0M130.40 60.10a.72 .72 0 1 0 1.44 0a.72 .72 0 1 0 -1.44 0M123.10 49.14a.72 .72 0 1 0 1.44 0a.72 .72 0 1 0 -1.44 0M66.35 81.61a.72 .72 0 1 0 1.44 0a.72 .72 0 1 0 -1.44 0M47.11 104.28a.72 .72 0 1 0 1.44 0a.72 .72 0 1 0 -1.44 0M87.22 67.13a.72 .72 0 1 0 1.44 0a.72 .72 0 1 0 -1.44 0M50.10 85.76a.72 .72 0 1 0 1.44 0a.72 .72 0 1 0 -1.44 0M135.80 59.51a.72 .72 0 1 0 1.44 0a.72 .72 0 1 0 -1.44 0M44.85 109.07a.72 .72 0 1 0 1.44 0a.72 .72 0 1 0 -1.44 0M75.15 78.50a.72 .72 0 1 0 1.44 0a.72 .72 0 1 0 -1.44 0M63.48 71.88a.72 .72 0 1 0 1.44 0a.72 .72 0 1 0 -1.44 0M45.38 107.06a.72 .72 0 1 0 1.44 0a.72 .72 0 1 0 -1.44 0M91.73 59.67a.72 .72 0 1 0 1.44 0a.72 .72 0 1 0 -1.44 0M51.33 91.71a.72 .72 0 1 0 1.44 0a.72 .72 0 1 0 -1.44 0M130.01 55.16a.72 .72 0 1 0 1.44 0a.72 .72 0 1 0 -1.44 0M109.74 65.85a.72 .72 0 1 0 1.44 0a.72 .72 0 1 0 -1.44 0M79.40 63.96a.72 .72 0 1 0 1.44 0a.72 .72 0 1 0 -1.44 0M124.44 59.57a.72 .72 0 1 0 1.44 0a.72 .72 0 1 0 -1.44 0M120.17 67.30a.72 .72 0 1 0 1.44 0a.72 .72 0 1 0 -1.44 0M75.24 69.01a.72 .72 0 1 0 1.44 0a.72 .72 0 1 0 -1.44 0M124.98 66.70a.72 .72 0 1 0 1.44 0a.72 .72 0 1 0 -1.44 0M132.83 67.31a.72 .72 0 1 0 1.44 0a.72 .72 0 1 0 -1.44 0M103.27 60.79a.72 .72 0 1 0 1.44 0a.72 .72 0 1 0 -1.44 0M77.66 57.88a.72 .72 0 1 0 1.44 0a.72 .72 0 1 0 -1.44 0M130.07 65.45a.72 .72 0 1 0 1.44 0a.72 .72 0 1 0 -1.44 0M134.11 66.26a.72 .72 0 1 0 1.44 0a.72 .72 0 1 0 -1.44 0M77.23 76.53a.72 .72 0 1 0 1.44 0a.72 .72 0 1 0 -1.44 0M52.31 83.00a.72 .72 0 1 0 1.44 0a.72 .72 0 1 0 -1.44 0M126.94 76.23a.72 .72 0 1 0 1.44 0a.72 .72 0 1 0 -1.44 0M107.56 72.71a.72 .72 0 1 0 1.44 0a.72 .72 0 1 0 -1.44 0M66.23 80.83a.72 .72 0 1 0 1.44 0a.72 .72 0 1 0 -1.44 0M98.21 69.86a.72 .72 0 1 0 1.44 0a.72 .72 0 1 0 -1.44 0M73.50 69.12a.72 .72 0 1 0 1.44 0a.72 .72 0 1 0 -1.44 0M131.85 75.06a.72 .72 0 1 0 1.44 0a.72 .72 0 1 0 -1.44 0M76.74 77.43a.72 .72 0 1 0 1.44 0a.72 .72 0 1 0 -1.44 0M62.81 71.51a.72 .72 0 1 0 1.44 0a.72 .72 0 1 0 -1.44 0M48.20 95.04a.72 .72 0 1 0 1.44 0a.72 .72 0 1 0 -1.44 0M76.78 65.93a.72 .72 0 1 0 1.44 0a.72 .72 0 1 0 -1.44 0M138.56 54.40a.72 .72 0 1 0 1.44 0a.72 .72 0 1 0 -1.44 0M64.92 80.18a.72 .72 0 1 0 1.44 0a.72 .72 0 1 0 -1.44 0M87.81 82.46a.72 .72 0 1 0 1.44 0a.72 .72 0 1 0 -1.44 0M136.90 51.90a.72 .72 0 1 0 1.44 0a.72 .72 0 1 0 -1.44 0M44.71 106.11a.72 .72 0 1 0 1.44 0a.72 .72 0 1 0 -1.44 0M72.25 81.85a.72 .72 0 1 0 1.44 0a.72 .72 0 1 0 -1.44 0M122.49 55.32a.72 .72 0 1 0 1.44 0a.72 .72 0 1 0 -1.44 0M53.21 88.25a.72 .72 0 1 0 1.44 0a.72 .72 0 1 0 -1.44 0M132.72 73.71a.72 .72 0 1 0 1.44 0a.72 .72 0 1 0 -1.44 0M123.77 54.73a.72 .72 0 1 0 1.44 0a.72 .72 0 1 0 -1.44 0M57.73 72.56a.72 .72 0 1 0 1.44 0a.72 .72 0 1 0 -1.44 0M100.64 74.92a.72 .72 0 1 0 1.44 0a.72 .72 0 1 0 -1.44 0M97.12 83.42a.72 .72 0 1 0 1.44 0a.72 .72 0 1 0 -1.44 0M110.32 62.01a.72 .72 0 1 0 1.44 0a.72 .72 0 1 0 -1.44 0M73.37 73.50a.72 .72 0 1 0 1.44 0a.72 .72 0 1 0 -1.44 0M80.76 70.99a.72 .72 0 1 0 1.44 0a.72 .72 0 1 0 -1.44 0M67.07 77.26a.72 .72 0 1 0 1.44 0a.72 .72 0 1 0 -1.44 0M71.95 64.17a.72 .72 0 1 0 1.44 0a.72 .72 0 1 0 -1.44 0M60.85 81.07a.72 .72 0 1 0 1.44 0a.72 .72 0 1 0 -1.44 0M130.44 46.89a.72 .72 0 1 0 1.44 0a.72 .72 0 1 0 -1.44 0M128.82 67.47a.72 .72 0 1 0 1.44 0a.72 .72 0 1 0 -1.44 0M78.45 63.66a.72 .72 0 1 0 1.44 0a.72 .72 0 1 0 -1.44 0M110.27 61.84a.72 .72 0 1 0 1.44 0a.72 .72 0 1 0 -1.44 0M90.89 52.38a.72 .72 0 1 0 1.44 0a.72 .72 0 1 0 -1.44 0M70.88 79.54a.72 .72 0 1 0 1.44 0a.72 .72 0 1 0 -1.44 0M77.46 68.81a.72 .72 0 1 0 1.44 0a.72 .72 0 1 0 -1.44 0M136.24 59.93a.72 .72 0 1 0 1.44 0a.72 .72 0 1 0 -1.44 0M76.68 82.09a.72 .72 0 1 0 1.44 0a.72 .72 0 1 0 -1.44 0M99.33 82.25a.72 .72 0 1 0 1.44 0a.72 .72 0 1 0 -1.44 0M134.32 71.30a.72 .72 0 1 0 1.44 0a.72 .72 0 1 0 -1.44 0M72.49 68.83a.72 .72 0 1 0 1.44 0a.72 .72 0 1 0 -1.44 0M121.32 75.46a.72 .72 0 1 0 1.44 0a.72 .72 0 1 0 -1.44 0M54.96 91.48a.72 .72 0 1 0 1.44 0a.72 .72 0 1 0 -1.44 0M114.10 60.20a.72 .72 0 1 0 1.44 0a.72 .72 0 1 0 -1.44 0M121.11 56.38a.72 .72 0 1 0 1.44 0a.72 .72 0 1 0 -1.44 0M124.04 76.15a.72 .72 0 1 0 1.44 0a.72 .72 0 1 0 -1.44 0M137.19 56.52a.72 .72 0 1 0 1.44 0a.72 .72 0 1 0 -1.44 0M111.96 73.74a.72 .72 0 1 0 1.44 0a.72 .72 0 1 0 -1.44 0M137.39 72.29a.72 .72 0 1 0 1.44 0a.72 .72 0 1 0 -1.44 0M70.65 72.37a.72 .72 0 1 0 1.44 0a.72 .72 0 1 0 -1.44 0M93.88 81.22a.72 .72 0 1 0 1.44 0a.72 .72 0 1 0 -1.44 0M64.51 73.21a.72 .72 0 1 0 1.44 0a.72 .72 0 1 0 -1.44 0M52.05 88.09a.72 .72 0 1 0 1.44 0a.72 .72 0 1 0 -1.44 0M85.99 84.59a.72 .72 0 1 0 1.44 0a.72 .72 0 1 0 -1.44 0M112.80 58.93a.72 .72 0 1 0 1.44 0a.72 .72 0 1 0 -1.44 0M118.41 72.95a.72 .72 0 1 0 1.44 0a.72 .72 0 1 0 -1.44 0M45.69 104.72a.72 .72 0 1 0 1.44 0a.72 .72 0 1 0 -1.44 0M134.05 57.65a.72 .72 0 1 0 1.44 0a.72 .72 0 1 0 -1.44 0M67.68 67.02a.72 .72 0 1 0 1.44 0a.72 .72 0 1 0 -1.44 0M71.97 81.48a.72 .72 0 1 0 1.44 0a.72 .72 0 1 0 -1.44 0M123.56 65.28a.72 .72 0 1 0 1.44 0a.72 .72 0 1 0 -1.44 0M129.47 72.31a.72 .72 0 1 0 1.44 0a.72 .72 0 1 0 -1.44 0M114.40 81.27a.72 .72 0 1 0 1.44 0a.72 .72 0 1 0 -1.44 0M75.85 72.74a.72 .72 0 1 0 1.44 0a.72 .72 0 1 0 -1.44 0M88.27 67.66a.72 .72 0 1 0 1.44 0a.72 .72 0 1 0 -1.44 0M123.77 53.63a.72 .72 0 1 0 1.44 0a.72 .72 0 1 0 -1.44 0M78.19 76.91a.72 .72 0 1 0 1.44 0a.72 .72 0 1 0 -1.44 0M120.97 48.10a.72 .72 0 1 0 1.44 0a.72 .72 0 1 0 -1.44 0M118.75 74.22a.72 .72 0 1 0 1.44 0a.72 .72 0 1 0 -1.44 0M88.83 76.92a.72 .72 0 1 0 1.44 0a.72 .72 0 1 0 -1.44 0M129.69 42.40a.72 .72 0 1 0 1.44 0a.72 .72 0 1 0 -1.44 0M80.79 73.31a.72 .72 0 1 0 1.44 0a.72 .72 0 1 0 -1.44 0M115.69 67.81a.72 .72 0 1 0 1.44 0a.72 .72 0 1 0 -1.44 0M105.16 68.33a.72 .72 0 1 0 1.44 0a.72 .72 0 1 0 -1.44 0M75.70 89.21a.72 .72 0 1 0 1.44 0a.72 .72 0 1 0 -1.44 0M94.85 74.49a.72 .72 0 1 0 1.44 0a.72 .72 0 1 0 -1.44 0M101.95 65.73a.72 .72 0 1 0 1.44 0a.72 .72 0 1 0 -1.44 0M95.34 65.79a.72 .72 0 1 0 1.44 0a.72 .72 0 1 0 -1.44 0M54.64 80.89a.72 .72 0 1 0 1.44 0a.72 .72 0 1 0 -1.44 0M138.75 55.14a.72 .72 0 1 0 1.44 0a.72 .72 0 1 0 -1.44 0M136.38 42.64a.72 .72 0 1 0 1.44 0a.72 .72 0 1 0 -1.44 0M47.65 99.98a.72 .72 0 1 0 1.44 0a.72 .72 0 1 0 -1.44 0M134.25 73.70a.72 .72 0 1 0 1.44 0a.72 .72 0 1 0 -1.44 0M94.83 51.72a.72 .72 0 1 0 1.44 0a.72 .72 0 1 0 -1.44 0M56.07 84.62a.72 .72 0 1 0 1.44 0a.72 .72 0 1 0 -1.44 0M122.43 54.08a.72 .72 0 1 0 1.44 0a.72 .72 0 1 0 -1.44 0M85.42 79.92a.72 .72 0 1 0 1.44 0a.72 .72 0 1 0 -1.44 0M151.97 63.00a.72 .72 0 1 0 1.44 0a.72 .72 0 1 0 -1.44 0M196.74 47.02a.72 .72 0 1 0 1.44 0a.72 .72 0 1 0 -1.44 0M153.98 60.87a.72 .72 0 1 0 1.44 0a.72 .72 0 1 0 -1.44 0M141.56 58.41a.72 .72 0 1 0 1.44 0a.72 .72 0 1 0 -1.44 0M154.36 60.79a.72 .72 0 1 0 1.44 0a.72 .72 0 1 0 -1.44 0M160.31 52.92a.72 .72 0 1 0 1.44 0a.72 .72 0 1 0 -1.44 0M196.13 55.92a.72 .72 0 1 0 1.44 0a.72 .72 0 1 0 -1.44 0M150.89 64.55a.72 .72 0 1 0 1.44 0a.72 .72 0 1 0 -1.44 0M152.75 60.70a.72 .72 0 1 0 1.44 0a.72 .72 0 1 0 -1.44 0M144.51 47.03a.72 .72 0 1 0 1.44 0a.72 .72 0 1 0 -1.44 0M162.19 63.73a.72 .72 0 1 0 1.44 0a.72 .72 0 1 0 -1.44 0M144.29 63.20a.72 .72 0 1 0 1.44 0a.72 .72 0 1 0 -1.44 0M139.76 61.86a.72 .72 0 1 0 1.44 0a.72 .72 0 1 0 -1.44 0M140.83 41.02a.72 .72 0 1 0 1.44 0a.72 .72 0 1 0 -1.44 0M146.53 60.87a.72 .72 0 1 0 1.44 0a.72 .72 0 1 0 -1.44 0M141.93 67.26a.72 .72 0 1 0 1.44 0a.72 .72 0 1 0 -1.44 0M160.56 51.16a.72 .72 0 1 0 1.44 0a.72 .72 0 1 0 -1.44 0M160.31 62.72a.72 .72 0 1 0 1.44 0a.72 .72 0 1 0 -1.44 0M145.09 75.24a.72 .72 0 1 0 1.44 0a.72 .72 0 1 0 -1.44 0M146.77 61.64a.72 .72 0 1 0 1.44 0a.72 .72 0 1 0 -1.44 0M177.50 51.09a.72 .72 0 1 0 1.44 0a.72 .72 0 1 0 -1.44 0M142.97 67.48a.72 .72 0 1 0 1.44 0a.72 .72 0 1 0 -1.44 0M159.37 49.76a.72 .72 0 1 0 1.44 0a.72 .72 0 1 0 -1.44 0M165.09 54.75a.72 .72 0 1 0 1.44 0a.72 .72 0 1 0 -1.44 0M150.37 51.38a.72 .72 0 1 0 1.44 0a.72 .72 0 1 0 -1.44 0M173.54 31.75a.72 .72 0 1 0 1.44 0a.72 .72 0 1 0 -1.44 0M149.12 56.38a.72 .72 0 1 0 1.44 0a.72 .72 0 1 0 -1.44 0M150.36 90.45a.72 .72 0 1 0 1.44 0a.72 .72 0 1 0 -1.44 0M145.79 59.29a.72 .72 0 1 0 1.44 0a.72 .72 0 1 0 -1.44 0M141.73 65.60a.72 .72 0 1 0 1.44 0a.72 .72 0 1 0 -1.44 0M176.52 40.91a.72 .72 0 1 0 1.44 0a.72 .72 0 1 0 -1.44 0M164.68 42.26a.72 .72 0 1 0 1.44 0a.72 .72 0 1 0 -1.44 0M160.51 51.92a.72 .72 0 1 0 1.44 0a.72 .72 0 1 0 -1.44 0M149.85 45.15a.72 .72 0 1 0 1.44 0a.72 .72 0 1 0 -1.44 0M188.80 53.26a.72 .72 0 1 0 1.44 0a.72 .72 0 1 0 -1.44 0M157.99 61.57a.72 .72 0 1 0 1.44 0a.72 .72 0 1 0 -1.44 0M143.03 52.93a.72 .72 0 1 0 1.44 0a.72 .72 0 1 0 -1.44 0M146.92 53.84a.72 .72 0 1 0 1.44 0a.72 .72 0 1 0 -1.44 0M159.47 57.78a.72 .72 0 1 0 1.44 0a.72 .72 0 1 0 -1.44 0M166.76 58.41a.72 .72 0 1 0 1.44 0a.72 .72 0 1 0 -1.44 0M150.46 60.54a.72 .72 0 1 0 1.44 0a.72 .72 0 1 0 -1.44 0M145.87 48.90a.72 .72 0 1 0 1.44 0a.72 .72 0 1 0 -1.44 0M153.95 57.81a.72 .72 0 1 0 1.44 0a.72 .72 0 1 0 -1.44 0M151.68 54.18a.72 .72 0 1 0 1.44 0a.72 .72 0 1 0 -1.44 0M156.28 50.10a.72 .72 0 1 0 1.44 0a.72 .72 0 1 0 -1.44 0M190.81 45.42a.72 .72 0 1 0 1.44 0a.72 .72 0 1 0 -1.44 0M143.19 52.99a.72 .72 0 1 0 1.44 0a.72 .72 0 1 0 -1.44 0M146.24 67.38a.72 .72 0 1 0 1.44 0a.72 .72 0 1 0 -1.44 0M181.93 53.42a.72 .72 0 1 0 1.44 0a.72 .72 0 1 0 -1.44 0M140.85 52.09a.72 .72 0 1 0 1.44 0a.72 .72 0 1 0 -1.44 0M167.87 55.61a.72 .72 0 1 0 1.44 0a.72 .72 0 1 0 -1.44 0M152.19 41.94a.72 .72 0 1 0 1.44 0a.72 .72 0 1 0 -1.44 0M149.89 55.69a.72 .72 0 1 0 1.44 0a.72 .72 0 1 0 -1.44 0M151.45 54.97a.72 .72 0 1 0 1.44 0a.72 .72 0 1 0 -1.44 0M154.08 54.12a.72 .72 0 1 0 1.44 0a.72 .72 0 1 0 -1.44 0M142.85 61.06a.72 .72 0 1 0 1.44 0a.72 .72 0 1 0 -1.44 0M139.88 56.42a.72 .72 0 1 0 1.44 0a.72 .72 0 1 0 -1.44 0M143.56 51.75a.72 .72 0 1 0 1.44 0a.72 .72 0 1 0 -1.44 0M160.98 55.03a.72 .72 0 1 0 1.44 0a.72 .72 0 1 0 -1.44 0M146.85 56.84a.72 .72 0 1 0 1.44 0a.72 .72 0 1 0 -1.44 0M149.21 62.79a.72 .72 0 1 0 1.44 0a.72 .72 0 1 0 -1.44 0M188.33 58.58a.72 .72 0 1 0 1.44 0a.72 .72 0 1 0 -1.44 0M148.05 47.03a.72 .72 0 1 0 1.44 0a.72 .72 0 1 0 -1.44 0M147.56 58.93a.72 .72 0 1 0 1.44 0a.72 .72 0 1 0 -1.44 0M144.44 59.47a.72 .72 0 1 0 1.44 0a.72 .72 0 1 0 -1.44 0M156.39 64.34a.72 .72 0 1 0 1.44 0a.72 .72 0 1 0 -1.44 0M152.37 64.21a.72 .72 0 1 0 1.44 0a.72 .72 0 1 0 -1.44 0M166.26 72.28a.72 .72 0 1 0 1.44 0a.72 .72 0 1 0 -1.44 0M157.71 47.69a.72 .72 0 1 0 1.44 0a.72 .72 0 1 0 -1.44 0M154.17 63.62a.72 .72 0 1 0 1.44 0a.72 .72 0 1 0 -1.44 0M144.16 69.25a.72 .72 0 1 0 1.44 0a.72 .72 0 1 0 -1.44 0M173.81 73.29a.72 .72 0 1 0 1.44 0a.72 .72 0 1 0 -1.44 0M173.08 59.21a.72 .72 0 1 0 1.44 0a.72 .72 0 1 0 -1.44 0M172.57 45.44a.72 .72 0 1 0 1.44 0a.72 .72 0 1 0 -1.44 0M159.51 41.68a.72 .72 0 1 0 1.44 0a.72 .72 0 1 0 -1.44 0M164.71 73.87a.72 .72 0 1 0 1.44 0a.72 .72 0 1 0 -1.44 0M141.74 46.27a.72 .72 0 1 0 1.44 0a.72 .72 0 1 0 -1.44 0M144.27 65.60a.72 .72 0 1 0 1.44 0a.72 .72 0 1 0 -1.44 0M171.38 63.62a.72 .72 0 1 0 1.44 0a.72 .72 0 1 0 -1.44 0M147.82 59.69a.72 .72 0 1 0 1.44 0a.72 .72 0 1 0 -1.44 0M153.53 59.46a.72 .72 0 1 0 1.44 0a.72 .72 0 1 0 -1.44 0M167.22 46.92a.72 .72 0 1 0 1.44 0a.72 .72 0 1 0 -1.44 0M141.13 62.57a.72 .72 0 1 0 1.44 0a.72 .72 0 1 0 -1.44 0M160.43 58.51a.72 .72 0 1 0 1.44 0a.72 .72 0 1 0 -1.44 0M187.06 50.23a.72 .72 0 1 0 1.44 0a.72 .72 0 1 0 -1.44 0M140.88 55.85a.72 .72 0 1 0 1.44 0a.72 .72 0 1 0 -1.44 0M158.90 45.28a.72 .72 0 1 0 1.44 0a.72 .72 0 1 0 -1.44 0M154.29 56.91a.72 .72 0 1 0 1.44 0a.72 .72 0 1 0 -1.44 0M156.89 51.76a.72 .72 0 1 0 1.44 0a.72 .72 0 1 0 -1.44 0M188.83 41.64a.72 .72 0 1 0 1.44 0a.72 .72 0 1 0 -1.44 0M161.08 50.36a.72 .72 0 1 0 1.44 0a.72 .72 0 1 0 -1.44 0M143.16 59.03a.72 .72 0 1 0 1.44 0a.72 .72 0 1 0 -1.44 0M159.38 63.52a.72 .72 0 1 0 1.44 0a.72 .72 0 1 0 -1.44 0M149.92 63.29a.72 .72 0 1 0 1.44 0a.72 .72 0 1 0 -1.44 0M160.21 62.69a.72 .72 0 1 0 1.44 0a.72 .72 0 1 0 -1.44 0M141.77 46.36a.72 .72 0 1 0 1.44 0a.72 .72 0 1 0 -1.44 0M141.65 74.92a.72 .72 0 1 0 1.44 0a.72 .72 0 1 0 -1.44 0M144.71 50.09a.72 .72 0 1 0 1.44 0a.72 .72 0 1 0 -1.44 0M140.96 50.30a.72 .72 0 1 0 1.44 0a.72 .72 0 1 0 -1.44 0M167.18 50.71a.72 .72 0 1 0 1.44 0a.72 .72 0 1 0 -1.44 0M150.69 62.06a.72 .72 0 1 0 1.44 0a.72 .72 0 1 0 -1.44 0M195.19 43.53a.72 .72 0 1 0 1.44 0a.72 .72 0 1 0 -1.44 0M167.19 57.26a.72 .72 0 1 0 1.44 0a.72 .72 0 1 0 -1.44 0M158.34 52.96a.72 .72 0 1 0 1.44 0a.72 .72 0 1 0 -1.44 0M191.00 56.19a.72 .72 0 1 0 1.44 0a.72 .72 0 1 0 -1.44 0M181.37 53.20a.72 .72 0 1 0 1.44 0a.72 .72 0 1 0 -1.44 0M158.48 58.78a.72 .72 0 1 0 1.44 0a.72 .72 0 1 0 -1.44 0M159.95 49.98a.72 .72 0 1 0 1.44 0a.72 .72 0 1 0 -1.44 0M176.54 67.35a.72 .72 0 1 0 1.44 0a.72 .72 0 1 0 -1.44 0M151.91 68.13a.72 .72 0 1 0 1.44 0a.72 .72 0 1 0 -1.44 0M198.17 51.72a.72 .72 0 1 0 1.44 0a.72 .72 0 1 0 -1.44 0M163.72 54.48a.72 .72 0 1 0 1.44 0a.72 .72 0 1 0 -1.44 0M140.81 60.87a.72 .72 0 1 0 1.44 0a.72 .72 0 1 0 -1.44 0M176.00 50.44a.72 .72 0 1 0 1.44 0a.72 .72 0 1 0 -1.44 0M140.91 50.05a.72 .72 0 1 0 1.44 0a.72 .72 0 1 0 -1.44 0M157.30 41.28a.72 .72 0 1 0 1.44 0a.72 .72 0 1 0 -1.44 0M140.95 51.59a.72 .72 0 1 0 1.44 0a.72 .72 0 1 0 -1.44 0M148.76 51.12a.72 .72 0 1 0 1.44 0a.72 .72 0 1 0 -1.44 0M162.51 60.38a.72 .72 0 1 0 1.44 0a.72 .72 0 1 0 -1.44 0M140.45 55.24a.72 .72 0 1 0 1.44 0a.72 .72 0 1 0 -1.44 0M160.22 54.23a.72 .72 0 1 0 1.44 0a.72 .72 0 1 0 -1.44 0M167.81 44.02a.72 .72 0 1 0 1.44 0a.72 .72 0 1 0 -1.44 0M162.39 44.43a.72 .72 0 1 0 1.44 0a.72 .72 0 1 0 -1.44 0M183.77 61.98a.72 .72 0 1 0 1.44 0a.72 .72 0 1 0 -1.44 0M146.00 67.70a.72 .72 0 1 0 1.44 0a.72 .72 0 1 0 -1.44 0M147.04 45.78a.72 .72 0 1 0 1.44 0a.72 .72 0 1 0 -1.44 0M169.35 63.46a.72 .72 0 1 0 1.44 0a.72 .72 0 1 0 -1.44 0M144.69 50.08a.72 .72 0 1 0 1.44 0a.72 .72 0 1 0 -1.44 0M140.50 61.25a.72 .72 0 1 0 1.44 0a.72 .72 0 1 0 -1.44 0M153.42 74.07a.72 .72 0 1 0 1.44 0a.72 .72 0 1 0 -1.44 0M143.00 56.70a.72 .72 0 1 0 1.44 0a.72 .72 0 1 0 -1.44 0M152.69 66.56a.72 .72 0 1 0 1.44 0a.72 .72 0 1 0 -1.44 0M159.25 60.60a.72 .72 0 1 0 1.44 0a.72 .72 0 1 0 -1.44 0M147.07 57.74a.72 .72 0 1 0 1.44 0a.72 .72 0 1 0 -1.44 0M165.40 42.94a.72 .72 0 1 0 1.44 0a.72 .72 0 1 0 -1.44 0M151.62 63.84a.72 .72 0 1 0 1.44 0a.72 .72 0 1 0 -1.44 0M146.13 62.00a.72 .72 0 1 0 1.44 0a.72 .72 0 1 0 -1.44 0M144.80 44.86a.72 .72 0 1 0 1.44 0a.72 .72 0 1 0 -1.44 0M142.15 62.46a.72 .72 0 1 0 1.44 0a.72 .72 0 1 0 -1.44 0M143.74 67.51a.72 .72 0 1 0 1.44 0a.72 .72 0 1 0 -1.44 0M163.50 58.90a.72 .72 0 1 0 1.44 0a.72 .72 0 1 0 -1.44 0M155.62 61.08a.72 .72 0 1 0 1.44 0a.72 .72 0 1 0 -1.44 0M156.62 61.01a.72 .72 0 1 0 1.44 0a.72 .72 0 1 0 -1.44 0M141.26 46.69a.72 .72 0 1 0 1.44 0a.72 .72 0 1 0 -1.44 0M179.95 57.54a.72 .72 0 1 0 1.44 0a.72 .72 0 1 0 -1.44 0M151.79 70.56a.72 .72 0 1 0 1.44 0a.72 .72 0 1 0 -1.44 0M153.38 46.11a.72 .72 0 1 0 1.44 0a.72 .72 0 1 0 -1.44 0M143.97 57.70a.72 .72 0 1 0 1.44 0a.72 .72 0 1 0 -1.44 0M152.80 53.02a.72 .72 0 1 0 1.44 0a.72 .72 0 1 0 -1.44 0M151.82 55.89a.72 .72 0 1 0 1.44 0a.72 .72 0 1 0 -1.44 0M164.01 50.85a.72 .72 0 1 0 1.44 0a.72 .72 0 1 0 -1.44 0M140.92 54.51a.72 .72 0 1 0 1.44 0a.72 .72 0 1 0 -1.44 0M145.47 56.89a.72 .72 0 1 0 1.44 0a.72 .72 0 1 0 -1.44 0M152.21 70.93a.72 .72 0 1 0 1.44 0a.72 .72 0 1 0 -1.44 0M144.92 58.77a.72 .72 0 1 0 1.44 0a.72 .72 0 1 0 -1.44 0M145.32 67.46a.72 .72 0 1 0 1.44 0a.72 .72 0 1 0 -1.44 0M160.76 53.14a.72 .72 0 1 0 1.44 0a.72 .72 0 1 0 -1.44 0M156.56 56.07a.72 .72 0 1 0 1.44 0a.72 .72 0 1 0 -1.44 0M143.73 47.26a.72 .72 0 1 0 1.44 0a.72 .72 0 1 0 -1.44 0M140.88 80.16a.72 .72 0 1 0 1.44 0a.72 .72 0 1 0 -1.44 0M140.01 68.09a.72 .72 0 1 0 1.44 0a.72 .72 0 1 0 -1.44 0M187.08 58.32a.72 .72 0 1 0 1.44 0a.72 .72 0 1 0 -1.44 0M150.06 66.99a.72 .72 0 1 0 1.44 0a.72 .72 0 1 0 -1.44 0M145.61 54.28a.72 .72 0 1 0 1.44 0a.72 .72 0 1 0 -1.44 0M145.12 68.59a.72 .72 0 1 0 1.44 0a.72 .72 0 1 0 -1.44 0M145.59 67.96a.72 .72 0 1 0 1.44 0a.72 .72 0 1 0 -1.44 0M154.72 51.05a.72 .72 0 1 0 1.44 0a.72 .72 0 1 0 -1.44 0M140.52 70.74a.72 .72 0 1 0 1.44 0a.72 .72 0 1 0 -1.44 0M175.46 66.30a.72 .72 0 1 0 1.44 0a.72 .72 0 1 0 -1.44 0M157.97 65.25a.72 .72 0 1 0 1.44 0a.72 .72 0 1 0 -1.44 0M164.17 54.25a.72 .72 0 1 0 1.44 0a.72 .72 0 1 0 -1.44 0M159.19 68.22a.72 .72 0 1 0 1.44 0a.72 .72 0 1 0 -1.44 0M155.48 57.01a.72 .72 0 1 0 1.44 0a.72 .72 0 1 0 -1.44 0M145.84 65.62a.72 .72 0 1 0 1.44 0a.72 .72 0 1 0 -1.44 0M179.53 44.03a.72 .72 0 1 0 1.44 0a.72 .72 0 1 0 -1.44 0M139.73 62.51a.72 .72 0 1 0 1.44 0a.72 .72 0 1 0 -1.44 0M169.76 38.09a.72 .72 0 1 0 1.44 0a.72 .72 0 1 0 -1.44 0M156.88 57.89a.72 .72 0 1 0 1.44 0a.72 .72 0 1 0 -1.44 0M139.71 67.90a.72 .72 0 1 0 1.44 0a.72 .72 0 1 0 -1.44 0M142.83 59.51a.72 .72 0 1 0 1.44 0a.72 .72 0 1 0 -1.44 0M181.56 53.42a.72 .72 0 1 0 1.44 0a.72 .72 0 1 0 -1.44 0M165.80 59.77a.72 .72 0 1 0 1.44 0a.72 .72 0 1 0 -1.44 0M149.37 37.74a.72 .72 0 1 0 1.44 0a.72 .72 0 1 0 -1.44 0M179.98 40.49a.72 .72 0 1 0 1.44 0a.72 .72 0 1 0 -1.44 0M157.20 47.67a.72 .72 0 1 0 1.44 0a.72 .72 0 1 0 -1.44 0M166.91 45.35a.72 .72 0 1 0 1.44 0a.72 .72 0 1 0 -1.44 0M140.55 68.77a.72 .72 0 1 0 1.44 0a.72 .72 0 1 0 -1.44 0M178.18 56.96a.72 .72 0 1 0 1.44 0a.72 .72 0 1 0 -1.44 0M144.77 69.93a.72 .72 0 1 0 1.44 0a.72 .72 0 1 0 -1.44 0M147.38 49.39a.72 .72 0 1 0 1.44 0a.72 .72 0 1 0 -1.44 0M160.43 40.18a.72 .72 0 1 0 1.44 0a.72 .72 0 1 0 -1.44 0M148.57 62.18a.72 .72 0 1 0 1.44 0a.72 .72 0 1 0 -1.44 0M153.20 58.35a.72 .72 0 1 0 1.44 0a.72 .72 0 1 0 -1.44 0M160.35 59.59a.72 .72 0 1 0 1.44 0a.72 .72 0 1 0 -1.44 0M172.18 50.34a.72 .72 0 1 0 1.44 0a.72 .72 0 1 0 -1.44 0M147.05 57.79a.72 .72 0 1 0 1.44 0a.72 .72 0 1 0 -1.44 0M159.97 53.42a.72 .72 0 1 0 1.44 0a.72 .72 0 1 0 -1.44 0M144.65 55.13a.72 .72 0 1 0 1.44 0a.72 .72 0 1 0 -1.44 0M156.67 55.62a.72 .72 0 1 0 1.44 0a.72 .72 0 1 0 -1.44 0M145.34 61.52a.72 .72 0 1 0 1.44 0a.72 .72 0 1 0 -1.44 0M145.19 48.05a.72 .72 0 1 0 1.44 0a.72 .72 0 1 0 -1.44 0M145.13 55.70a.72 .72 0 1 0 1.44 0a.72 .72 0 1 0 -1.44 0M140.85 67.12a.72 .72 0 1 0 1.44 0a.72 .72 0 1 0 -1.44 0M148.10 46.22a.72 .72 0 1 0 1.44 0a.72 .72 0 1 0 -1.44 0M147.20 59.56a.72 .72 0 1 0 1.44 0a.72 .72 0 1 0 -1.44 0M144.95 51.53a.72 .72 0 1 0 1.44 0a.72 .72 0 1 0 -1.44 0M156.01 57.56a.72 .72 0 1 0 1.44 0a.72 .72 0 1 0 -1.44 0M148.13 43.51a.72 .72 0 1 0 1.44 0a.72 .72 0 1 0 -1.44 0M153.35 42.33a.72 .72 0 1 0 1.44 0a.72 .72 0 1 0 -1.44 0M139.77 60.24a.72 .72 0 1 0 1.44 0a.72 .72 0 1 0 -1.44 0M182.54 52.32a.72 .72 0 1 0 1.44 0a.72 .72 0 1 0 -1.44 0M163.48 57.87a.72 .72 0 1 0 1.44 0a.72 .72 0 1 0 -1.44 0M185.46 39.42a.72 .72 0 1 0 1.44 0a.72 .72 0 1 0 -1.44 0M146.38 51.72a.72 .72 0 1 0 1.44 0a.72 .72 0 1 0 -1.44 0M145.63 56.58a.72 .72 0 1 0 1.44 0a.72 .72 0 1 0 -1.44 0M175.15 51.32a.72 .72 0 1 0 1.44 0a.72 .72 0 1 0 -1.44 0M143.59 58.92a.72 .72 0 1 0 1.44 0a.72 .72 0 1 0 -1.44 0M145.75 74.93a.72 .72 0 1 0 1.44 0a.72 .72 0 1 0 -1.44 0M140.18 61.34a.72 .72 0 1 0 1.44 0a.72 .72 0 1 0 -1.44 0M150.74 52.38a.72 .72 0 1 0 1.44 0a.72 .72 0 1 0 -1.44 0M139.86 65.33a.72 .72 0 1 0 1.44 0a.72 .72 0 1 0 -1.44 0M165.63 25.72a.72 .72 0 1 0 1.44 0a.72 .72 0 1 0 -1.44 0M169.00 70.59a.72 .72 0 1 0 1.44 0a.72 .72 0 1 0 -1.44 0M139.72 64.06a.72 .72 0 1 0 1.44 0a.72 .72 0 1 0 -1.44 0M169.79 54.75a.72 .72 0 1 0 1.44 0a.72 .72 0 1 0 -1.44 0M144.66 54.70a.72 .72 0 1 0 1.44 0a.72 .72 0 1 0 -1.44 0M158.10 69.02a.72 .72 0 1 0 1.44 0a.72 .72 0 1 0 -1.44 0M155.56 60.70a.72 .72 0 1 0 1.44 0a.72 .72 0 1 0 -1.44 0M161.14 51.55a.72 .72 0 1 0 1.44 0a.72 .72 0 1 0 -1.44 0M156.60 56.79a.72 .72 0 1 0 1.44 0a.72 .72 0 1 0 -1.44 0M140.45 42.01a.72 .72 0 1 0 1.44 0a.72 .72 0 1 0 -1.44 0M141.10 56.17a.72 .72 0 1 0 1.44 0a.72 .72 0 1 0 -1.44 0M146.29 67.94a.72 .72 0 1 0 1.44 0a.72 .72 0 1 0 -1.44 0M163.96 53.84a.72 .72 0 1 0 1.44 0a.72 .72 0 1 0 -1.44 0M153.11 52.58a.72 .72 0 1 0 1.44 0a.72 .72 0 1 0 -1.44 0M150.50 48.04a.72 .72 0 1 0 1.44 0a.72 .72 0 1 0 -1.44 0M183.33 49.28a.72 .72 0 1 0 1.44 0a.72 .72 0 1 0 -1.44 0M171.08 63.79a.72 .72 0 1 0 1.44 0a.72 .72 0 1 0 -1.44 0M146.57 51.10a.72 .72 0 1 0 1.44 0a.72 .72 0 1 0 -1.44 0M143.69 45.30a.72 .72 0 1 0 1.44 0a.72 .72 0 1 0 -1.44 0M145.82 47.70a.72 .72 0 1 0 1.44 0a.72 .72 0 1 0 -1.44 0M156.45 55.20a.72 .72 0 1 0 1.44 0a.72 .72 0 1 0 -1.44 0M144.02 63.44a.72 .72 0 1 0 1.44 0a.72 .72 0 1 0 -1.44 0M139.76 71.02a.72 .72 0 1 0 1.44 0a.72 .72 0 1 0 -1.44 0M141.68 44.80a.72 .72 0 1 0 1.44 0a.72 .72 0 1 0 -1.44 0M144.33 48.09a.72 .72 0 1 0 1.44 0a.72 .72 0 1 0 -1.44 0M162.85 41.74a.72 .72 0 1 0 1.44 0a.72 .72 0 1 0 -1.44 0M154.98 57.81a.72 .72 0 1 0 1.44 0a.72 .72 0 1 0 -1.44 0M142.00 69.98a.72 .72 0 1 0 1.44 0a.72 .72 0 1 0 -1.44 0M145.36 56.91a.72 .72 0 1 0 1.44 0a.72 .72 0 1 0 -1.44 0M154.23 65.47a.72 .72 0 1 0 1.44 0a.72 .72 0 1 0 -1.44 0M162.74 59.82a.72 .72 0 1 0 1.44 0a.72 .72 0 1 0 -1.44 0M147.88 47.77a.72 .72 0 1 0 1.44 0a.72 .72 0 1 0 -1.44 0M152.62 62.45a.72 .72 0 1 0 1.44 0a.72 .72 0 1 0 -1.44 0M155.56 67.95a.72 .72 0 1 0 1.44 0a.72 .72 0 1 0 -1.44 0M164.38 54.43a.72 .72 0 1 0 1.44 0a.72 .72 0 1 0 -1.44 0M161.05 71.01a.72 .72 0 1 0 1.44 0a.72 .72 0 1 0 -1.44 0M146.11 54.58a.72 .72 0 1 0 1.44 0a.72 .72 0 1 0 -1.44 0M164.97 63.51a.72 .72 0 1 0 1.44 0a.72 .72 0 1 0 -1.44 0M140.70 48.52a.72 .72 0 1 0 1.44 0a.72 .72 0 1 0 -1.44 0M153.66 69.92a.72 .72 0 1 0 1.44 0a.72 .72 0 1 0 -1.44 0M144.50 70.51a.72 .72 0 1 0 1.44 0a.72 .72 0 1 0 -1.44 0M164.39 59.34a.72 .72 0 1 0 1.44 0a.72 .72 0 1 0 -1.44 0M147.36 82.04a.72 .72 0 1 0 1.44 0a.72 .72 0 1 0 -1.44 0M146.03 70.48a.72 .72 0 1 0 1.44 0a.72 .72 0 1 0 -1.44 0M154.76 58.78a.72 .72 0 1 0 1.44 0a.72 .72 0 1 0 -1.44 0M154.79 52.88a.72 .72 0 1 0 1.44 0a.72 .72 0 1 0 -1.44 0M150.28 60.61a.72 .72 0 1 0 1.44 0a.72 .72 0 1 0 -1.44 0M159.31 52.38a.72 .72 0 1 0 1.44 0a.72 .72 0 1 0 -1.44 0M186.32 48.96a.72 .72 0 1 0 1.44 0a.72 .72 0 1 0 -1.44 0M155.62 57.62a.72 .72 0 1 0 1.44 0a.72 .72 0 1 0 -1.44 0M164.37 63.57a.72 .72 0 1 0 1.44 0a.72 .72 0 1 0 -1.44 0M178.62 54.79a.72 .72 0 1 0 1.44 0a.72 .72 0 1 0 -1.44 0M155.69 48.71a.72 .72 0 1 0 1.44 0a.72 .72 0 1 0 -1.44 0M156.97 48.97a.72 .72 0 1 0 1.44 0a.72 .72 0 1 0 -1.44 0M178.98 46.90a.72 .72 0 1 0 1.44 0a.72 .72 0 1 0 -1.44 0M145.75 66.74a.72 .72 0 1 0 1.44 0a.72 .72 0 1 0 -1.44 0M140.68 49.49a.72 .72 0 1 0 1.44 0a.72 .72 0 1 0 -1.44 0M150.53 64.84a.72 .72 0 1 0 1.44 0a.72 .72 0 1 0 -1.44 0M159.08 56.29a.72 .72 0 1 0 1.44 0a.72 .72 0 1 0 -1.44 0M166.22 39.72a.72 .72 0 1 0 1.44 0a.72 .72 0 1 0 -1.44 0M142.01 76.87a.72 .72 0 1 0 1.44 0a.72 .72 0 1 0 -1.44 0M173.88 44.45a.72 .72 0 1 0 1.44 0a.72 .72 0 1 0 -1.44 0M157.71 37.85a.72 .72 0 1 0 1.44 0a.72 .72 0 1 0 -1.44 0M153.21 62.68a.72 .72 0 1 0 1.44 0a.72 .72 0 1 0 -1.44 0M151.70 55.84a.72 .72 0 1 0 1.44 0a.72 .72 0 1 0 -1.44 0M143.36 62.29a.72 .72 0 1 0 1.44 0a.72 .72 0 1 0 -1.44 0M140.61 60.25a.72 .72 0 1 0 1.44 0a.72 .72 0 1 0 -1.44 0M163.05 52.50a.72 .72 0 1 0 1.44 0a.72 .72 0 1 0 -1.44 0M172.98 59.12a.72 .72 0 1 0 1.44 0a.72 .72 0 1 0 -1.44 0M157.89 72.49a.72 .72 0 1 0 1.44 0a.72 .72 0 1 0 -1.44 0M140.28 52.69a.72 .72 0 1 0 1.44 0a.72 .72 0 1 0 -1.44 0M200.89 47.60a.72 .72 0 1 0 1.44 0a.72 .72 0 1 0 -1.44 0M154.16 67.60a.72 .72 0 1 0 1.44 0a.72 .72 0 1 0 -1.44 0M176.46 49.00a.72 .72 0 1 0 1.44 0a.72 .72 0 1 0 -1.44 0M140.36 54.32a.72 .72 0 1 0 1.44 0a.72 .72 0 1 0 -1.44 0M144.53 76.67a.72 .72 0 1 0 1.44 0a.72 .72 0 1 0 -1.44 0M177.40 51.09a.72 .72 0 1 0 1.44 0a.72 .72 0 1 0 -1.44 0M170.59 57.65a.72 .72 0 1 0 1.44 0a.72 .72 0 1 0 -1.44 0M161.01 42.01a.72 .72 0 1 0 1.44 0a.72 .72 0 1 0 -1.44 0M184.59 61.19a.72 .72 0 1 0 1.44 0a.72 .72 0 1 0 -1.44 0M175.87 44.43a.72 .72 0 1 0 1.44 0a.72 .72 0 1 0 -1.44 0M146.83 65.70a.72 .72 0 1 0 1.44 0a.72 .72 0 1 0 -1.44 0M162.94 38.69a.72 .72 0 1 0 1.44 0a.72 .72 0 1 0 -1.44 0M160.31 47.78a.72 .72 0 1 0 1.44 0a.72 .72 0 1 0 -1.44 0M145.60 55.24a.72 .72 0 1 0 1.44 0a.72 .72 0 1 0 -1.44 0M158.14 60.42a.72 .72 0 1 0 1.44 0a.72 .72 0 1 0 -1.44 0M142.32 54.54a.72 .72 0 1 0 1.44 0a.72 .72 0 1 0 -1.44 0M146.79 47.98a.72 .72 0 1 0 1.44 0a.72 .72 0 1 0 -1.44 0M149.82 66.43a.72 .72 0 1 0 1.44 0a.72 .72 0 1 0 -1.44 0M143.39 61.22a.72 .72 0 1 0 1.44 0a.72 .72 0 1 0 -1.44 0M157.49 60.55a.72 .72 0 1 0 1.44 0a.72 .72 0 1 0 -1.44 0M141.70 55.31a.72 .72 0 1 0 1.44 0a.72 .72 0 1 0 -1.44 0M144.37 49.84a.72 .72 0 1 0 1.44 0a.72 .72 0 1 0 -1.44 0M159.95 73.19a.72 .72 0 1 0 1.44 0a.72 .72 0 1 0 -1.44 0M200.49 43.32a.72 .72 0 1 0 1.44 0a.72 .72 0 1 0 -1.44 0M139.89 71.74a.72 .72 0 1 0 1.44 0a.72 .72 0 1 0 -1.44 0M152.09 71.30a.72 .72 0 1 0 1.44 0a.72 .72 0 1 0 -1.44 0M149.56 65.71a.72 .72 0 1 0 1.44 0a.72 .72 0 1 0 -1.44 0M140.17 52.87a.72 .72 0 1 0 1.44 0a.72 .72 0 1 0 -1.44 0M144.26 54.58a.72 .72 0 1 0 1.44 0a.72 .72 0 1 0 -1.44 0M195.36 63.91a.72 .72 0 1 0 1.44 0a.72 .72 0 1 0 -1.44 0M142.69 63.56a.72 .72 0 1 0 1.44 0a.72 .72 0 1 0 -1.44 0M158.61 53.72a.72 .72 0 1 0 1.44 0a.72 .72 0 1 0 -1.44 0M144.63 53.08a.72 .72 0 1 0 1.44 0a.72 .72 0 1 0 -1.44 0M177.42 53.86a.72 .72 0 1 0 1.44 0a.72 .72 0 1 0 -1.44 0M144.94 59.51a.72 .72 0 1 0 1.44 0a.72 .72 0 1 0 -1.44 0M140.67 47.08a.72 .72 0 1 0 1.44 0a.72 .72 0 1 0 -1.44 0M178.17 56.11a.72 .72 0 1 0 1.44 0a.72 .72 0 1 0 -1.44 0M180.32 72.66a.72 .72 0 1 0 1.44 0a.72 .72 0 1 0 -1.44 0M143.68 55.38a.72 .72 0 1 0 1.44 0a.72 .72 0 1 0 -1.44 0M141.82 53.56a.72 .72 0 1 0 1.44 0a.72 .72 0 1 0 -1.44 0M172.09 52.67a.72 .72 0 1 0 1.44 0a.72 .72 0 1 0 -1.44 0M147.48 63.01a.72 .72 0 1 0 1.44 0a.72 .72 0 1 0 -1.44 0M153.55 58.60a.72 .72 0 1 0 1.44 0a.72 .72 0 1 0 -1.44 0M149.55 38.94a.72 .72 0 1 0 1.44 0a.72 .72 0 1 0 -1.44 0M150.85 76.77a.72 .72 0 1 0 1.44 0a.72 .72 0 1 0 -1.44 0M150.48 49.89a.72 .72 0 1 0 1.44 0a.72 .72 0 1 0 -1.44 0M144.28 48.58a.72 .72 0 1 0 1.44 0a.72 .72 0 1 0 -1.44 0M141.41 68.90a.72 .72 0 1 0 1.44 0a.72 .72 0 1 0 -1.44 0M139.73 50.35a.72 .72 0 1 0 1.44 0a.72 .72 0 1 0 -1.44 0M165.74 52.70a.72 .72 0 1 0 1.44 0a.72 .72 0 1 0 -1.44 0M177.45 57.55a.72 .72 0 1 0 1.44 0a.72 .72 0 1 0 -1.44 0M172.41 69.71a.72 .72 0 1 0 1.44 0a.72 .72 0 1 0 -1.44 0M147.11 56.46a.72 .72 0 1 0 1.44 0a.72 .72 0 1 0 -1.44 0M151.44 43.27a.72 .72 0 1 0 1.44 0a.72 .72 0 1 0 -1.44 0M160.31 55.75a.72 .72 0 1 0 1.44 0a.72 .72 0 1 0 -1.44 0M159.61 46.81a.72 .72 0 1 0 1.44 0a.72 .72 0 1 0 -1.44 0M150.26 46.40a.72 .72 0 1 0 1.44 0a.72 .72 0 1 0 -1.44 0M146.62 82.98a.72 .72 0 1 0 1.44 0a.72 .72 0 1 0 -1.44 0M188.82 46.27a.72 .72 0 1 0 1.44 0a.72 .72 0 1 0 -1.44 0M173.33 53.84a.72 .72 0 1 0 1.44 0a.72 .72 0 1 0 -1.44 0M148.25 60.78a.72 .72 0 1 0 1.44 0a.72 .72 0 1 0 -1.44 0M145.91 57.14a.72 .72 0 1 0 1.44 0a.72 .72 0 1 0 -1.44 0M154.72 60.20a.72 .72 0 1 0 1.44 0a.72 .72 0 1 0 -1.44 0M183.85 57.52a.72 .72 0 1 0 1.44 0a.72 .72 0 1 0 -1.44 0M149.35 59.79a.72 .72 0 1 0 1.44 0a.72 .72 0 1 0 -1.44 0M144.35 63.95a.72 .72 0 1 0 1.44 0a.72 .72 0 1 0 -1.44 0M162.18 48.65a.72 .72 0 1 0 1.44 0a.72 .72 0 1 0 -1.44 0M141.32 57.46a.72 .72 0 1 0 1.44 0a.72 .72 0 1 0 -1.44 0M150.70 44.08a.72 .72 0 1 0 1.44 0a.72 .72 0 1 0 -1.44 0M141.53 52.15a.72 .72 0 1 0 1.44 0a.72 .72 0 1 0 -1.44 0M147.53 72.17a.72 .72 0 1 0 1.44 0a.72 .72 0 1 0 -1.44 0M144.21 57.48a.72 .72 0 1 0 1.44 0a.72 .72 0 1 0 -1.44 0M141.93 60.46a.72 .72 0 1 0 1.44 0a.72 .72 0 1 0 -1.44 0M154.27 62.16a.72 .72 0 1 0 1.44 0a.72 .72 0 1 0 -1.44 0M149.45 50.98a.72 .72 0 1 0 1.44 0a.72 .72 0 1 0 -1.44 0M183.79 43.50a.72 .72 0 1 0 1.44 0a.72 .72 0 1 0 -1.44 0M142.12 67.35a.72 .72 0 1 0 1.44 0a.72 .72 0 1 0 -1.44 0M152.22 41.91a.72 .72 0 1 0 1.44 0a.72 .72 0 1 0 -1.44 0M172.69 54.32a.72 .72 0 1 0 1.44 0a.72 .72 0 1 0 -1.44 0M145.79 56.07a.72 .72 0 1 0 1.44 0a.72 .72 0 1 0 -1.44 0M164.50 68.69a.72 .72 0 1 0 1.44 0a.72 .72 0 1 0 -1.44 0M159.90 51.77a.72 .72 0 1 0 1.44 0a.72 .72 0 1 0 -1.44 0M169.03 64.46a.72 .72 0 1 0 1.44 0a.72 .72 0 1 0 -1.44 0M165.33 68.66a.72 .72 0 1 0 1.44 0a.72 .72 0 1 0 -1.44 0M157.49 55.54a.72 .72 0 1 0 1.44 0a.72 .72 0 1 0 -1.44 0M141.11 48.18a.72 .72 0 1 0 1.44 0a.72 .72 0 1 0 -1.44 0M143.11 65.89a.72 .72 0 1 0 1.44 0a.72 .72 0 1 0 -1.44 0M158.64 65.65a.72 .72 0 1 0 1.44 0a.72 .72 0 1 0 -1.44 0M157.72 45.96a.72 .72 0 1 0 1.44 0a.72 .72 0 1 0 -1.44 0M161.60 46.74a.72 .72 0 1 0 1.44 0a.72 .72 0 1 0 -1.44 0M139.62 60.89a.72 .72 0 1 0 1.44 0a.72 .72 0 1 0 -1.44 0M148.74 55.70a.72 .72 0 1 0 1.44 0a.72 .72 0 1 0 -1.44 0M146.13 68.11a.72 .72 0 1 0 1.44 0a.72 .72 0 1 0 -1.44 0M146.16 70.46a.72 .72 0 1 0 1.44 0a.72 .72 0 1 0 -1.44 0M154.96 69.43a.72 .72 0 1 0 1.44 0a.72 .72 0 1 0 -1.44 0M178.65 54.93a.72 .72 0 1 0 1.44 0a.72 .72 0 1 0 -1.44 0M146.59 51.99a.72 .72 0 1 0 1.44 0a.72 .72 0 1 0 -1.44 0M156.21 59.81a.72 .72 0 1 0 1.44 0a.72 .72 0 1 0 -1.44 0M141.93 59.92a.72 .72 0 1 0 1.44 0a.72 .72 0 1 0 -1.44 0M144.31 53.36a.72 .72 0 1 0 1.44 0a.72 .72 0 1 0 -1.44 0M185.76 69.21a.72 .72 0 1 0 1.44 0a.72 .72 0 1 0 -1.44 0M142.24 51.51a.72 .72 0 1 0 1.44 0a.72 .72 0 1 0 -1.44 0M159.59 53.20a.72 .72 0 1 0 1.44 0a.72 .72 0 1 0 -1.44 0M159.49 65.43a.72 .72 0 1 0 1.44 0a.72 .72 0 1 0 -1.44 0M160.68 58.08a.72 .72 0 1 0 1.44 0a.72 .72 0 1 0 -1.44 0M170.12 67.22a.72 .72 0 1 0 1.44 0a.72 .72 0 1 0 -1.44 0M142.72 54.81a.72 .72 0 1 0 1.44 0a.72 .72 0 1 0 -1.44 0M144.38 59.49a.72 .72 0 1 0 1.44 0a.72 .72 0 1 0 -1.44 0M161.03 57.87a.72 .72 0 1 0 1.44 0a.72 .72 0 1 0 -1.44 0M142.55 71.26a.72 .72 0 1 0 1.44 0a.72 .72 0 1 0 -1.44 0M144.03 56.02a.72 .72 0 1 0 1.44 0a.72 .72 0 1 0 -1.44 0M161.25 51.49a.72 .72 0 1 0 1.44 0a.72 .72 0 1 0 -1.44 0M159.46 67.80a.72 .72 0 1 0 1.44 0a.72 .72 0 1 0 -1.44 0M142.59 60.88a.72 .72 0 1 0 1.44 0a.72 .72 0 1 0 -1.44 0M140.09 54.66a.72 .72 0 1 0 1.44 0a.72 .72 0 1 0 -1.44 0M156.66 60.53a.72 .72 0 1 0 1.44 0a.72 .72 0 1 0 -1.44 0M144.41 49.07a.72 .72 0 1 0 1.44 0a.72 .72 0 1 0 -1.44 0M158.44 47.11a.72 .72 0 1 0 1.44 0a.72 .72 0 1 0 -1.44 0M144.48 52.66a.72 .72 0 1 0 1.44 0a.72 .72 0 1 0 -1.44 0M150.74 54.60a.72 .72 0 1 0 1.44 0a.72 .72 0 1 0 -1.44 0M141.01 59.15a.72 .72 0 1 0 1.44 0a.72 .72 0 1 0 -1.44 0M144.33 59.58a.72 .72 0 1 0 1.44 0a.72 .72 0 1 0 -1.44 0M178.49 52.63a.72 .72 0 1 0 1.44 0a.72 .72 0 1 0 -1.44 0M178.93 62.29a.72 .72 0 1 0 1.44 0a.72 .72 0 1 0 -1.44 0M152.83 55.12a.72 .72 0 1 0 1.44 0a.72 .72 0 1 0 -1.44 0M159.52 53.96a.72 .72 0 1 0 1.44 0a.72 .72 0 1 0 -1.44 0M152.02 47.49a.72 .72 0 1 0 1.44 0a.72 .72 0 1 0 -1.44 0M153.37 54.34a.72 .72 0 1 0 1.44 0a.72 .72 0 1 0 -1.44 0M144.94 70.26a.72 .72 0 1 0 1.44 0a.72 .72 0 1 0 -1.44 0M152.29 57.56a.72 .72 0 1 0 1.44 0a.72 .72 0 1 0 -1.44 0" fill="#000"/>
<line x1="37.3" y1="96.69" x2="201.71" y2="31.18" stroke="#f00" stroke-width="1.0"/>
<line x1="28.5" y1="17.45" x2="209.5" y2="17.45" stroke="#5a5a5a" stroke-width="1.0"/>
<line x1="28.5" y1="121.8" x2="209.5" y2="121.8" stroke="#5a5a5a" stroke-width="1.0"/>
<line x1="28.5" y1="16.95" x2="28.5" y2="122.3" stroke="#5a5a5a" stroke-width="1.0"/>
<line x1="209.5" y1="16.95" x2="209.5" y2="122.3" stroke="#5a5a5a" stroke-width="1.0"/>
<line x1="26.9" y1="118.4" x2="28.5" y2="118.4" stroke="#555" stroke-width="0.8"/>
<text transform="translate(16.01 120.54) scale(1.120 1)" font-size="6.10" font-weight="normal" fill="#000">0.1</text>
<line x1="26.9" y1="99.44" x2="28.5" y2="99.44" stroke="#555" stroke-width="0.8"/>
<text transform="translate(16.05 101.58) scale(1.120 1)" font-size="6.10" font-weight="normal" fill="#000">0.2</text>
<line x1="26.9" y1="80.48" x2="28.5" y2="80.48" stroke="#555" stroke-width="0.8"/>
<text transform="translate(15.98 82.62) scale(1.120 1)" font-size="6.10" font-weight="normal" fill="#000">0.3</text>
<line x1="26.9" y1="61.52" x2="28.5" y2="61.52" stroke="#555" stroke-width="0.8"/>
<text transform="translate(15.91 63.65) scale(1.120 1)" font-size="6.10" font-weight="normal" fill="#000">0.4</text>
<line x1="26.9" y1="42.56" x2="28.5" y2="42.56" stroke="#555" stroke-width="0.8"/>
<text transform="translate(15.98 44.7) scale(1.120 1)" font-size="6.10" font-weight="normal" fill="#000">0.5</text>
<line x1="26.9" y1="23.6" x2="28.5" y2="23.6" stroke="#555" stroke-width="0.8"/>
<text transform="translate(15.98 25.74) scale(1.120 1)" font-size="6.10" font-weight="normal" fill="#000">0.6</text>
<text transform="translate(11.7 93.74) rotate(-90) scale(1.127 1)" font-size="7.10" font-weight="normal">Mean β-value</text>
<path d="M37.30 152.00L37.30 132.62L38.19 132.62L38.19 135.06L39.07 135.06L39.07 135.41L39.96 135.41L39.96 136.27L40.85 136.27L40.85 136.63L41.73 136.63L41.73 137.39L42.62 137.39L42.62 137.76L43.50 137.76L43.50 138.62L44.39 138.62L44.39 138.41L45.28 138.41L45.28 138.34L46.16 138.34L46.16 139.17L47.05 139.17L47.05 139.46L47.94 139.46L47.94 140.25L48.82 140.25L48.82 139.78L49.71 139.78L49.71 140.81L50.60 140.81L50.60 140.59L51.48 140.59L51.48 141.09L52.37 141.09L52.37 141.71L53.26 141.71L53.26 141.31L54.14 141.31L54.14 141.89L55.03 141.89L55.03 142.06L55.91 142.06L55.91 142.19L56.80 142.19L56.80 142.56L57.69 142.56L57.69 142.88L58.57 142.88L58.57 142.79L59.46 142.79L59.46 143.26L60.35 143.26L60.35 143.28L61.23 143.28L61.23 143.69L62.12 143.69L62.12 144.12L63.01 144.12L63.01 144.00L63.89 144.00L63.89 144.09L64.78 144.09L64.78 144.06L65.66 144.06L65.66 143.81L66.55 143.81L66.55 144.88L67.44 144.88L67.44 144.40L68.32 144.40L68.32 145.29L69.21 145.29L69.21 145.02L70.10 145.02L70.10 144.95L70.98 144.95L70.98 145.62L71.87 145.62L71.87 145.59L72.76 145.59L72.76 145.02L73.64 145.02L73.64 145.14L74.53 145.14L74.53 145.29L75.41 145.29L75.41 145.60L76.30 145.60L76.30 144.71L77.19 144.71L77.19 145.54L78.07 145.54L78.07 145.85L78.96 145.85L78.96 145.08L79.85 145.08L79.85 145.50L80.73 145.50L80.73 145.89L81.62 145.89L81.62 145.44L82.51 145.44L82.51 145.84L83.39 145.84L83.39 145.74L84.28 145.74L84.28 145.93L85.17 145.93L85.17 146.40L86.05 146.40L86.05 145.79L86.94 145.79L86.94 146.11L87.82 146.11L87.82 146.54L88.71 146.54L88.71 146.50L89.60 146.50L89.60 145.99L90.48 145.99L90.48 146.46L91.37 146.46L91.37 146.37L92.26 146.37L92.26 146.21L93.14 146.21L93.14 146.40L94.03 146.40L94.03 147.30L94.92 147.30L94.92 146.20L95.80 146.20L95.80 146.08L96.69 146.08L96.69 146.15L97.57 146.15L97.57 145.79L98.46 145.79L98.46 146.48L99.35 146.48L99.35 146.30L100.23 146.30L100.23 145.90L101.12 145.90L101.12 146.91L102.01 146.91L102.01 145.88L102.89 145.88L102.89 145.91L103.78 145.91L103.78 146.43L104.67 146.43L104.67 145.90L105.55 145.90L105.55 146.45L106.44 146.45L106.44 147.38L107.32 147.38L107.32 146.34L108.21 146.34L108.21 146.79L109.10 146.79L109.10 146.77L109.98 146.77L109.98 146.93L110.87 146.93L110.87 146.32L111.76 146.32L111.76 146.76L112.64 146.76L112.64 147.43L113.53 147.43L113.53 146.83L114.42 146.83L114.42 146.72L115.30 146.72L115.30 147.51L116.19 147.51L116.19 147.37L117.08 147.37L117.08 147.36L117.96 147.36L117.96 147.50L118.85 147.50L118.85 147.01L119.73 147.01L119.73 146.67L120.62 146.67L120.62 146.23L121.51 146.23L121.51 146.61L122.39 146.61L122.39 146.72L123.28 146.72L123.28 146.67L124.17 146.67L124.17 146.58L125.05 146.58L125.05 147.49L125.94 147.49L125.94 146.95L126.83 146.95L126.83 147.15L127.71 147.15L127.71 147.40L128.60 147.40L128.60 147.59L129.48 147.59L129.48 147.62L130.37 147.62L130.37 147.51L131.26 147.51L131.26 148.03L132.14 148.03L132.14 147.12L133.03 147.12L133.03 147.42L133.92 147.42L133.92 147.36L134.80 147.36L134.80 147.25L135.69 147.25L135.69 147.06L136.58 147.06L136.58 147.76L137.46 147.76L137.46 147.51L138.35 147.51L138.35 148.31L139.23 148.31L139.23 148.64L140.12 148.64L140.12 148.50L141.01 148.50L141.01 146.69L141.89 146.69L141.89 148.48L142.78 148.48L142.78 147.38L143.67 147.38L143.67 146.96L144.55 146.96L144.55 148.08L145.44 148.08L145.44 147.08L146.33 147.08L146.33 147.07L147.21 147.07L147.21 147.65L148.10 147.65L148.10 147.00L148.99 147.00L148.99 148.02L149.87 148.02L149.87 152.00L150.76 152.00L150.76 152.00L151.64 152.00L151.64 149.32L152.53 149.32L152.53 149.03L153.42 149.03L153.42 149.20L154.30 149.20L154.30 152.00L155.19 152.00L155.19 152.00L156.08 152.00L156.08 149.53L156.96 149.53L156.96 148.15L157.85 148.15L157.85 152.00L158.74 152.00L158.74 149.48L159.62 149.48L159.62 152.00L160.51 152.00L160.51 149.78L161.39 149.78L161.39 149.55L162.28 149.55L162.28 150.02L163.17 150.02L163.17 152.00L164.05 152.00L164.05 152.00L164.94 152.00L164.94 152.00L165.83 152.00L165.83 150.27L166.71 150.27L166.71 150.94L167.60 150.94L167.60 150.20L168.49 150.20L168.49 151.11L169.37 151.11L169.37 152.00L170.26 152.00L170.26 151.20L171.14 151.20L171.14 152.00L172.03 152.00L172.03 152.00L172.92 152.00L172.92 152.00L173.80 152.00L173.80 150.90L174.69 150.90L174.69 152.00L175.58 152.00L175.58 151.21L176.46 151.21L176.46 151.05L177.35 151.05L177.35 152.00L178.24 152.00L178.24 152.00L179.12 152.00L179.12 152.00L180.01 152.00L180.01 151.84L180.90 151.84L180.90 152.00L181.78 152.00L181.78 152.00L182.67 152.00L182.67 152.00L183.55 152.00L183.55 152.00L184.44 152.00L184.44 149.05L185.33 149.05L185.33 152.00L186.21 152.00L186.21 150.86L187.10 150.86L187.10 152.00Z" fill="#f00"/>
<line x1="28.5" y1="131.4" x2="209.5" y2="131.4" stroke="#5a5a5a" stroke-width="1.0"/>
<line x1="28.5" y1="152" x2="209.5" y2="152" stroke="#5a5a5a" stroke-width="1.0"/>
<line x1="28.5" y1="130.9" x2="28.5" y2="152.5" stroke="#5a5a5a" stroke-width="1.0"/>
<line x1="209.5" y1="130.9" x2="209.5" y2="152.5" stroke="#5a5a5a" stroke-width="1.0"/>
<line x1="26.9" y1="135.6" x2="28.5" y2="135.6" stroke="#555" stroke-width="0.8"/>
<text transform="translate(15.98 137.73) scale(1.120 1)" font-size="6.10" font-weight="normal" fill="#000">2.5</text>
<line x1="26.9" y1="152" x2="28.5" y2="152" stroke="#555" stroke-width="0.8"/>
<text transform="translate(15.94 154.13) scale(1.120 1)" font-size="6.10" font-weight="normal" fill="#000">0.0</text>
<line x1="37.3" y1="152" x2="37.3" y2="153.6" stroke="#555" stroke-width="0.8"/>
<text transform="translate(32.55 160.13) scale(1.120 1)" font-size="6.10" font-weight="normal" fill="#000">0.0</text>
<line x1="74.75" y1="152" x2="74.75" y2="153.6" stroke="#555" stroke-width="0.8"/>
<text transform="translate(70 160.13) scale(1.120 1)" font-size="6.10" font-weight="normal" fill="#000">0.2</text>
<line x1="112.2" y1="152" x2="112.2" y2="153.6" stroke="#555" stroke-width="0.8"/>
<text transform="translate(107.45 160.13) scale(1.120 1)" font-size="6.10" font-weight="normal" fill="#000">0.4</text>
<line x1="149.65" y1="152" x2="149.65" y2="153.6" stroke="#555" stroke-width="0.8"/>
<text transform="translate(144.9 160.13) scale(1.120 1)" font-size="6.10" font-weight="normal" fill="#000">0.6</text>
<line x1="187.1" y1="152" x2="187.1" y2="153.6" stroke="#555" stroke-width="0.8"/>
<text transform="translate(182.35 160.13) scale(1.120 1)" font-size="6.10" font-weight="normal" fill="#000">0.8</text>
<text transform="translate(98.98 168.79) scale(1.035 1)" font-size="7.53" font-weight="normal" fill="#000">Recurrence</text>
<text transform="translate(5.8 146.05) rotate(-90) scale(1.200 1)" font-size="5.30" font-weight="normal">log</text>
<text transform="translate(11.9 153.33) rotate(-90) scale(1.130 1)" font-size="5.30" font-weight="normal">(# ESLs)</text>
<text transform="translate(221.85 11.69) scale(1.071 1)" font-size="16.46" font-weight="bold" fill="#000">b</text>
<text transform="translate(312.33 11.68) scale(0.982 1)" font-size="17.00" font-weight="bold" fill="#000">c</text>
<text transform="translate(515.16 11.69) scale(0.974 1)" font-size="16.46" font-weight="bold" fill="#000">d</text>
<defs><filter id="bl" x="-5%" y="-5%" width="110%" height="110%"><feGaussianBlur stdDeviation="0.35"/></filter></defs>
<rect x="227.8" y="50.6" width="84.00" height="134.10" fill="#3f53c7"/>
<path d="M227.8 51.60H311.8M227.8 54.40H311.8M227.8 56.80H311.8M227.8 59.60H311.8M227.8 62.40H311.8M227.8 65.20H311.8M227.8 67.20H311.8M227.8 69.20H311.8M227.8 71.60H311.8M227.8 73.60H311.8M227.8 76.00H311.8M227.8 78.80H311.8M227.8 81.60H311.8M227.8 84.00H311.8M227.8 86.80H311.8M227.8 88.80H311.8M227.8 91.20H311.8M227.8 94.00H311.8M227.8 96.80H311.8M227.8 98.80H311.8M227.8 100.80H311.8M227.8 103.20H311.8M227.8 106.00H311.8M227.8 108.40H311.8M227.8 110.40H311.8M227.8 113.20H311.8M227.8 115.60H311.8M227.8 117.60H311.8M227.8 119.60H311.8M227.8 122.40H311.8M227.8 125.20H311.8M227.8 128.00H311.8M227.8 130.00H311.8M227.8 132.80H311.8M227.8 135.20H311.8M227.8 138.00H311.8M227.8 140.40H311.8M227.8 142.40H311.8M227.8 144.80H311.8M227.8 147.60H311.8M227.8 150.40H311.8M227.8 152.80H311.8M227.8 155.20H311.8M227.8 158.00H311.8M227.8 160.80H311.8M227.8 163.20H311.8M227.8 165.20H311.8M227.8 167.20H311.8M227.8 170.00H311.8M227.8 172.80H311.8M227.8 174.80H311.8M227.8 177.20H311.8M227.8 179.60H311.8M227.8 181.60H311.8M227.8 184.00H311.8" stroke="#6c84de" stroke-width="0.9" stroke-opacity="0.4"/>
<path d="M230.27 50.6V184.7M232.74 50.6V184.7M237.68 50.6V184.7M240.15 50.6V184.7M245.09 50.6V184.7M247.56 50.6V184.7M252.51 50.6V184.7M262.39 50.6V184.7M264.86 50.6V184.7M279.68 50.6V184.7M284.62 50.6V184.7M287.09 50.6V184.7M292.04 50.6V184.7M299.45 50.6V184.7M304.39 50.6V184.7M309.33 50.6V184.7" stroke="#6a80dc" stroke-width="0.5" stroke-opacity="0.35"/>
<rect x="250.0" y="176.7" width="2.5" height="1.1" fill="#86a9fb" fill-opacity="0.52"/><rect x="272.3" y="132.3" width="2.5" height="1.1" fill="#7b9ff9" fill-opacity="0.33"/><rect x="227.8" y="173.0" width="2.5" height="1.1" fill="#789cf7" fill-opacity="0.38"/><rect x="292.0" y="110.9" width="2.5" height="1.1" fill="#8aadfc" fill-opacity="0.52"/><rect x="284.6" y="72.1" width="2.5" height="1.1" fill="#6889ed" fill-opacity="0.73"/><rect x="245.1" y="97.0" width="2.5" height="1.1" fill="#8daffc" fill-opacity="0.39"/><rect x="257.4" y="176.6" width="2.5" height="1.1" fill="#8aadfc" fill-opacity="0.37"/><rect x="262.4" y="84.1" width="2.5" height="1.1" fill="#80a4fa" fill-opacity="0.41"/><rect x="237.7" y="86.7" width="2.5" height="1.1" fill="#6687ec" fill-opacity="0.62"/><rect x="284.6" y="103.8" width="2.5" height="1.1" fill="#6d8ef0" fill-opacity="0.47"/><rect x="284.6" y="97.6" width="2.5" height="1.1" fill="#81a4fa" fill-opacity="0.38"/><rect x="309.3" y="96.8" width="2.5" height="1.1" fill="#6585eb" fill-opacity="0.35"/><rect x="262.4" y="56.2" width="4.9" height="1.1" fill="#6d8ef0" fill-opacity="0.69"/><rect x="235.2" y="78.6" width="2.5" height="1.1" fill="#6d8ef0" fill-opacity="0.68"/><rect x="294.5" y="176.3" width="2.5" height="1.1" fill="#6686ec" fill-opacity="0.55"/><rect x="227.8" y="124.8" width="4.9" height="1.1" fill="#779bf7" fill-opacity="0.50"/><rect x="250.0" y="182.5" width="2.5" height="1.1" fill="#7395f4" fill-opacity="0.59"/><rect x="287.1" y="178.4" width="2.5" height="1.1" fill="#6c8def" fill-opacity="0.37"/><rect x="272.3" y="118.2" width="4.9" height="1.1" fill="#7ea1f9" fill-opacity="0.58"/><rect x="306.9" y="161.9" width="4.9" height="1.1" fill="#80a4fa" fill-opacity="0.30"/><rect x="227.8" y="56.2" width="4.9" height="1.1" fill="#88aafb" fill-opacity="0.30"/><rect x="250.0" y="135.5" width="4.9" height="1.1" fill="#6281e9" fill-opacity="0.64"/><rect x="294.5" y="66.7" width="2.5" height="1.1" fill="#89abfb" fill-opacity="0.57"/><rect x="279.7" y="176.2" width="2.5" height="1.1" fill="#6a8bee" fill-opacity="0.38"/><rect x="237.7" y="71.9" width="4.9" height="1.1" fill="#86a9fb" fill-opacity="0.39"/><rect x="242.6" y="104.8" width="4.9" height="1.1" fill="#7ca0f9" fill-opacity="0.57"/><rect x="274.7" y="119.5" width="2.5" height="1.1" fill="#7ea2f9" fill-opacity="0.36"/><rect x="227.8" y="160.0" width="4.9" height="1.1" fill="#6a8bee" fill-opacity="0.40"/><rect x="279.7" y="153.2" width="2.5" height="1.1" fill="#789bf7" fill-opacity="0.44"/><rect x="284.6" y="76.6" width="4.9" height="1.1" fill="#81a4fa" fill-opacity="0.64"/><rect x="240.2" y="126.4" width="2.5" height="1.1" fill="#7b9ff9" fill-opacity="0.74"/><rect x="252.5" y="111.7" width="2.5" height="1.1" fill="#8caefc" fill-opacity="0.36"/><rect x="294.5" y="99.2" width="4.9" height="1.1" fill="#7092f2" fill-opacity="0.75"/><rect x="237.7" y="83.5" width="2.5" height="1.1" fill="#6a8bee" fill-opacity="0.61"/><rect x="306.9" y="82.4" width="2.5" height="1.1" fill="#779af6" fill-opacity="0.43"/><rect x="250.0" y="98.1" width="4.9" height="1.1" fill="#7ca0f9" fill-opacity="0.71"/><rect x="267.3" y="177.2" width="2.5" height="1.1" fill="#769af6" fill-opacity="0.59"/><rect x="269.8" y="142.9" width="2.5" height="1.1" fill="#81a5fa" fill-opacity="0.57"/><rect x="227.8" y="113.3" width="4.9" height="1.1" fill="#6181e9" fill-opacity="0.71"/><rect x="306.9" y="132.3" width="2.5" height="1.1" fill="#7b9ff9" fill-opacity="0.32"/><rect x="235.2" y="62.5" width="2.5" height="1.1" fill="#7ea2fa" fill-opacity="0.68"/><rect x="284.6" y="158.7" width="2.5" height="1.1" fill="#7091f2" fill-opacity="0.31"/><rect x="306.9" y="73.0" width="2.5" height="1.1" fill="#6e90f1" fill-opacity="0.41"/><rect x="232.7" y="142.0" width="2.5" height="1.1" fill="#7b9ff9" fill-opacity="0.67"/><rect x="301.9" y="82.2" width="4.9" height="1.1" fill="#8caefc" fill-opacity="0.65"/><rect x="292.0" y="179.9" width="2.5" height="1.1" fill="#789bf7" fill-opacity="0.31"/><rect x="235.2" y="92.2" width="2.5" height="1.1" fill="#80a4fa" fill-opacity="0.55"/><rect x="292.0" y="53.1" width="2.5" height="1.1" fill="#6c8def" fill-opacity="0.55"/><rect x="242.6" y="108.0" width="2.5" height="1.1" fill="#6a8bee" fill-opacity="0.44"/><rect x="245.1" y="146.0" width="4.9" height="1.1" fill="#6c8def" fill-opacity="0.73"/><rect x="297.0" y="81.8" width="2.5" height="1.1" fill="#7497f5" fill-opacity="0.66"/><rect x="252.5" y="140.4" width="2.5" height="1.1" fill="#8caefc" fill-opacity="0.47"/><rect x="279.7" y="105.0" width="2.5" height="1.1" fill="#7a9ef8" fill-opacity="0.36"/><rect x="235.2" y="147.1" width="2.5" height="1.1" fill="#8eb0fc" fill-opacity="0.72"/><rect x="292.0" y="111.0" width="2.5" height="1.1" fill="#86a9fb" fill-opacity="0.74"/><rect x="299.4" y="177.1" width="2.5" height="1.1" fill="#80a4fa" fill-opacity="0.37"/><rect x="245.1" y="51.0" width="2.5" height="1.1" fill="#7395f4" fill-opacity="0.54"/><rect x="269.8" y="94.5" width="4.9" height="1.1" fill="#7ea2fa" fill-opacity="0.60"/><rect x="257.4" y="132.1" width="2.5" height="1.1" fill="#7598f5" fill-opacity="0.57"/><rect x="237.7" y="171.8" width="2.5" height="1.1" fill="#6686eb" fill-opacity="0.69"/><rect x="297.0" y="52.1" width="2.5" height="1.1" fill="#81a5fa" fill-opacity="0.46"/><rect x="304.4" y="119.4" width="2.5" height="1.1" fill="#82a5fa" fill-opacity="0.52"/><rect x="292.0" y="79.7" width="2.5" height="1.1" fill="#6484ea" fill-opacity="0.60"/><rect x="240.2" y="60.9" width="4.9" height="1.1" fill="#8aadfc" fill-opacity="0.47"/><rect x="282.2" y="86.0" width="2.5" height="1.1" fill="#80a3fa" fill-opacity="0.50"/><rect x="227.8" y="87.4" width="4.9" height="1.1" fill="#7091f2" fill-opacity="0.58"/><rect x="240.2" y="180.2" width="2.5" height="1.1" fill="#7ca0f9" fill-opacity="0.74"/>
<rect x="313.6" y="50.6" width="203.30" height="134.10" fill="#3f53c7"/>
<path d="M313.6 51.60H516.9M313.6 54.00H516.9M313.6 56.00H516.9M313.6 58.40H516.9M313.6 61.20H516.9M313.6 63.60H516.9M313.6 65.60H516.9M313.6 68.40H516.9M313.6 70.40H516.9M313.6 72.80H516.9M313.6 75.20H516.9M313.6 77.60H516.9M313.6 80.00H516.9M313.6 82.40H516.9M313.6 84.80H516.9M313.6 86.80H516.9M313.6 89.20H516.9M313.6 91.60H516.9M313.6 93.60H516.9M313.6 96.40H516.9M313.6 99.20H516.9M313.6 101.60H516.9M313.6 103.60H516.9M313.6 106.40H516.9M313.6 108.40H516.9M313.6 111.20H516.9M313.6 114.00H516.9M313.6 116.80H516.9M313.6 119.60H516.9M313.6 122.40H516.9M313.6 125.20H516.9M313.6 127.60H516.9M313.6 130.40H516.9M313.6 132.80H516.9M313.6 135.60H516.9M313.6 137.60H516.9M313.6 139.60H516.9M313.6 142.00H516.9M313.6 144.80H516.9M313.6 147.20H516.9M313.6 149.60H516.9M313.6 151.60H516.9M313.6 154.00H516.9M313.6 156.80H516.9M313.6 158.80H516.9M313.6 161.60H516.9M313.6 164.00H516.9M313.6 166.40H516.9M313.6 168.80H516.9M313.6 171.60H516.9M313.6 173.60H516.9M313.6 175.60H516.9M313.6 178.40H516.9M313.6 180.80H516.9M313.6 183.20H516.9" stroke="#6c84de" stroke-width="0.9" stroke-opacity="0.4"/>
<path d="M320.95 50.6V184.7M325.85 50.6V184.7M338.09 50.6V184.7M350.34 50.6V184.7M357.69 50.6V184.7M369.94 50.6V184.7M382.18 50.6V184.7M384.63 50.6V184.7M387.08 50.6V184.7M396.88 50.6V184.7M404.23 50.6V184.7M411.58 50.6V184.7M414.03 50.6V184.7M421.37 50.6V184.7M426.27 50.6V184.7M431.17 50.6V184.7M445.87 50.6V184.7M448.32 50.6V184.7M450.77 50.6V184.7M453.22 50.6V184.7M455.67 50.6V184.7M472.81 50.6V184.7M480.16 50.6V184.7M494.86 50.6V184.7M502.20 50.6V184.7" stroke="#6a80dc" stroke-width="0.5" stroke-opacity="0.35"/>
<rect x="453.2" y="97.5" width="4.9" height="1.1" fill="#6d8ff0" fill-opacity="0.58"/><rect x="399.3" y="165.1" width="4.9" height="1.1" fill="#6a8bee" fill-opacity="0.32"/><rect x="433.6" y="167.3" width="4.9" height="1.1" fill="#80a3fa" fill-opacity="0.73"/><rect x="372.4" y="175.5" width="2.4" height="1.1" fill="#8aadfc" fill-opacity="0.48"/><rect x="426.3" y="175.6" width="2.4" height="1.1" fill="#6484ea" fill-opacity="0.67"/><rect x="450.8" y="72.0" width="2.4" height="1.1" fill="#6382ea" fill-opacity="0.64"/><rect x="514.5" y="70.9" width="2.4" height="1.1" fill="#7194f3" fill-opacity="0.69"/><rect x="421.4" y="87.0" width="2.4" height="1.1" fill="#8caefc" fill-opacity="0.33"/><rect x="458.1" y="145.5" width="2.4" height="1.1" fill="#84a7fb" fill-opacity="0.69"/><rect x="328.3" y="69.1" width="2.4" height="1.1" fill="#7497f5" fill-opacity="0.44"/><rect x="492.4" y="178.9" width="2.4" height="1.1" fill="#6a8bee" fill-opacity="0.45"/><rect x="389.5" y="170.8" width="4.9" height="1.1" fill="#7598f5" fill-opacity="0.52"/><rect x="512.0" y="130.1" width="2.4" height="1.1" fill="#6180e8" fill-opacity="0.66"/><rect x="482.6" y="179.8" width="2.4" height="1.1" fill="#7497f5" fill-opacity="0.73"/><rect x="394.4" y="104.7" width="4.9" height="1.1" fill="#88aafb" fill-opacity="0.51"/><rect x="389.5" y="136.6" width="2.4" height="1.1" fill="#7fa3fa" fill-opacity="0.47"/><rect x="369.9" y="154.7" width="2.4" height="1.1" fill="#8badfc" fill-opacity="0.55"/><rect x="411.6" y="164.6" width="4.9" height="1.1" fill="#7fa2fa" fill-opacity="0.42"/><rect x="401.8" y="128.5" width="2.4" height="1.1" fill="#698aee" fill-opacity="0.54"/><rect x="448.3" y="173.1" width="2.4" height="1.1" fill="#779af6" fill-opacity="0.68"/><rect x="352.8" y="107.2" width="4.9" height="1.1" fill="#789cf7" fill-opacity="0.51"/><rect x="318.5" y="173.9" width="4.9" height="1.1" fill="#84a7fb" fill-opacity="0.47"/><rect x="448.3" y="169.7" width="2.4" height="1.1" fill="#6585eb" fill-opacity="0.60"/><rect x="480.2" y="170.8" width="2.4" height="1.1" fill="#8daffc" fill-opacity="0.42"/><rect x="443.4" y="128.7" width="2.4" height="1.1" fill="#6e8ff1" fill-opacity="0.65"/><rect x="421.4" y="107.9" width="2.4" height="1.1" fill="#84a7fb" fill-opacity="0.63"/><rect x="443.4" y="63.9" width="2.4" height="1.1" fill="#86a9fb" fill-opacity="0.59"/><rect x="323.4" y="70.3" width="4.9" height="1.1" fill="#779af6" fill-opacity="0.38"/><rect x="338.1" y="174.3" width="4.9" height="1.1" fill="#8caefc" fill-opacity="0.62"/><rect x="357.7" y="124.5" width="2.4" height="1.1" fill="#80a3fa" fill-opacity="0.43"/><rect x="448.3" y="115.5" width="2.4" height="1.1" fill="#6382ea" fill-opacity="0.72"/><rect x="325.8" y="163.6" width="2.4" height="1.1" fill="#6585eb" fill-opacity="0.58"/><rect x="465.5" y="145.6" width="4.9" height="1.1" fill="#7294f3" fill-opacity="0.63"/><rect x="399.3" y="52.0" width="2.4" height="1.1" fill="#6c8df0" fill-opacity="0.50"/><rect x="409.1" y="124.0" width="2.4" height="1.1" fill="#89abfb" fill-opacity="0.70"/><rect x="396.9" y="151.5" width="2.4" height="1.1" fill="#779af6" fill-opacity="0.42"/><rect x="472.8" y="159.0" width="4.9" height="1.1" fill="#7b9ff9" fill-opacity="0.59"/><rect x="335.6" y="65.1" width="2.4" height="1.1" fill="#7fa3fa" fill-opacity="0.69"/><rect x="352.8" y="102.5" width="4.9" height="1.1" fill="#81a4fa" fill-opacity="0.56"/><rect x="421.4" y="112.1" width="2.4" height="1.1" fill="#81a4fa" fill-opacity="0.66"/><rect x="441.0" y="125.2" width="2.4" height="1.1" fill="#698aee" fill-opacity="0.37"/><rect x="445.9" y="158.2" width="2.4" height="1.1" fill="#7497f5" fill-opacity="0.70"/><rect x="357.7" y="70.1" width="2.4" height="1.1" fill="#6c8def" fill-opacity="0.58"/><rect x="450.8" y="159.1" width="2.4" height="1.1" fill="#84a7fb" fill-opacity="0.53"/><rect x="480.2" y="122.8" width="4.9" height="1.1" fill="#6686ec" fill-opacity="0.64"/><rect x="347.9" y="57.5" width="4.9" height="1.1" fill="#698aee" fill-opacity="0.62"/><rect x="502.2" y="110.1" width="2.4" height="1.1" fill="#83a6fa" fill-opacity="0.43"/><rect x="436.1" y="160.3" width="2.4" height="1.1" fill="#7b9ff9" fill-opacity="0.56"/><rect x="465.5" y="101.6" width="2.4" height="1.1" fill="#7294f3" fill-opacity="0.41"/><rect x="509.6" y="124.8" width="2.4" height="1.1" fill="#8badfc" fill-opacity="0.56"/><rect x="499.8" y="102.7" width="2.4" height="1.1" fill="#7a9df8" fill-opacity="0.67"/><rect x="465.5" y="161.3" width="2.4" height="1.1" fill="#8daffc" fill-opacity="0.59"/><rect x="455.7" y="180.1" width="2.4" height="1.1" fill="#6a8bee" fill-opacity="0.58"/><rect x="445.9" y="152.6" width="4.9" height="1.1" fill="#6889ed" fill-opacity="0.46"/><rect x="399.3" y="154.5" width="2.4" height="1.1" fill="#6180e9" fill-opacity="0.70"/><rect x="355.2" y="179.7" width="2.4" height="1.1" fill="#85a8fb" fill-opacity="0.63"/><rect x="490.0" y="123.9" width="2.4" height="1.1" fill="#83a6fa" fill-opacity="0.45"/><rect x="445.9" y="77.9" width="2.4" height="1.1" fill="#7ca0f9" fill-opacity="0.75"/><rect x="453.2" y="105.7" width="2.4" height="1.1" fill="#6686ec" fill-opacity="0.31"/><rect x="396.9" y="69.1" width="2.4" height="1.1" fill="#8daffc" fill-opacity="0.35"/><rect x="433.6" y="71.9" width="2.4" height="1.1" fill="#6e90f1" fill-opacity="0.32"/><rect x="450.8" y="168.6" width="4.9" height="1.1" fill="#7497f5" fill-opacity="0.64"/><rect x="343.0" y="154.3" width="2.4" height="1.1" fill="#7b9ff9" fill-opacity="0.37"/><rect x="507.1" y="61.3" width="2.4" height="1.1" fill="#799cf7" fill-opacity="0.41"/><rect x="443.4" y="72.5" width="4.9" height="1.1" fill="#6e8ff0" fill-opacity="0.46"/><rect x="384.6" y="97.3" width="2.4" height="1.1" fill="#7598f5" fill-opacity="0.68"/><rect x="465.5" y="117.3" width="2.4" height="1.1" fill="#8badfc" fill-opacity="0.59"/><rect x="372.4" y="162.6" width="2.4" height="1.1" fill="#8daffc" fill-opacity="0.59"/><rect x="360.1" y="100.4" width="4.9" height="1.1" fill="#6585eb" fill-opacity="0.31"/><rect x="362.6" y="76.6" width="4.9" height="1.1" fill="#789cf7" fill-opacity="0.48"/><rect x="374.8" y="56.6" width="2.4" height="1.1" fill="#6181e9" fill-opacity="0.32"/><rect x="340.5" y="90.1" width="2.4" height="1.1" fill="#6788ed" fill-opacity="0.70"/><rect x="441.0" y="181.8" width="2.4" height="1.1" fill="#6382ea" fill-opacity="0.38"/><rect x="438.5" y="118.5" width="2.4" height="1.1" fill="#8eb0fc" fill-opacity="0.63"/><rect x="502.2" y="168.9" width="2.4" height="1.1" fill="#779bf7" fill-opacity="0.52"/><rect x="333.2" y="79.4" width="2.4" height="1.1" fill="#7a9ef8" fill-opacity="0.74"/><rect x="426.3" y="59.5" width="2.4" height="1.1" fill="#6889ed" fill-opacity="0.40"/><rect x="372.4" y="92.9" width="4.9" height="1.1" fill="#8daffc" fill-opacity="0.45"/><rect x="387.1" y="114.9" width="2.4" height="1.1" fill="#6b8cef" fill-opacity="0.40"/><rect x="345.4" y="126.2" width="2.4" height="1.1" fill="#6d8ff0" fill-opacity="0.54"/><rect x="372.4" y="52.8" width="2.4" height="1.1" fill="#6383ea" fill-opacity="0.49"/><rect x="487.5" y="182.0" width="2.4" height="1.1" fill="#6382e9" fill-opacity="0.52"/><rect x="345.4" y="134.4" width="4.9" height="1.1" fill="#6a8bee" fill-opacity="0.61"/><rect x="389.5" y="129.0" width="2.4" height="1.1" fill="#7ca0f9" fill-opacity="0.68"/><rect x="382.2" y="119.0" width="2.4" height="1.1" fill="#7ca0f9" fill-opacity="0.53"/><rect x="392.0" y="63.7" width="4.9" height="1.1" fill="#6686ec" fill-opacity="0.63"/><rect x="494.9" y="108.2" width="2.4" height="1.1" fill="#789cf7" fill-opacity="0.67"/><rect x="472.8" y="113.0" width="2.4" height="1.1" fill="#84a7fa" fill-opacity="0.67"/><rect x="362.6" y="117.4" width="2.4" height="1.1" fill="#81a4fa" fill-opacity="0.72"/><rect x="502.2" y="76.6" width="2.4" height="1.1" fill="#84a7fa" fill-opacity="0.72"/><rect x="504.7" y="97.1" width="2.4" height="1.1" fill="#8aacfb" fill-opacity="0.60"/><rect x="426.3" y="89.0" width="4.9" height="1.1" fill="#8caefc" fill-opacity="0.60"/><rect x="369.9" y="57.6" width="4.9" height="1.1" fill="#7a9df8" fill-opacity="0.39"/><rect x="365.0" y="112.5" width="2.4" height="1.1" fill="#6484eb" fill-opacity="0.41"/><rect x="448.3" y="167.6" width="2.4" height="1.1" fill="#6686eb" fill-opacity="0.67"/><rect x="320.9" y="140.5" width="4.9" height="1.1" fill="#88aafb" fill-opacity="0.39"/><rect x="409.1" y="51.3" width="2.4" height="1.1" fill="#7da1f9" fill-opacity="0.45"/><rect x="477.7" y="127.6" width="2.4" height="1.1" fill="#6f90f1" fill-opacity="0.56"/><rect x="328.3" y="162.8" width="2.4" height="1.1" fill="#6383ea" fill-opacity="0.34"/><rect x="377.3" y="91.3" width="2.4" height="1.1" fill="#81a4fa" fill-opacity="0.61"/><rect x="438.5" y="166.9" width="2.4" height="1.1" fill="#7fa2fa" fill-opacity="0.57"/><rect x="450.8" y="139.2" width="2.4" height="1.1" fill="#8daffc" fill-opacity="0.38"/><rect x="460.6" y="136.1" width="2.4" height="1.1" fill="#6a8bee" fill-opacity="0.72"/><rect x="338.1" y="104.4" width="4.9" height="1.1" fill="#6a8bee" fill-opacity="0.53"/><rect x="428.7" y="53.8" width="2.4" height="1.1" fill="#8caefc" fill-opacity="0.61"/><rect x="431.2" y="139.0" width="2.4" height="1.1" fill="#6f91f1" fill-opacity="0.65"/><rect x="426.3" y="102.2" width="2.4" height="1.1" fill="#799df8" fill-opacity="0.74"/><rect x="379.7" y="148.2" width="4.9" height="1.1" fill="#6687ec" fill-opacity="0.66"/><rect x="448.3" y="106.8" width="2.4" height="1.1" fill="#7a9ef8" fill-opacity="0.65"/><rect x="441.0" y="54.9" width="4.9" height="1.1" fill="#6d8ff0" fill-opacity="0.39"/><rect x="333.2" y="141.2" width="2.4" height="1.1" fill="#6585eb" fill-opacity="0.54"/><rect x="335.6" y="59.4" width="2.4" height="1.1" fill="#6f91f2" fill-opacity="0.44"/><rect x="472.8" y="130.0" width="2.4" height="1.1" fill="#6d8ff0" fill-opacity="0.40"/><rect x="512.0" y="99.5" width="2.4" height="1.1" fill="#8baefc" fill-opacity="0.37"/><rect x="470.4" y="54.6" width="4.9" height="1.1" fill="#6f91f1" fill-opacity="0.64"/><rect x="374.8" y="141.1" width="4.9" height="1.1" fill="#7295f3" fill-opacity="0.49"/><rect x="465.5" y="175.8" width="4.9" height="1.1" fill="#6281e9" fill-opacity="0.31"/><rect x="323.4" y="159.2" width="4.9" height="1.1" fill="#80a3fa" fill-opacity="0.59"/><rect x="416.5" y="158.6" width="2.4" height="1.1" fill="#6f91f2" fill-opacity="0.35"/><rect x="418.9" y="105.2" width="2.4" height="1.1" fill="#8badfc" fill-opacity="0.64"/><rect x="352.8" y="88.4" width="4.9" height="1.1" fill="#7699f6" fill-opacity="0.57"/><rect x="416.5" y="176.4" width="4.9" height="1.1" fill="#7ca0f9" fill-opacity="0.53"/><rect x="367.5" y="177.5" width="2.4" height="1.1" fill="#7ea2f9" fill-opacity="0.34"/><rect x="357.7" y="122.9" width="2.4" height="1.1" fill="#81a5fa" fill-opacity="0.31"/><rect x="507.1" y="181.4" width="2.4" height="1.1" fill="#7b9ff9" fill-opacity="0.73"/><rect x="421.4" y="128.3" width="2.4" height="1.1" fill="#7497f4" fill-opacity="0.64"/><rect x="357.7" y="103.3" width="4.9" height="1.1" fill="#7294f3" fill-opacity="0.35"/><rect x="345.4" y="63.9" width="2.4" height="1.1" fill="#779bf7" fill-opacity="0.44"/><rect x="338.1" y="74.5" width="2.4" height="1.1" fill="#7ca0f9" fill-opacity="0.67"/><rect x="463.0" y="72.0" width="2.4" height="1.1" fill="#6c8ef0" fill-opacity="0.52"/><rect x="438.5" y="109.9" width="2.4" height="1.1" fill="#7a9ef8" fill-opacity="0.71"/><rect x="431.2" y="133.6" width="2.4" height="1.1" fill="#85a8fb" fill-opacity="0.37"/><rect x="384.6" y="153.6" width="2.4" height="1.1" fill="#6c8ef0" fill-opacity="0.64"/><rect x="428.7" y="65.8" width="2.4" height="1.1" fill="#6d8ef0" fill-opacity="0.53"/><rect x="318.5" y="134.4" width="2.4" height="1.1" fill="#7b9ef9" fill-opacity="0.74"/><rect x="377.3" y="183.3" width="4.9" height="1.1" fill="#6e90f1" fill-opacity="0.51"/><rect x="458.1" y="158.0" width="2.4" height="1.1" fill="#8caefc" fill-opacity="0.47"/><rect x="492.4" y="95.5" width="2.4" height="1.1" fill="#84a7fb" fill-opacity="0.73"/><rect x="379.7" y="125.5" width="2.4" height="1.1" fill="#7fa2fa" fill-opacity="0.49"/><rect x="401.8" y="126.4" width="4.9" height="1.1" fill="#6585eb" fill-opacity="0.48"/><rect x="350.3" y="86.3" width="4.9" height="1.1" fill="#8daffc" fill-opacity="0.61"/><rect x="343.0" y="102.2" width="2.4" height="1.1" fill="#6585eb" fill-opacity="0.46"/><rect x="514.5" y="168.1" width="2.4" height="1.1" fill="#85a8fb" fill-opacity="0.38"/><rect x="509.6" y="125.9" width="2.4" height="1.1" fill="#6383ea" fill-opacity="0.69"/><rect x="325.8" y="50.9" width="2.4" height="1.1" fill="#6585eb" fill-opacity="0.62"/><rect x="333.2" y="134.1" width="2.4" height="1.1" fill="#7396f4" fill-opacity="0.73"/><rect x="355.2" y="78.6" width="2.4" height="1.1" fill="#7ea1f9" fill-opacity="0.35"/><rect x="325.8" y="124.5" width="2.4" height="1.1" fill="#6282e9" fill-opacity="0.60"/><rect x="365.0" y="150.5" width="4.9" height="1.1" fill="#6888ed" fill-opacity="0.74"/><rect x="377.3" y="83.1" width="4.9" height="1.1" fill="#7193f3" fill-opacity="0.41"/><rect x="362.6" y="83.3" width="4.9" height="1.1" fill="#6484eb" fill-opacity="0.68"/><rect x="499.8" y="121.7" width="2.4" height="1.1" fill="#6788ed" fill-opacity="0.60"/><rect x="318.5" y="125.0" width="2.4" height="1.1" fill="#6e8ff1" fill-opacity="0.72"/><rect x="362.6" y="148.6" width="2.4" height="1.1" fill="#8badfc" fill-opacity="0.40"/><rect x="445.9" y="94.4" width="2.4" height="1.1" fill="#7497f5" fill-opacity="0.50"/><rect x="482.6" y="158.1" width="4.9" height="1.1" fill="#89acfb" fill-opacity="0.65"/><rect x="514.5" y="109.9" width="2.4" height="1.1" fill="#6b8cef" fill-opacity="0.41"/><rect x="455.7" y="77.7" width="4.9" height="1.1" fill="#8caefc" fill-opacity="0.64"/><rect x="450.8" y="86.0" width="2.4" height="1.1" fill="#7092f2" fill-opacity="0.67"/><rect x="445.9" y="115.1" width="2.4" height="1.1" fill="#6e8ff1" fill-opacity="0.34"/><rect x="362.6" y="98.6" width="2.4" height="1.1" fill="#7598f5" fill-opacity="0.60"/><rect x="382.2" y="174.0" width="2.4" height="1.1" fill="#7a9ef9" fill-opacity="0.46"/>
<rect x="518.3" y="50.6" width="130.70" height="134.10" fill="#3f53c7"/>
<path d="M518.3 51.60H649.0M518.3 54.40H649.0M518.3 56.40H649.0M518.3 58.40H649.0M518.3 60.40H649.0M518.3 62.80H649.0M518.3 64.80H649.0M518.3 66.80H649.0M518.3 68.80H649.0M518.3 70.80H649.0M518.3 73.60H649.0M518.3 76.00H649.0M518.3 78.40H649.0M518.3 80.40H649.0M518.3 82.80H649.0M518.3 85.60H649.0M518.3 87.60H649.0M518.3 90.40H649.0M518.3 92.80H649.0M518.3 95.20H649.0M518.3 98.00H649.0M518.3 100.80H649.0M518.3 103.20H649.0M518.3 105.20H649.0M518.3 108.00H649.0M518.3 110.00H649.0M518.3 112.80H649.0M518.3 115.20H649.0M518.3 117.20H649.0M518.3 120.00H649.0M518.3 122.00H649.0M518.3 124.00H649.0M518.3 126.00H649.0M518.3 128.40H649.0M518.3 131.20H649.0M518.3 134.00H649.0M518.3 136.80H649.0M518.3 138.80H649.0M518.3 141.20H649.0M518.3 144.00H649.0M518.3 146.80H649.0M518.3 149.60H649.0M518.3 152.40H649.0M518.3 154.80H649.0M518.3 157.20H649.0M518.3 159.60H649.0M518.3 161.60H649.0M518.3 164.40H649.0M518.3 167.20H649.0M518.3 169.60H649.0M518.3 172.00H649.0M518.3 174.40H649.0M518.3 176.40H649.0M518.3 178.80H649.0M518.3 181.60H649.0M518.3 183.60H649.0" stroke="#6c84de" stroke-width="0.9" stroke-opacity="0.4"/>
<path d="M520.77 50.6V184.7M535.56 50.6V184.7M542.96 50.6V184.7M547.89 50.6V184.7M552.82 50.6V184.7M555.29 50.6V184.7M562.69 50.6V184.7M575.02 50.6V184.7M579.95 50.6V184.7M587.35 50.6V184.7M594.75 50.6V184.7M597.21 50.6V184.7M599.68 50.6V184.7M604.61 50.6V184.7M607.08 50.6V184.7M612.01 50.6V184.7M614.48 50.6V184.7M616.94 50.6V184.7M619.41 50.6V184.7M624.34 50.6V184.7M629.27 50.6V184.7M631.74 50.6V184.7M634.20 50.6V184.7M641.60 50.6V184.7M644.07 50.6V184.7M646.53 50.6V184.7" stroke="#6a80dc" stroke-width="0.5" stroke-opacity="0.35"/>
<rect x="621.9" y="148.9" width="4.9" height="1.1" fill="#7da1f9" fill-opacity="0.52"/><rect x="614.5" y="112.1" width="2.5" height="1.1" fill="#6586eb" fill-opacity="0.66"/><rect x="594.7" y="153.9" width="2.5" height="1.1" fill="#6b8cef" fill-opacity="0.40"/><rect x="607.1" y="180.9" width="4.9" height="1.1" fill="#83a6fa" fill-opacity="0.65"/><rect x="641.6" y="111.5" width="2.5" height="1.1" fill="#80a3fa" fill-opacity="0.50"/><rect x="631.7" y="141.2" width="2.5" height="1.1" fill="#7295f3" fill-opacity="0.68"/><rect x="528.2" y="114.4" width="2.5" height="1.1" fill="#7a9ef8" fill-opacity="0.72"/><rect x="589.8" y="77.3" width="2.5" height="1.1" fill="#7598f5" fill-opacity="0.41"/><rect x="607.1" y="57.0" width="4.9" height="1.1" fill="#698aed" fill-opacity="0.56"/><rect x="597.2" y="107.7" width="4.9" height="1.1" fill="#89acfb" fill-opacity="0.34"/><rect x="570.1" y="125.2" width="2.5" height="1.1" fill="#6788ed" fill-opacity="0.48"/><rect x="570.1" y="165.8" width="2.5" height="1.1" fill="#7fa3fa" fill-opacity="0.42"/><rect x="543.0" y="119.6" width="2.5" height="1.1" fill="#6484ea" fill-opacity="0.66"/><rect x="589.8" y="100.9" width="2.5" height="1.1" fill="#6a8bee" fill-opacity="0.74"/><rect x="545.4" y="175.9" width="2.5" height="1.1" fill="#6d8ef0" fill-opacity="0.62"/><rect x="577.5" y="57.6" width="2.5" height="1.1" fill="#6180e8" fill-opacity="0.32"/><rect x="629.3" y="95.0" width="2.5" height="1.1" fill="#6180e8" fill-opacity="0.43"/><rect x="577.5" y="181.3" width="2.5" height="1.1" fill="#6383ea" fill-opacity="0.69"/><rect x="619.4" y="112.5" width="4.9" height="1.1" fill="#6f91f1" fill-opacity="0.44"/><rect x="646.5" y="140.9" width="4.9" height="1.1" fill="#6d8ef0" fill-opacity="0.54"/><rect x="580.0" y="135.3" width="4.9" height="1.1" fill="#86a9fb" fill-opacity="0.64"/><rect x="557.8" y="150.7" width="4.9" height="1.1" fill="#6b8cef" fill-opacity="0.62"/><rect x="602.1" y="73.8" width="2.5" height="1.1" fill="#779bf7" fill-opacity="0.38"/><rect x="535.6" y="67.5" width="2.5" height="1.1" fill="#8daffc" fill-opacity="0.32"/><rect x="594.7" y="109.6" width="2.5" height="1.1" fill="#799cf8" fill-opacity="0.56"/><rect x="528.2" y="115.8" width="2.5" height="1.1" fill="#80a4fa" fill-opacity="0.53"/><rect x="523.2" y="126.8" width="2.5" height="1.1" fill="#8aacfc" fill-opacity="0.50"/><rect x="604.6" y="171.9" width="4.9" height="1.1" fill="#7598f5" fill-opacity="0.38"/><rect x="540.5" y="100.1" width="2.5" height="1.1" fill="#8daffc" fill-opacity="0.51"/><rect x="634.2" y="87.4" width="4.9" height="1.1" fill="#8aacfc" fill-opacity="0.50"/><rect x="560.2" y="77.0" width="4.9" height="1.1" fill="#779bf7" fill-opacity="0.49"/><rect x="626.8" y="170.7" width="2.5" height="1.1" fill="#6181e9" fill-opacity="0.73"/><rect x="614.5" y="111.0" width="2.5" height="1.1" fill="#8aadfc" fill-opacity="0.49"/><rect x="540.5" y="141.6" width="2.5" height="1.1" fill="#698aee" fill-opacity="0.74"/><rect x="614.5" y="125.4" width="4.9" height="1.1" fill="#799cf8" fill-opacity="0.31"/><rect x="525.7" y="180.7" width="4.9" height="1.1" fill="#7294f3" fill-opacity="0.66"/><rect x="604.6" y="156.1" width="2.5" height="1.1" fill="#6b8cef" fill-opacity="0.34"/><rect x="609.5" y="164.4" width="2.5" height="1.1" fill="#7092f2" fill-opacity="0.47"/><rect x="634.2" y="104.2" width="4.9" height="1.1" fill="#8caefc" fill-opacity="0.54"/><rect x="552.8" y="144.9" width="2.5" height="1.1" fill="#6585eb" fill-opacity="0.33"/><rect x="597.2" y="70.2" width="2.5" height="1.1" fill="#7da1f9" fill-opacity="0.75"/><rect x="582.4" y="170.3" width="2.5" height="1.1" fill="#7294f3" fill-opacity="0.46"/><rect x="614.5" y="143.3" width="2.5" height="1.1" fill="#83a6fa" fill-opacity="0.63"/><rect x="562.7" y="66.5" width="2.5" height="1.1" fill="#6585eb" fill-opacity="0.44"/><rect x="621.9" y="180.2" width="2.5" height="1.1" fill="#88aafb" fill-opacity="0.72"/><rect x="602.1" y="85.8" width="2.5" height="1.1" fill="#7194f3" fill-opacity="0.33"/><rect x="621.9" y="64.8" width="2.5" height="1.1" fill="#7da1f9" fill-opacity="0.59"/><rect x="533.1" y="163.2" width="2.5" height="1.1" fill="#83a6fa" fill-opacity="0.42"/><rect x="555.3" y="92.3" width="2.5" height="1.1" fill="#7295f3" fill-opacity="0.75"/><rect x="602.1" y="92.7" width="2.5" height="1.1" fill="#89abfb" fill-opacity="0.69"/><rect x="547.9" y="72.3" width="2.5" height="1.1" fill="#779bf7" fill-opacity="0.33"/><rect x="560.2" y="99.9" width="4.9" height="1.1" fill="#84a7fa" fill-opacity="0.37"/><rect x="616.9" y="90.9" width="2.5" height="1.1" fill="#80a3fa" fill-opacity="0.36"/><rect x="552.8" y="181.6" width="2.5" height="1.1" fill="#789cf7" fill-opacity="0.62"/><rect x="533.1" y="176.6" width="2.5" height="1.1" fill="#88aafb" fill-opacity="0.54"/><rect x="597.2" y="80.0" width="2.5" height="1.1" fill="#7ca0f9" fill-opacity="0.54"/><rect x="572.6" y="154.6" width="2.5" height="1.1" fill="#7294f3" fill-opacity="0.53"/><rect x="587.3" y="119.7" width="2.5" height="1.1" fill="#6f91f2" fill-opacity="0.56"/><rect x="518.3" y="145.3" width="2.5" height="1.1" fill="#83a6fa" fill-opacity="0.53"/><rect x="572.6" y="99.7" width="4.9" height="1.1" fill="#85a8fb" fill-opacity="0.71"/><rect x="547.9" y="147.5" width="2.5" height="1.1" fill="#81a4fa" fill-opacity="0.53"/><rect x="545.4" y="173.5" width="2.5" height="1.1" fill="#84a7fb" fill-opacity="0.51"/><rect x="518.3" y="164.3" width="2.5" height="1.1" fill="#6180e8" fill-opacity="0.61"/><rect x="597.2" y="121.5" width="2.5" height="1.1" fill="#6686ec" fill-opacity="0.48"/><rect x="547.9" y="125.1" width="2.5" height="1.1" fill="#6181e9" fill-opacity="0.37"/><rect x="580.0" y="141.1" width="2.5" height="1.1" fill="#82a6fa" fill-opacity="0.49"/><rect x="587.3" y="84.7" width="2.5" height="1.1" fill="#6a8bee" fill-opacity="0.33"/><rect x="621.9" y="99.6" width="2.5" height="1.1" fill="#6a8bee" fill-opacity="0.73"/><rect x="575.0" y="81.4" width="2.5" height="1.1" fill="#7ea2fa" fill-opacity="0.36"/><rect x="533.1" y="87.8" width="2.5" height="1.1" fill="#6d8ef0" fill-opacity="0.59"/><rect x="570.1" y="69.2" width="2.5" height="1.1" fill="#6686ec" fill-opacity="0.56"/><rect x="602.1" y="180.7" width="2.5" height="1.1" fill="#8caefc" fill-opacity="0.55"/><rect x="619.4" y="71.7" width="2.5" height="1.1" fill="#84a7fb" fill-opacity="0.36"/><rect x="565.2" y="138.9" width="2.5" height="1.1" fill="#8badfc" fill-opacity="0.46"/><rect x="560.2" y="93.5" width="2.5" height="1.1" fill="#799cf8" fill-opacity="0.73"/><rect x="552.8" y="122.4" width="2.5" height="1.1" fill="#789bf7" fill-opacity="0.34"/><rect x="614.5" y="128.6" width="2.5" height="1.1" fill="#7b9ff9" fill-opacity="0.43"/><rect x="594.7" y="86.1" width="4.9" height="1.1" fill="#6281e9" fill-opacity="0.37"/><rect x="560.2" y="88.7" width="2.5" height="1.1" fill="#8aadfc" fill-opacity="0.62"/><rect x="584.9" y="119.2" width="4.9" height="1.1" fill="#7597f5" fill-opacity="0.32"/><rect x="609.5" y="141.8" width="2.5" height="1.1" fill="#7ea2fa" fill-opacity="0.68"/><rect x="609.5" y="154.5" width="4.9" height="1.1" fill="#6382ea" fill-opacity="0.75"/><rect x="624.3" y="128.8" width="2.5" height="1.1" fill="#7ca0f9" fill-opacity="0.42"/><rect x="594.7" y="90.9" width="2.5" height="1.1" fill="#7ca0f9" fill-opacity="0.73"/><rect x="631.7" y="78.3" width="2.5" height="1.1" fill="#7c9ff9" fill-opacity="0.32"/><rect x="594.7" y="133.8" width="2.5" height="1.1" fill="#7497f4" fill-opacity="0.38"/><rect x="567.6" y="129.6" width="2.5" height="1.1" fill="#89acfb" fill-opacity="0.68"/><rect x="604.6" y="180.9" width="2.5" height="1.1" fill="#80a4fa" fill-opacity="0.43"/><rect x="644.1" y="122.4" width="4.9" height="1.1" fill="#7a9ef8" fill-opacity="0.44"/><rect x="528.2" y="121.9" width="4.9" height="1.1" fill="#6383ea" fill-opacity="0.69"/><rect x="614.5" y="55.6" width="2.5" height="1.1" fill="#6a8bee" fill-opacity="0.32"/><rect x="580.0" y="114.4" width="2.5" height="1.1" fill="#6484ea" fill-opacity="0.67"/><rect x="550.4" y="83.2" width="2.5" height="1.1" fill="#7ca0f9" fill-opacity="0.46"/><rect x="639.1" y="58.7" width="2.5" height="1.1" fill="#6586eb" fill-opacity="0.65"/><rect x="629.3" y="120.8" width="2.5" height="1.1" fill="#6484eb" fill-opacity="0.49"/><rect x="577.5" y="52.8" width="2.5" height="1.1" fill="#81a4fa" fill-opacity="0.36"/><rect x="616.9" y="118.3" width="4.9" height="1.1" fill="#81a4fa" fill-opacity="0.39"/><rect x="540.5" y="73.6" width="2.5" height="1.1" fill="#8daffc" fill-opacity="0.67"/><rect x="555.3" y="104.2" width="2.5" height="1.1" fill="#7193f3" fill-opacity="0.38"/><rect x="621.9" y="169.8" width="4.9" height="1.1" fill="#85a8fb" fill-opacity="0.73"/><rect x="520.8" y="61.8" width="2.5" height="1.1" fill="#84a7fb" fill-opacity="0.32"/><rect x="629.3" y="109.6" width="2.5" height="1.1" fill="#7294f3" fill-opacity="0.47"/><rect x="550.4" y="103.0" width="2.5" height="1.1" fill="#6d8ef0" fill-opacity="0.43"/><rect x="518.3" y="136.9" width="2.5" height="1.1" fill="#83a6fa" fill-opacity="0.59"/>
<rect x="227.8" y="169.2" width="84" height="12.5" fill="#6e86e0" fill-opacity="0.28"/>
<rect x="282.2" y="178.7" width="7.4" height="1.2" fill="#8aa2ec" fill-opacity="0.51"/><rect x="279.7" y="169.8" width="2.5" height="1.2" fill="#8aa2ec" fill-opacity="0.45"/><rect x="274.7" y="169.7" width="4.9" height="1.2" fill="#8aa2ec" fill-opacity="0.32"/><rect x="240.2" y="176.9" width="7.4" height="1.2" fill="#8aa2ec" fill-opacity="0.39"/><rect x="250.0" y="180.7" width="4.9" height="1.2" fill="#8aa2ec" fill-opacity="0.66"/><rect x="294.5" y="173.8" width="7.4" height="1.2" fill="#8aa2ec" fill-opacity="0.50"/><rect x="282.2" y="169.9" width="7.4" height="1.2" fill="#8aa2ec" fill-opacity="0.52"/><rect x="301.9" y="179.6" width="2.5" height="1.2" fill="#8aa2ec" fill-opacity="0.33"/><rect x="257.4" y="179.5" width="7.4" height="1.2" fill="#8aa2ec" fill-opacity="0.39"/><rect x="272.3" y="179.5" width="7.4" height="1.2" fill="#8aa2ec" fill-opacity="0.31"/><rect x="292.0" y="169.2" width="7.4" height="1.2" fill="#8aa2ec" fill-opacity="0.50"/><rect x="255.0" y="171.6" width="4.9" height="1.2" fill="#8aa2ec" fill-opacity="0.43"/><rect x="252.5" y="172.9" width="7.4" height="1.2" fill="#8aa2ec" fill-opacity="0.36"/><rect x="250.0" y="174.5" width="7.4" height="1.2" fill="#8aa2ec" fill-opacity="0.62"/><rect x="294.5" y="173.0" width="2.5" height="1.2" fill="#8aa2ec" fill-opacity="0.62"/><rect x="269.8" y="175.2" width="4.9" height="1.2" fill="#8aa2ec" fill-opacity="0.39"/><rect x="292.0" y="180.2" width="2.5" height="1.2" fill="#8aa2ec" fill-opacity="0.33"/><rect x="297.0" y="173.5" width="7.4" height="1.2" fill="#8aa2ec" fill-opacity="0.68"/><rect x="284.6" y="180.3" width="4.9" height="1.2" fill="#8aa2ec" fill-opacity="0.52"/><rect x="282.2" y="177.9" width="2.5" height="1.2" fill="#8aa2ec" fill-opacity="0.57"/><rect x="306.9" y="174.7" width="7.4" height="1.2" fill="#8aa2ec" fill-opacity="0.39"/><rect x="257.4" y="170.5" width="4.9" height="1.2" fill="#8aa2ec" fill-opacity="0.58"/><rect x="297.0" y="173.6" width="4.9" height="1.2" fill="#8aa2ec" fill-opacity="0.62"/><rect x="230.3" y="173.8" width="2.5" height="1.2" fill="#8aa2ec" fill-opacity="0.62"/><rect x="297.0" y="177.6" width="4.9" height="1.2" fill="#8aa2ec" fill-opacity="0.55"/><rect x="240.2" y="180.9" width="7.4" height="1.2" fill="#8aa2ec" fill-opacity="0.59"/><rect x="257.4" y="171.0" width="7.4" height="1.2" fill="#8aa2ec" fill-opacity="0.59"/><rect x="267.3" y="173.9" width="7.4" height="1.2" fill="#8aa2ec" fill-opacity="0.52"/><rect x="279.7" y="180.5" width="4.9" height="1.2" fill="#8aa2ec" fill-opacity="0.43"/><rect x="262.4" y="169.2" width="4.9" height="1.2" fill="#8aa2ec" fill-opacity="0.47"/><rect x="255.0" y="180.2" width="4.9" height="1.2" fill="#8aa2ec" fill-opacity="0.67"/><rect x="274.7" y="180.9" width="2.5" height="1.2" fill="#8aa2ec" fill-opacity="0.38"/><rect x="297.0" y="171.1" width="7.4" height="1.2" fill="#8aa2ec" fill-opacity="0.46"/><rect x="255.0" y="179.3" width="2.5" height="1.2" fill="#8aa2ec" fill-opacity="0.63"/><rect x="274.7" y="175.4" width="2.5" height="1.2" fill="#8aa2ec" fill-opacity="0.40"/><rect x="272.3" y="175.7" width="4.9" height="1.2" fill="#8aa2ec" fill-opacity="0.34"/><rect x="309.3" y="172.5" width="7.4" height="1.2" fill="#8aa2ec" fill-opacity="0.48"/><rect x="252.5" y="169.2" width="2.5" height="1.2" fill="#8aa2ec" fill-opacity="0.38"/><rect x="279.7" y="180.2" width="4.9" height="1.2" fill="#8aa2ec" fill-opacity="0.66"/><rect x="242.6" y="174.6" width="4.9" height="1.2" fill="#8aa2ec" fill-opacity="0.57"/><rect x="255.0" y="173.2" width="7.4" height="1.2" fill="#8aa2ec" fill-opacity="0.62"/><rect x="272.3" y="176.2" width="4.9" height="1.2" fill="#8aa2ec" fill-opacity="0.59"/><rect x="274.7" y="177.4" width="4.9" height="1.2" fill="#8aa2ec" fill-opacity="0.58"/><rect x="262.4" y="169.7" width="2.5" height="1.2" fill="#8aa2ec" fill-opacity="0.36"/><rect x="252.5" y="171.6" width="2.5" height="1.2" fill="#8aa2ec" fill-opacity="0.32"/><rect x="309.3" y="176.3" width="2.5" height="1.2" fill="#8aa2ec" fill-opacity="0.65"/><rect x="292.0" y="173.5" width="4.9" height="1.2" fill="#8aa2ec" fill-opacity="0.47"/><rect x="250.0" y="178.5" width="7.4" height="1.2" fill="#8aa2ec" fill-opacity="0.68"/><rect x="247.6" y="177.5" width="4.9" height="1.2" fill="#8aa2ec" fill-opacity="0.44"/><rect x="227.8" y="171.9" width="7.4" height="1.2" fill="#8aa2ec" fill-opacity="0.65"/><rect x="235.2" y="177.8" width="4.9" height="1.2" fill="#8aa2ec" fill-opacity="0.51"/><rect x="289.6" y="175.0" width="2.5" height="1.2" fill="#8aa2ec" fill-opacity="0.32"/><rect x="247.6" y="175.5" width="2.5" height="1.2" fill="#8aa2ec" fill-opacity="0.49"/><rect x="230.3" y="169.4" width="7.4" height="1.2" fill="#8aa2ec" fill-opacity="0.52"/><rect x="257.4" y="176.3" width="4.9" height="1.2" fill="#8aa2ec" fill-opacity="0.59"/><rect x="284.6" y="175.8" width="4.9" height="1.2" fill="#8aa2ec" fill-opacity="0.50"/><rect x="277.2" y="172.1" width="4.9" height="1.2" fill="#8aa2ec" fill-opacity="0.52"/><rect x="255.0" y="171.5" width="7.4" height="1.2" fill="#8aa2ec" fill-opacity="0.70"/><rect x="269.8" y="180.5" width="7.4" height="1.2" fill="#8aa2ec" fill-opacity="0.42"/><rect x="309.3" y="172.3" width="4.9" height="1.2" fill="#8aa2ec" fill-opacity="0.32"/>
<g filter="url(#bl)"><rect x="306.9" y="125.7" width="2.5" height="1.1" fill="#ee8a6c"/><rect x="306.9" y="132.3" width="2.5" height="1.1" fill="#7894e8"/><rect x="282.2" y="124.4" width="2.5" height="1.1" fill="#a9c2f7"/><rect x="235.2" y="174.0" width="2.5" height="0.9" fill="#8aa6f0"/><rect x="277.2" y="102.8" width="2.5" height="0.9" fill="#a9c2f7"/><rect x="301.9" y="174.8" width="2.5" height="1.1" fill="#a9c2f7"/><rect x="282.2" y="56.5" width="2.5" height="0.9" fill="#8aa6f0"/><rect x="257.4" y="110.8" width="4.9" height="1.3" fill="#8aa6f0"/><rect x="232.7" y="133.5" width="4.9" height="1.1" fill="#8aa6f0"/><rect x="274.7" y="137.7" width="2.5" height="1.1" fill="#8aa6f0"/><rect x="301.9" y="60.2" width="2.5" height="0.9" fill="#c8d6f6"/><rect x="250.0" y="66.0" width="2.5" height="0.9" fill="#c8d6f6"/><rect x="426.3" y="96.4" width="2.4" height="1.3" fill="#ee8a6c"/><rect x="406.7" y="94.9" width="4.9" height="0.9" fill="#7894e8"/><rect x="453.2" y="126.7" width="2.4" height="1.3" fill="#8aa6f0"/><rect x="374.8" y="88.0" width="4.9" height="1.3" fill="#8aa6f0"/><rect x="416.5" y="146.0" width="4.9" height="1.3" fill="#8aa6f0"/><rect x="401.8" y="150.5" width="2.4" height="1.1" fill="#8aa6f0"/><rect x="443.4" y="115.2" width="2.4" height="1.3" fill="#c8d6f6"/><rect x="377.3" y="154.4" width="2.4" height="1.1" fill="#c8d6f6"/><rect x="323.4" y="79.9" width="4.9" height="0.9" fill="#8aa6f0"/><rect x="384.6" y="133.4" width="4.9" height="1.1" fill="#a9c2f7"/><rect x="360.1" y="103.6" width="4.9" height="1.3" fill="#a9c2f7"/><rect x="401.8" y="123.1" width="2.4" height="1.1" fill="#a9c2f7"/><rect x="360.1" y="163.9" width="2.4" height="1.3" fill="#7894e8"/><rect x="396.9" y="103.7" width="2.4" height="1.3" fill="#8aa6f0"/><rect x="384.6" y="69.6" width="4.9" height="0.9" fill="#7894e8"/><rect x="394.4" y="86.7" width="4.9" height="1.3" fill="#8aa6f0"/><rect x="396.9" y="171.7" width="4.9" height="1.1" fill="#f4b49a"/><rect x="404.2" y="111.0" width="2.4" height="1.3" fill="#7894e8"/><rect x="323.4" y="73.0" width="2.4" height="0.9" fill="#7894e8"/><rect x="394.4" y="101.1" width="2.4" height="1.3" fill="#8aa6f0"/><rect x="330.7" y="126.7" width="2.4" height="0.9" fill="#7894e8"/><rect x="477.7" y="91.5" width="2.4" height="1.1" fill="#a9c2f7"/><rect x="316.0" y="62.3" width="2.4" height="1.1" fill="#a9c2f7"/><rect x="387.1" y="116.8" width="2.4" height="1.1" fill="#a9c2f7"/><rect x="382.2" y="85.2" width="2.4" height="1.3" fill="#8aa6f0"/><rect x="418.9" y="154.2" width="2.4" height="1.3" fill="#c8d6f6"/><rect x="379.7" y="183.2" width="2.4" height="1.1" fill="#a9c2f7"/><rect x="365.0" y="84.9" width="2.4" height="1.3" fill="#8aa6f0"/><rect x="443.4" y="129.5" width="2.4" height="1.1" fill="#8aa6f0"/><rect x="406.7" y="120.7" width="2.4" height="0.9" fill="#8aa6f0"/><rect x="470.4" y="125.1" width="2.4" height="1.3" fill="#a9c2f7"/><rect x="441.0" y="53.9" width="2.4" height="1.1" fill="#c8d6f6"/><rect x="438.5" y="171.0" width="2.4" height="1.1" fill="#f4b49a"/><rect x="411.6" y="159.1" width="2.4" height="0.9" fill="#7894e8"/><rect x="436.1" y="107.3" width="2.4" height="0.9" fill="#7894e8"/><rect x="367.5" y="161.3" width="2.4" height="1.3" fill="#7894e8"/><rect x="487.5" y="177.7" width="2.4" height="0.9" fill="#7894e8"/><rect x="480.2" y="58.6" width="2.4" height="1.3" fill="#a9c2f7"/><rect x="467.9" y="139.6" width="4.9" height="1.3" fill="#a9c2f7"/><rect x="492.4" y="182.3" width="2.4" height="1.1" fill="#a9c2f7"/><rect x="406.7" y="119.1" width="2.4" height="1.3" fill="#7894e8"/><rect x="487.5" y="158.0" width="2.4" height="1.1" fill="#8aa6f0"/><rect x="467.9" y="146.9" width="2.4" height="0.9" fill="#c8d6f6"/><rect x="360.1" y="125.9" width="2.4" height="1.1" fill="#7894e8"/><rect x="431.2" y="176.9" width="2.4" height="1.1" fill="#8aa6f0"/><rect x="499.8" y="107.4" width="2.4" height="0.9" fill="#8aa6f0"/><rect x="414.0" y="163.6" width="2.4" height="1.1" fill="#c8d6f6"/><rect x="392.0" y="93.8" width="2.4" height="1.1" fill="#a9c2f7"/><rect x="325.8" y="155.6" width="2.4" height="1.3" fill="#f4b49a"/><rect x="316.0" y="155.8" width="4.9" height="0.9" fill="#8aa6f0"/><rect x="416.5" y="83.2" width="2.4" height="0.9" fill="#7894e8"/><rect x="320.9" y="99.1" width="2.4" height="1.3" fill="#8aa6f0"/><rect x="369.9" y="162.6" width="2.4" height="0.9" fill="#8aa6f0"/><rect x="343.0" y="96.2" width="4.9" height="1.3" fill="#8aa6f0"/><rect x="399.3" y="159.7" width="4.9" height="1.1" fill="#8aa6f0"/><rect x="357.7" y="126.2" width="2.4" height="1.1" fill="#8aa6f0"/><rect x="450.8" y="95.7" width="2.4" height="1.3" fill="#7894e8"/><rect x="399.3" y="146.2" width="4.9" height="1.3" fill="#c8d6f6"/><rect x="490.0" y="85.4" width="2.4" height="1.1" fill="#8aa6f0"/><rect x="357.7" y="57.7" width="4.9" height="1.3" fill="#a9c2f7"/><rect x="374.8" y="82.8" width="2.4" height="1.3" fill="#8aa6f0"/><rect x="428.7" y="126.6" width="2.4" height="0.9" fill="#a9c2f7"/><rect x="441.0" y="79.6" width="2.4" height="0.9" fill="#c8d6f6"/><rect x="504.7" y="137.0" width="4.9" height="1.3" fill="#8aa6f0"/><rect x="458.1" y="178.7" width="2.4" height="0.9" fill="#ee8a6c"/><rect x="365.0" y="64.3" width="2.4" height="1.1" fill="#c8d6f6"/><rect x="492.4" y="155.7" width="2.4" height="0.9" fill="#a9c2f7"/><rect x="369.9" y="179.8" width="2.4" height="1.1" fill="#8aa6f0"/><rect x="465.5" y="133.2" width="2.4" height="1.1" fill="#8aa6f0"/><rect x="333.2" y="105.8" width="4.9" height="1.1" fill="#8aa6f0"/><rect x="328.3" y="156.2" width="2.4" height="1.3" fill="#c8d6f6"/><rect x="438.5" y="71.6" width="2.4" height="1.3" fill="#c8d6f6"/><rect x="431.2" y="162.2" width="2.4" height="1.3" fill="#c8d6f6"/><rect x="431.2" y="84.9" width="4.9" height="1.3" fill="#8aa6f0"/><rect x="345.4" y="146.7" width="2.4" height="1.1" fill="#8aa6f0"/><rect x="369.9" y="174.2" width="4.9" height="1.1" fill="#a9c2f7"/><rect x="470.4" y="75.5" width="2.4" height="1.3" fill="#a9c2f7"/><rect x="499.8" y="128.6" width="4.9" height="1.1" fill="#c8d6f6"/><rect x="467.9" y="159.8" width="2.4" height="0.9" fill="#7894e8"/><rect x="323.4" y="181.0" width="2.4" height="1.3" fill="#8aa6f0"/><rect x="552.8" y="145.5" width="2.5" height="1.3" fill="#f4b49a"/><rect x="592.3" y="158.8" width="2.5" height="1.3" fill="#8aa6f0"/><rect x="624.3" y="70.2" width="2.5" height="1.3" fill="#8aa6f0"/><rect x="607.1" y="140.7" width="2.5" height="1.3" fill="#e4e6ee"/><rect x="597.2" y="164.3" width="2.5" height="1.3" fill="#c8d6f6"/><rect x="612.0" y="129.2" width="2.5" height="0.9" fill="#a9c2f7"/><rect x="572.6" y="141.8" width="2.5" height="1.3" fill="#8aa6f0"/><rect x="616.9" y="70.1" width="2.5" height="1.3" fill="#c8d6f6"/><rect x="545.4" y="150.4" width="2.5" height="1.1" fill="#c8d6f6"/><rect x="540.5" y="167.1" width="4.9" height="1.1" fill="#8aa6f0"/><rect x="538.0" y="55.0" width="2.5" height="1.1" fill="#c8d6f6"/><rect x="587.3" y="116.5" width="2.5" height="1.1" fill="#e4e6ee"/><rect x="646.5" y="166.0" width="2.5" height="1.3" fill="#c8d6f6"/><rect x="577.5" y="109.1" width="4.9" height="1.1" fill="#a9c2f7"/><rect x="641.6" y="91.5" width="2.5" height="1.3" fill="#a9c2f7"/><rect x="530.6" y="63.7" width="2.5" height="0.9" fill="#e4e6ee"/><rect x="629.3" y="89.8" width="2.5" height="0.9" fill="#ee8a6c"/><rect x="636.7" y="135.9" width="2.5" height="0.9" fill="#a9c2f7"/><rect x="639.1" y="81.7" width="2.5" height="1.1" fill="#8aa6f0"/><rect x="557.8" y="140.2" width="2.5" height="1.1" fill="#a9c2f7"/><rect x="570.1" y="107.8" width="2.5" height="1.1" fill="#e4e6ee"/><rect x="636.7" y="175.6" width="4.9" height="1.3" fill="#a9c2f7"/><rect x="528.2" y="112.2" width="2.5" height="0.9" fill="#8aa6f0"/><rect x="621.9" y="94.9" width="2.5" height="1.1" fill="#a9c2f7"/><rect x="602.1" y="147.1" width="4.9" height="1.1" fill="#a9c2f7"/><rect x="626.8" y="182.6" width="2.5" height="1.1" fill="#c8d6f6"/><rect x="545.4" y="83.0" width="4.9" height="0.9" fill="#8aa6f0"/><rect x="636.7" y="92.5" width="2.5" height="0.9" fill="#8aa6f0"/><rect x="592.3" y="180.2" width="2.5" height="0.9" fill="#c8d6f6"/><rect x="562.7" y="120.1" width="2.5" height="1.1" fill="#c8d6f6"/><rect x="523.2" y="151.2" width="2.5" height="1.3" fill="#c8d6f6"/><rect x="545.4" y="178.5" width="2.5" height="1.1" fill="#8aa6f0"/><rect x="567.6" y="74.6" width="4.9" height="1.3" fill="#f4b49a"/><rect x="533.1" y="122.9" width="2.5" height="1.3" fill="#a9c2f7"/><rect x="589.8" y="87.4" width="2.5" height="1.3" fill="#a9c2f7"/><rect x="646.5" y="151.4" width="2.5" height="1.1" fill="#c8d6f6"/><rect x="624.3" y="113.5" width="2.5" height="1.1" fill="#a9c2f7"/><rect x="550.4" y="120.1" width="2.5" height="1.3" fill="#c8d6f6"/><rect x="616.9" y="166.2" width="2.5" height="0.9" fill="#e4e6ee"/><rect x="644.1" y="167.5" width="2.5" height="1.3" fill="#e4e6ee"/><rect x="520.8" y="79.6" width="2.5" height="1.3" fill="#c8d6f6"/><rect x="535.6" y="64.6" width="2.5" height="1.1" fill="#a9c2f7"/><rect x="582.4" y="128.3" width="2.5" height="1.3" fill="#e4e6ee"/><rect x="616.9" y="166.1" width="2.5" height="0.9" fill="#c8d6f6"/><rect x="612.0" y="53.8" width="2.5" height="1.3" fill="#e4e6ee"/><rect x="639.1" y="157.6" width="2.5" height="1.3" fill="#a9c2f7"/><rect x="538.0" y="158.0" width="2.5" height="1.1" fill="#a9c2f7"/><rect x="550.4" y="156.0" width="2.5" height="1.1" fill="#c8d6f6"/><rect x="604.6" y="148.1" width="2.5" height="0.9" fill="#f4b49a"/><rect x="543.0" y="178.5" width="4.9" height="0.9" fill="#a9c2f7"/><rect x="570.1" y="98.8" width="2.5" height="0.9" fill="#c8d6f6"/><rect x="520.8" y="92.8" width="2.5" height="1.1" fill="#e4e6ee"/><rect x="528.2" y="136.2" width="2.5" height="1.1" fill="#a9c2f7"/><rect x="543.0" y="93.7" width="4.9" height="1.1" fill="#a9c2f7"/><rect x="619.4" y="66.6" width="2.5" height="1.1" fill="#8aa6f0"/><rect x="550.4" y="112.2" width="2.5" height="1.1" fill="#a9c2f7"/><rect x="567.6" y="147.7" width="4.9" height="0.9" fill="#a9c2f7"/><rect x="525.7" y="119.3" width="2.5" height="1.3" fill="#c8d6f6"/><rect x="602.1" y="80.8" width="4.9" height="1.1" fill="#8aa6f0"/><rect x="580.0" y="52.0" width="2.5" height="0.9" fill="#c8d6f6"/><rect x="646.5" y="166.4" width="4.9" height="0.9" fill="#c8d6f6"/><rect x="580.0" y="62.4" width="2.5" height="0.9" fill="#8aa6f0"/><rect x="594.7" y="83.0" width="4.9" height="0.9" fill="#a9c2f7"/><rect x="614.5" y="171.0" width="2.5" height="0.9" fill="#8aa6f0"/><rect x="646.5" y="75.8" width="2.5" height="1.1" fill="#f4b49a"/><rect x="614.5" y="61.4" width="4.9" height="0.9" fill="#8aa6f0"/><rect x="616.9" y="138.2" width="2.5" height="1.1" fill="#e4e6ee"/><rect x="646.5" y="171.0" width="2.5" height="0.9" fill="#8aa6f0"/><rect x="555.3" y="169.0" width="2.5" height="1.1" fill="#8aa6f0"/><rect x="639.1" y="126.9" width="2.5" height="1.1" fill="#a9c2f7"/><rect x="580.0" y="167.2" width="4.9" height="0.9" fill="#e4e6ee"/><rect x="624.3" y="54.5" width="2.5" height="1.3" fill="#8aa6f0"/><rect x="572.6" y="171.6" width="2.5" height="1.1" fill="#8aa6f0"/><rect x="602.1" y="113.4" width="4.9" height="0.9" fill="#e4e6ee"/><rect x="538.0" y="56.0" width="2.5" height="1.1" fill="#8aa6f0"/><rect x="523.2" y="87.0" width="2.5" height="0.9" fill="#c8d6f6"/><rect x="518.3" y="151.1" width="2.5" height="1.1" fill="#e4e6ee"/><rect x="550.4" y="149.4" width="2.5" height="0.9" fill="#c8d6f6"/><rect x="624.3" y="131.2" width="2.5" height="0.9" fill="#a9c2f7"/><rect x="565.2" y="95.3" width="2.5" height="0.9" fill="#8aa6f0"/><rect x="616.9" y="129.7" width="2.5" height="1.3" fill="#f4b49a"/><rect x="616.9" y="71.7" width="2.5" height="1.3" fill="#a9c2f7"/><rect x="535.6" y="119.8" width="2.5" height="1.1" fill="#a9c2f7"/><rect x="547.9" y="78.8" width="2.5" height="0.9" fill="#a9c2f7"/><rect x="570.1" y="175.0" width="2.5" height="0.9" fill="#a9c2f7"/><rect x="619.4" y="76.8" width="2.5" height="1.3" fill="#e4e6ee"/><rect x="523.2" y="166.1" width="2.5" height="1.3" fill="#a9c2f7"/><rect x="550.4" y="152.2" width="2.5" height="1.3" fill="#a9c2f7"/><rect x="582.4" y="124.8" width="2.5" height="1.3" fill="#8aa6f0"/><rect x="594.7" y="98.0" width="4.9" height="1.3" fill="#a9c2f7"/><rect x="594.7" y="58.6" width="2.5" height="1.1" fill="#c8d6f6"/><rect x="520.8" y="76.4" width="2.5" height="1.3" fill="#a9c2f7"/><rect x="528.2" y="92.3" width="2.5" height="1.3" fill="#c8d6f6"/><rect x="592.3" y="79.3" width="2.5" height="0.9" fill="#e4e6ee"/><rect x="538.0" y="147.4" width="2.5" height="1.3" fill="#8aa6f0"/><rect x="570.1" y="147.6" width="2.5" height="1.1" fill="#a9c2f7"/><rect x="607.1" y="71.8" width="2.5" height="1.3" fill="#f4b49a"/><rect x="629.3" y="102.9" width="4.9" height="0.9" fill="#a9c2f7"/><rect x="565.2" y="80.3" width="2.5" height="1.1" fill="#a9c2f7"/><rect x="543.0" y="173.6" width="2.5" height="1.3" fill="#a9c2f7"/><rect x="520.8" y="128.0" width="2.5" height="1.3" fill="#8aa6f0"/><rect x="621.9" y="140.7" width="2.5" height="1.3" fill="#e4e6ee"/><rect x="555.3" y="140.8" width="2.5" height="1.1" fill="#e4e6ee"/><rect x="629.3" y="163.5" width="2.5" height="1.1" fill="#8aa6f0"/><rect x="631.7" y="126.3" width="2.5" height="1.3" fill="#c8d6f6"/><rect x="525.7" y="162.2" width="2.5" height="1.1" fill="#a9c2f7"/><rect x="589.8" y="112.9" width="2.5" height="1.1" fill="#a9c2f7"/><rect x="602.1" y="162.1" width="2.5" height="1.3" fill="#a9c2f7"/><rect x="547.9" y="134.3" width="2.5" height="0.9" fill="#a9c2f7"/><rect x="626.8" y="178.6" width="4.9" height="1.3" fill="#8aa6f0"/><rect x="614.5" y="81.1" width="2.5" height="1.1" fill="#8aa6f0"/><rect x="604.6" y="153.0" width="2.5" height="1.3" fill="#a9c2f7"/><rect x="619.4" y="86.4" width="4.9" height="1.3" fill="#ee8a6c"/><rect x="587.3" y="132.4" width="4.9" height="1.1" fill="#c8d6f6"/><rect x="602.1" y="179.4" width="2.5" height="1.1" fill="#e4e6ee"/><rect x="570.1" y="62.0" width="4.9" height="0.9" fill="#a9c2f7"/><rect x="557.8" y="177.3" width="2.5" height="1.3" fill="#c8d6f6"/><rect x="636.7" y="171.4" width="4.9" height="1.1" fill="#a9c2f7"/><rect x="577.5" y="98.1" width="2.5" height="1.3" fill="#a9c2f7"/><rect x="634.2" y="80.5" width="4.9" height="1.1" fill="#e4e6ee"/><rect x="626.8" y="105.3" width="4.9" height="0.9" fill="#c8d6f6"/><rect x="636.7" y="111.8" width="2.5" height="1.1" fill="#c8d6f6"/><rect x="555.3" y="155.0" width="2.5" height="1.1" fill="#a9c2f7"/><rect x="626.8" y="92.5" width="2.5" height="1.3" fill="#8aa6f0"/><rect x="525.7" y="128.8" width="2.5" height="1.1" fill="#c8d6f6"/><rect x="616.9" y="55.8" width="2.5" height="1.1" fill="#8aa6f0"/><rect x="612.0" y="142.8" width="2.5" height="1.3" fill="#a9c2f7"/><rect x="644.1" y="125.1" width="2.5" height="1.1" fill="#8aa6f0"/><rect x="547.9" y="138.3" width="2.5" height="0.9" fill="#ee8a6c"/><rect x="629.3" y="100.8" width="2.5" height="1.1" fill="#8aa6f0"/></g>
<g filter="url(#bl)">
<rect x="272.8" y="50.7" width="2.8" height="1.8" fill="#ee8a6c"/>
<rect x="272.8" y="55.3" width="2.8" height="1.5" fill="#c83a36"/>
<rect x="272.8" y="56.8" width="2.8" height="1.5" fill="#e4e6ee"/>
<rect x="272.8" y="58.3" width="2.8" height="1.5" fill="#c83a36"/>
<rect x="272.8" y="59.8" width="2.8" height="1.8" fill="#f4b49a"/>
<rect x="272.8" y="62.5" width="2.8" height="3.7" fill="#a9c2f7"/>
<rect x="272.8" y="68.0" width="2.8" height="2.7" fill="#e4e6ee"/>
<rect x="272.8" y="75.3" width="2.8" height="1.3" fill="#c83a36"/>
<rect x="272.8" y="76.6" width="2.8" height="1.4" fill="#ee8a6c"/>
<rect x="272.8" y="78.9" width="2.8" height="1.8" fill="#a9c2f7"/>
<rect x="276.0" y="55.3" width="4.5" height="3.2" fill="#e4e6ee"/>
<rect x="276.0" y="58.5" width="4.5" height="3.1" fill="#a9c2f7"/>
<rect x="284.2" y="66.2" width="2.7" height="2.2" fill="#a9c2f7"/>
<rect x="286.9" y="70.7" width="2.7" height="2.8" fill="#e4e6ee"/>
<rect x="286.9" y="73.5" width="2.7" height="3.6" fill="#a9c2f7"/>
<rect x="284.2" y="77.1" width="5.4" height="1.8" fill="#c83a36"/>
<rect x="284.2" y="78.9" width="2.7" height="4.6" fill="#a9c2f7"/>
<rect x="284.2" y="83.5" width="2.7" height="0.9" fill="#ee8a6c"/>
<rect x="287.8" y="59.3" width="3.3" height="1.4" fill="#a9c2f7"/>
<rect x="289.6" y="50.7" width="4.6" height="2.8" fill="#e4e6ee"/>
<rect x="306.0" y="63.5" width="4.5" height="0.9" fill="#a9c2f7"/>
<rect x="227.8" y="65.3" width="5.5" height="0.9" fill="#8aa6f0"/>
<rect x="227.8" y="68.9" width="5.5" height="0.6" fill="#8aa6f0"/>
<rect x="227.8" y="71.6" width="5.5" height="0.9" fill="#8aa6f0"/>
<rect x="227.8" y="94.9" width="5.5" height="4.9" fill="#a9c2f7"/>
<rect x="238.7" y="85.3" width="2.8" height="4.5" fill="#8aa6f0"/>
<rect x="238.7" y="90.7" width="5.5" height="2.8" fill="#a9c2f7"/>
<rect x="289.6" y="101.6" width="5.5" height="3.4" fill="#e4e6ee"/>
<rect x="289.6" y="105.0" width="5.5" height="3.0" fill="#a9c2f7"/>
<rect x="267.8" y="70.7" width="5.5" height="0.6" fill="#8aa6f0"/>
<rect x="267.2" y="123.4" width="5.8" height="1.9" fill="#e4e6ee"/>
<rect x="273.0" y="123.4" width="2.6" height="1.9" fill="#ee8a6c"/>
<rect x="267.2" y="125.3" width="5.3" height="1.9" fill="#a9c2f7"/>
<rect x="281.2" y="129.6" width="2.8" height="1.3" fill="#f4b49a"/>
<rect x="276.1" y="132.2" width="4.5" height="2.4" fill="#a9c2f7"/>
<rect x="259.3" y="136.9" width="2.3" height="0.9" fill="#f4b49a"/>
<rect x="295.2" y="138.8" width="3.8" height="1.5" fill="#e4e6ee"/>
<rect x="295.2" y="143.0" width="5.6" height="3.8" fill="#a9c2f7"/>
<rect x="289.6" y="144.6" width="2.8" height="0.8" fill="#a9c2f7"/>
<rect x="300.8" y="149.2" width="5.7" height="1.0" fill="#c83a36"/>
<rect x="300.8" y="150.5" width="2.8" height="3.8" fill="#a9c2f7"/>
<rect x="306.5" y="158.0" width="5.3" height="3.8" fill="#a9c2f7"/>
<rect x="306.5" y="163.3" width="2.8" height="1.1" fill="#ee8a6c"/>
<rect x="233.5" y="166.0" width="5.6" height="1.8" fill="#a9c2f7"/>
<rect x="264.4" y="182.7" width="2.8" height="1.2" fill="#ee8a6c"/>
<rect x="315.6" y="53.5" width="5.5" height="6.3" fill="#8aa6f0"/>
<rect x="321.0" y="59.8" width="2.8" height="2.7" fill="#a9c2f7"/>
<rect x="380.2" y="51.6" width="4.5" height="7.3" fill="#8aa6f0"/>
<rect x="392.0" y="76.2" width="2.7" height="1.3" fill="#e4e6ee"/>
<rect x="392.0" y="79.3" width="5.5" height="1.4" fill="#ee8a6c"/>
<rect x="397.5" y="81.6" width="5.5" height="1.9" fill="#a9c2f7"/>
<rect x="364.7" y="82.0" width="1.8" height="0.7" fill="#e4e6ee"/>
<rect x="372.0" y="84.4" width="8.2" height="2.1" fill="#e4e6ee"/>
<rect x="374.7" y="81.7" width="5.5" height="0.7" fill="#a9c2f7"/>
<rect x="365.6" y="102.0" width="6.4" height="1.0" fill="#ee8a6c"/>
<rect x="366.5" y="103.0" width="3.5" height="1.7" fill="#a9c2f7"/>
<rect x="402.9" y="98.9" width="3.6" height="0.9" fill="#e4e6ee"/>
<rect x="360.2" y="110.7" width="4.5" height="2.8" fill="#a9c2f7"/>
<rect x="374.7" y="111.6" width="5.5" height="1.3" fill="#a9c2f7"/>
<rect x="384.7" y="114.4" width="5.5" height="2.7" fill="#a9c2f7"/>
<rect x="428.2" y="94.4" width="4.5" height="1.2" fill="#e4e6ee"/>
<rect x="443.6" y="101.1" width="4.6" height="0.9" fill="#f4b49a"/>
<rect x="469.0" y="96.7" width="4.6" height="2.2" fill="#e4e6ee"/>
<rect x="473.6" y="91.3" width="5.1" height="2.2" fill="#a9c2f7"/>
<rect x="465.5" y="84.0" width="3.5" height="1.0" fill="#8aa6f0"/>
<rect x="459.0" y="84.0" width="5.5" height="1.0" fill="#8aa6f0"/>
<rect x="497.3" y="105.3" width="4.5" height="0.9" fill="#ee8a6c"/>
<rect x="497.3" y="106.2" width="4.5" height="0.9" fill="#a9c2f7"/>
<rect x="412.7" y="108.9" width="5.5" height="1.3" fill="#e4e6ee"/>
<rect x="412.7" y="107.0" width="2.8" height="1.5" fill="#a9c2f7"/>
<rect x="512.7" y="88.0" width="4.1" height="2.7" fill="#a9c2f7"/>
<rect x="491.8" y="110.7" width="4.6" height="1.3" fill="#8aa6f0"/>
<rect x="501.8" y="110.7" width="4.6" height="2.4" fill="#8aa6f0"/>
<rect x="433.6" y="110.7" width="5.4" height="0.9" fill="#f4b49a"/>
<rect x="433.6" y="116.7" width="2.8" height="1.3" fill="#a9c2f7"/>
<rect x="384.9" y="115.0" width="4.7" height="2.2" fill="#e4e6ee"/>
<rect x="339.1" y="145.8" width="4.7" height="3.8" fill="#e4e6ee"/>
<rect x="339.1" y="137.0" width="2.8" height="0.8" fill="#a9c2f7"/>
<rect x="339.1" y="142.1" width="2.8" height="0.9" fill="#a9c2f7"/>
<rect x="349.4" y="154.3" width="2.8" height="2.7" fill="#a9c2f7"/>
<rect x="408.3" y="180.8" width="3.7" height="1.9" fill="#a9c2f7"/>
<rect x="371.8" y="138.4" width="3.8" height="1.8" fill="#8aa6f0"/>
<rect x="346.6" y="175.2" width="1.8" height="1.5" fill="#a9c2f7"/>
<rect x="433.4" y="116.9" width="2.8" height="1.4" fill="#a9c2f7"/>
<rect x="433.4" y="118.3" width="2.8" height="1.4" fill="#ee8a6c"/>
<rect x="464.3" y="122.5" width="4.6" height="2.8" fill="#e4e6ee"/>
<rect x="483.9" y="120.2" width="2.8" height="1.9" fill="#a9c2f7"/>
<rect x="454.0" y="129.0" width="14.9" height="1.0" fill="#e4e6ee"/>
<rect x="459.0" y="130.0" width="5.3" height="3.7" fill="#a9c2f7"/>
<rect x="497.0" y="124.7" width="12.2" height="1.0" fill="#a9c2f7"/>
<rect x="501.7" y="125.3" width="4.7" height="3.2" fill="#f4b49a"/>
<rect x="501.7" y="131.5" width="4.7" height="1.8" fill="#a9c2f7"/>
<rect x="423.1" y="133.7" width="4.7" height="3.8" fill="#e4e6ee"/>
<rect x="454.0" y="137.1" width="4.6" height="4.1" fill="#e4e6ee"/>
<rect x="417.9" y="142.1" width="5.2" height="2.8" fill="#e4e6ee"/>
<rect x="469.5" y="137.1" width="4.1" height="0.7" fill="#8aa6f0"/>
<rect x="491.9" y="149.6" width="5.1" height="4.7" fill="#e4e6ee"/>
<rect x="506.9" y="159.0" width="5.1" height="4.6" fill="#a9c2f7"/>
<rect x="440.9" y="165.5" width="2.8" height="1.5" fill="#ee8a6c"/>
<rect x="483.9" y="168.0" width="8.0" height="2.2" fill="#a9c2f7"/>
<rect x="487.9" y="168.0" width="2.1" height="1.0" fill="#ee8a6c"/>
<rect x="479.2" y="173.9" width="4.7" height="1.3" fill="#a9c2f7"/>
<rect x="438.0" y="172.0" width="2.9" height="1.4" fill="#a9c2f7"/>
<rect x="410.0" y="180.9" width="2.8" height="1.8" fill="#a9c2f7"/>
<rect x="449.3" y="182.0" width="4.7" height="2.6" fill="#a9c2f7"/>
<rect x="551.1" y="73.8" width="3.1" height="3.3" fill="#c83a36"/>
<rect x="551.1" y="77.1" width="3.1" height="2.7" fill="#ee8a6c"/>
<rect x="551.1" y="79.8" width="3.1" height="3.7" fill="#c83a36"/>
<rect x="554.2" y="73.8" width="15.4" height="1.5" fill="#e4e6ee"/>
<rect x="562.4" y="75.3" width="7.2" height="1.8" fill="#e4e6ee"/>
<rect x="572.4" y="84.4" width="6.3" height="3.1" fill="#ee8a6c"/>
<rect x="572.4" y="87.5" width="6.3" height="3.2" fill="#c83a36"/>
<rect x="572.4" y="90.7" width="6.3" height="1.8" fill="#ee8a6c"/>
<rect x="572.4" y="92.5" width="6.3" height="4.6" fill="#f4b49a"/>
<rect x="578.7" y="90.7" width="7.3" height="1.8" fill="#f4b49a"/>
<rect x="556.9" y="59.8" width="13.6" height="2.4" fill="#e4e6ee"/>
<rect x="565.0" y="59.8" width="3.0" height="1.2" fill="#ee8a6c"/>
<rect x="556.0" y="50.7" width="3.6" height="2.8" fill="#a9c2f7"/>
<rect x="577.8" y="50.7" width="6.4" height="2.4" fill="#e4e6ee"/>
<rect x="572.4" y="54.4" width="3.6" height="2.3" fill="#f4b49a"/>
<rect x="543.3" y="54.4" width="2.7" height="1.8" fill="#a9c2f7"/>
<rect x="546.0" y="56.7" width="4.5" height="0.9" fill="#a9c2f7"/>
<rect x="551.5" y="65.3" width="3.6" height="1.8" fill="#e4e6ee"/>
<rect x="534.2" y="60.4" width="2.7" height="1.2" fill="#ee8a6c"/>
<rect x="528.7" y="70.7" width="5.5" height="0.9" fill="#a9c2f7"/>
<rect x="541.5" y="74.4" width="4.5" height="0.9" fill="#a9c2f7"/>
<rect x="528.7" y="89.8" width="8.2" height="1.8" fill="#f4b49a"/>
<rect x="562.4" y="89.8" width="4.5" height="1.1" fill="#ee8a6c"/>
<rect x="562.4" y="96.7" width="4.5" height="1.3" fill="#a9c2f7"/>
<rect x="551.5" y="100.7" width="4.5" height="1.5" fill="#a9c2f7"/>
<rect x="557.8" y="108.0" width="8.2" height="2.7" fill="#f4b49a"/>
<rect x="528.7" y="109.8" width="4.3" height="1.5" fill="#e4e6ee"/>
<rect x="533.0" y="110.5" width="5.7" height="1.5" fill="#a9c2f7"/>
<rect x="530.0" y="111.5" width="4.0" height="1.5" fill="#f4b49a"/>
<rect x="528.7" y="113.0" width="2.8" height="2.5" fill="#ee8a6c"/>
<rect x="531.5" y="113.0" width="3.5" height="2.5" fill="#e4e6ee"/>
<rect x="535.0" y="113.5" width="3.7" height="2.5" fill="#f4b49a"/>
<rect x="528.7" y="115.5" width="3.3" height="2.5" fill="#e4e6ee"/>
<rect x="532.0" y="116.0" width="4.0" height="2.0" fill="#ee8a6c"/>
<rect x="517.8" y="110.7" width="2.7" height="2.8" fill="#ee8a6c"/>
<rect x="517.8" y="108.0" width="9.1" height="0.9" fill="#a9c2f7"/>
<rect x="551.5" y="85.3" width="3.6" height="1.8" fill="#a9c2f7"/>
<rect x="588.9" y="50.7" width="2.9" height="3.3" fill="#e4e6ee"/>
<rect x="591.8" y="50.7" width="2.9" height="3.3" fill="#f4b49a"/>
<rect x="588.9" y="54.0" width="6.2" height="2.0" fill="#ee8a6c"/>
<rect x="588.9" y="56.0" width="2.6" height="2.5" fill="#f4b49a"/>
<rect x="591.5" y="56.0" width="3.6" height="2.5" fill="#c83a36"/>
<rect x="589.5" y="58.5" width="2.8" height="2.5" fill="#ee8a6c"/>
<rect x="592.3" y="58.5" width="2.8" height="2.5" fill="#e4e6ee"/>
<rect x="589.5" y="61.0" width="5.6" height="2.5" fill="#ee8a6c"/>
<rect x="590.0" y="56.0" width="3.0" height="2.0" fill="#c83a36"/>
<rect x="588.9" y="63.5" width="7.6" height="3.6" fill="#c83a36"/>
<rect x="594.7" y="68.0" width="5.5" height="5.5" fill="#ee8a6c"/>
<rect x="596.0" y="69.0" width="3.0" height="2.5" fill="#c83a36"/>
<rect x="596.5" y="64.4" width="6.4" height="1.8" fill="#a9c2f7"/>
<rect x="604.7" y="63.5" width="6.4" height="1.3" fill="#c83a36"/>
<rect x="604.7" y="64.8" width="6.4" height="1.4" fill="#e4e6ee"/>
<rect x="604.7" y="53.5" width="6.4" height="1.8" fill="#e4e6ee"/>
<rect x="600.2" y="56.2" width="2.7" height="1.8" fill="#a9c2f7"/>
<rect x="589.3" y="72.5" width="2.7" height="2.8" fill="#f4b49a"/>
<rect x="594.7" y="76.7" width="5.5" height="1.3" fill="#ee8a6c"/>
<rect x="582.0" y="91.3" width="7.3" height="2.2" fill="#f4b49a"/>
<rect x="594.7" y="91.3" width="3.7" height="1.8" fill="#f4b49a"/>
<rect x="605.3" y="89.5" width="5.8" height="1.4" fill="#ee8a6c"/>
<rect x="600.2" y="85.3" width="2.7" height="1.8" fill="#e4e6ee"/>
<rect x="605.6" y="96.2" width="5.5" height="2.8" fill="#e4e6ee"/>
<rect x="605.6" y="99.0" width="5.5" height="3.0" fill="#ee8a6c"/>
<rect x="605.6" y="102.0" width="5.5" height="2.5" fill="#e4e6ee"/>
<rect x="605.6" y="104.5" width="5.5" height="2.5" fill="#c83a36"/>
<rect x="605.6" y="107.0" width="5.5" height="3.7" fill="#f4b49a"/>
<rect x="592.9" y="109.8" width="7.3" height="1.5" fill="#e4e6ee"/>
<rect x="632.9" y="95.3" width="4.6" height="2.2" fill="#e4e6ee"/>
<rect x="632.9" y="97.5" width="4.6" height="2.0" fill="#ee8a6c"/>
<rect x="632.9" y="99.5" width="4.6" height="2.1" fill="#e4e6ee"/>
<rect x="638.0" y="91.3" width="3.1" height="2.2" fill="#c83a36"/>
<rect x="638.0" y="93.5" width="3.1" height="2.1" fill="#ee8a6c"/>
<rect x="632.5" y="65.3" width="4.0" height="2.7" fill="#f4b49a"/>
<rect x="637.5" y="65.3" width="3.6" height="2.7" fill="#f4b49a"/>
<rect x="638.4" y="52.5" width="2.7" height="1.9" fill="#ee8a6c"/>
<rect x="627.5" y="65.3" width="2.7" height="1.8" fill="#e4e6ee"/>
<rect x="632.9" y="55.3" width="3.6" height="1.4" fill="#a9c2f7"/>
<rect x="638.0" y="78.9" width="4.0" height="1.5" fill="#a9c2f7"/>
<rect x="638.0" y="108.0" width="4.0" height="1.0" fill="#a9c2f7"/>
<rect x="589.3" y="116.7" width="6.3" height="1.7" fill="#f4b49a"/>
<rect x="529.1" y="115.0" width="5.6" height="3.4" fill="#f4b49a"/>
<rect x="567.5" y="117.8" width="2.8" height="4.3" fill="#e4e6ee"/>
<rect x="567.5" y="117.8" width="2.8" height="1.2" fill="#ee8a6c"/>
<rect x="533.8" y="124.4" width="3.7" height="1.5" fill="#e4e6ee"/>
<rect x="577.8" y="135.6" width="3.7" height="3.7" fill="#f4b49a"/>
<rect x="583.8" y="132.8" width="2.2" height="3.7" fill="#ee8a6c"/>
<rect x="517.9" y="143.1" width="3.7" height="2.8" fill="#f4b49a"/>
<rect x="523.5" y="142.1" width="3.7" height="1.9" fill="#f4b49a"/>
<rect x="534.7" y="139.3" width="2.8" height="1.9" fill="#e4e6ee"/>
<rect x="551.6" y="136.5" width="4.6" height="1.3" fill="#a9c2f7"/>
<rect x="553.4" y="149.1" width="2.8" height="1.5" fill="#e4e6ee"/>
<rect x="545.9" y="153.4" width="3.8" height="2.1" fill="#e4e6ee"/>
<rect x="546.0" y="155.5" width="3.7" height="2.7" fill="#a9c2f7"/>
<rect x="540.3" y="158.2" width="11.3" height="1.5" fill="#c83a36"/>
<rect x="540.3" y="159.7" width="2.7" height="2.8" fill="#e4e6ee"/>
<rect x="543.0" y="160.0" width="2.9" height="2.0" fill="#ee8a6c"/>
<rect x="540.3" y="162.5" width="2.7" height="3.0" fill="#f4b49a"/>
<rect x="543.0" y="163.0" width="2.9" height="2.0" fill="#e4e6ee"/>
<rect x="556.2" y="158.0" width="5.7" height="2.0" fill="#a9c2f7"/>
<rect x="556.2" y="167.4" width="5.7" height="1.9" fill="#a9c2f7"/>
<rect x="546.0" y="170.2" width="4.6" height="1.9" fill="#f4b49a"/>
<rect x="523.5" y="174.9" width="3.7" height="1.5" fill="#e4e6ee"/>
<rect x="556.2" y="175.8" width="3.8" height="1.7" fill="#e4e6ee"/>
<rect x="560.0" y="176.5" width="4.7" height="1.5" fill="#a9c2f7"/>
<rect x="557.0" y="178.0" width="4.0" height="1.6" fill="#e4e6ee"/>
<rect x="550.6" y="181.4" width="5.6" height="3.6" fill="#f4b49a"/>
<rect x="551.6" y="176.4" width="3.7" height="1.9" fill="#e4e6ee"/>
<rect x="589.5" y="116.9" width="5.6" height="1.5" fill="#f4b49a"/>
<rect x="605.4" y="121.6" width="5.6" height="1.8" fill="#f4b49a"/>
<rect x="605.4" y="124.4" width="5.6" height="1.5" fill="#e4e6ee"/>
<rect x="626.9" y="117.8" width="5.6" height="1.3" fill="#ee8a6c"/>
<rect x="626.9" y="121.6" width="5.6" height="1.8" fill="#e4e6ee"/>
<rect x="626.9" y="123.4" width="5.6" height="1.9" fill="#a9c2f7"/>
<rect x="626.9" y="125.3" width="5.6" height="1.9" fill="#c83a36"/>
<rect x="626.9" y="127.2" width="5.6" height="1.8" fill="#e4e6ee"/>
<rect x="622.2" y="128.1" width="2.8" height="4.7" fill="#e4e6ee"/>
<rect x="583.0" y="132.8" width="3.7" height="2.8" fill="#ee8a6c"/>
<rect x="626.9" y="137.5" width="5.6" height="1.5" fill="#e4e6ee"/>
<rect x="632.5" y="133.7" width="3.8" height="2.8" fill="#e4e6ee"/>
<rect x="638.2" y="132.8" width="3.7" height="0.9" fill="#c83a36"/>
<rect x="599.8" y="145.9" width="3.7" height="2.8" fill="#f4b49a"/>
<rect x="610.1" y="149.6" width="4.7" height="2.8" fill="#a9c2f7"/>
<rect x="616.6" y="164.6" width="4.7" height="4.7" fill="#e4e6ee"/>
<rect x="638.2" y="169.3" width="7.4" height="2.7" fill="#c83a36"/>
<rect x="638.2" y="172.0" width="7.4" height="2.5" fill="#ee8a6c"/>
<rect x="638.2" y="174.5" width="3.8" height="3.2" fill="#e4e6ee"/>
<rect x="594.2" y="169.3" width="5.6" height="1.5" fill="#c83a36"/>
<rect x="632.5" y="169.6" width="3.8" height="1.9" fill="#e4e6ee"/>
<rect x="643.8" y="179.6" width="2.8" height="2.4" fill="#ee8a6c"/>
<rect x="643.8" y="182.0" width="2.8" height="2.2" fill="#e4e6ee"/>
<rect x="638.2" y="181.4" width="2.8" height="1.9" fill="#f4b49a"/>
<rect x="591.4" y="174.9" width="6.5" height="1.9" fill="#a9c2f7"/>
<rect x="608.2" y="175.8" width="2.8" height="1.9" fill="#a9c2f7"/>
<rect x="638.2" y="164.6" width="3.3" height="1.4" fill="#e4e6ee"/>
</g>
<rect x="227.8" y="45.0" width="17.20" height="5.1" fill="#008000"/>
<rect x="245" y="45.0" width="22.00" height="5.1" fill="#ffa500"/>
<rect x="267" y="45.0" width="6.00" height="5.1" fill="#008000"/>
<rect x="273" y="45.0" width="2.80" height="5.1" fill="#ffa500"/>
<rect x="275.8" y="45.0" width="5.40" height="5.1" fill="#008000"/>
<rect x="281.2" y="45.0" width="8.40" height="5.1" fill="#ffa500"/>
<rect x="289.6" y="45.0" width="22.20" height="5.1" fill="#008000"/>
<path d="M230.27 45V50.1M232.74 45V50.1M235.21 45V50.1M237.68 45V50.1M240.15 45V50.1M242.62 45V50.1M245.09 45V50.1M247.56 45V50.1M250.04 45V50.1M252.51 45V50.1M254.98 45V50.1M257.45 45V50.1M259.92 45V50.1M262.39 45V50.1M264.86 45V50.1M267.33 45V50.1M269.80 45V50.1M272.27 45V50.1M274.74 45V50.1M277.21 45V50.1M279.68 45V50.1M282.15 45V50.1M284.62 45V50.1M287.09 45V50.1M289.56 45V50.1M292.04 45V50.1M294.51 45V50.1M296.98 45V50.1M299.45 45V50.1M301.92 45V50.1M304.39 45V50.1M306.86 45V50.1M309.33 45V50.1" stroke="#000" stroke-width="0.45" stroke-opacity="0.3"/>
<path d="M229.04 44.00L229.04 33.07L231.51 33.07L231.51 44.00M236.45 44.00L236.45 37.26L238.92 37.26L238.92 44.00M233.98 44.00L233.98 33.49L237.68 33.49L237.68 37.26M243.86 44.00L243.86 35.40L246.33 35.40L246.33 44.00M241.39 44.00L241.39 32.69L245.09 32.69L245.09 35.40M235.83 33.49L235.83 25.82L243.24 25.82L243.24 32.69M253.74 44.00L253.74 36.75L256.21 36.75L256.21 44.00M251.27 44.00L251.27 34.45L254.98 34.45L254.98 36.75M261.15 44.00L261.15 37.81L263.62 37.81L263.62 44.00M258.68 44.00L258.68 35.73L262.39 35.73L262.39 37.81M266.09 44.00L266.09 34.00L268.56 34.00L268.56 44.00M260.54 35.73L260.54 32.84L267.33 32.84L267.33 34.00M253.12 34.45L253.12 28.03L263.93 28.03L263.93 32.84M248.80 44.00L248.80 25.47L258.53 25.47L258.53 28.03M239.54 25.82L239.54 22.42L253.66 22.42L253.66 25.47M230.27 33.07L230.27 20.11L246.60 20.11L246.60 22.42M273.51 44.00L273.51 36.13L275.98 36.13L275.98 44.00M271.04 44.00L271.04 34.47L274.74 34.47L274.74 36.13M278.45 44.00L278.45 35.91L280.92 35.91L280.92 44.00M285.86 44.00L285.86 36.17L288.33 36.17L288.33 44.00M283.39 44.00L283.39 33.85L287.09 33.85L287.09 36.17M279.68 35.91L279.68 30.06L285.24 30.06L285.24 33.85M272.89 34.47L272.89 25.94L282.46 25.94L282.46 30.06M293.27 44.00L293.27 34.03L295.74 34.03L295.74 44.00M290.80 44.00L290.80 32.01L294.51 32.01L294.51 34.03M298.21 44.00L298.21 33.79L300.68 33.79L300.68 44.00M303.15 44.00L303.15 37.84L305.62 37.84L305.62 44.00M308.09 44.00L308.09 32.37L310.56 32.37L310.56 44.00M304.39 37.84L304.39 28.70L309.33 28.70L309.33 32.37M299.45 33.79L299.45 26.75L306.86 26.75L306.86 28.70M292.65 32.01L292.65 22.00L303.15 22.00L303.15 26.75M277.68 25.94L277.68 17.52L297.90 17.52L297.90 22.00M238.44 20.11L238.44 10.20L287.79 10.20L287.79 17.52" fill="none" stroke="#505050" stroke-width="0.5"/>
<rect x="313.6" y="45.0" width="12.50" height="5.1" fill="#ffa500"/>
<rect x="326.1" y="45.0" width="5.60" height="5.1" fill="#008000"/>
<rect x="331.7" y="45.0" width="7.20" height="5.1" fill="#ffa500"/>
<rect x="338.9" y="45.0" width="15.70" height="5.1" fill="#008000"/>
<rect x="354.6" y="45.0" width="4.40" height="5.1" fill="#ffa500"/>
<rect x="359" y="45.0" width="5.60" height="5.1" fill="#008000"/>
<rect x="364.6" y="45.0" width="2.40" height="5.1" fill="#ffa500"/>
<rect x="367" y="45.0" width="4.80" height="5.1" fill="#008000"/>
<rect x="371.8" y="45.0" width="8.10" height="5.1" fill="#ffa500"/>
<rect x="379.9" y="45.0" width="10.10" height="5.1" fill="#008000"/>
<rect x="390" y="45.0" width="2.20" height="5.1" fill="#ffa500"/>
<rect x="392.2" y="45.0" width="46.60" height="5.1" fill="#008000"/>
<rect x="438.8" y="45.0" width="4.30" height="5.1" fill="#ffa500"/>
<rect x="443.1" y="45.0" width="41.30" height="5.1" fill="#008000"/>
<rect x="484.4" y="45.0" width="2.10" height="5.1" fill="#ffa500"/>
<rect x="486.5" y="45.0" width="30.40" height="5.1" fill="#008000"/>
<path d="M316.05 45V50.1M318.50 45V50.1M320.95 45V50.1M323.40 45V50.1M325.85 45V50.1M328.30 45V50.1M330.75 45V50.1M333.20 45V50.1M335.64 45V50.1M338.09 45V50.1M340.54 45V50.1M342.99 45V50.1M345.44 45V50.1M347.89 45V50.1M350.34 45V50.1M352.79 45V50.1M355.24 45V50.1M357.69 45V50.1M360.14 45V50.1M362.59 45V50.1M365.04 45V50.1M367.49 45V50.1M369.94 45V50.1M372.39 45V50.1M374.83 45V50.1M377.28 45V50.1M379.73 45V50.1M382.18 45V50.1M384.63 45V50.1M387.08 45V50.1M389.53 45V50.1M391.98 45V50.1M394.43 45V50.1M396.88 45V50.1M399.33 45V50.1M401.78 45V50.1M404.23 45V50.1M406.68 45V50.1M409.13 45V50.1M411.58 45V50.1M414.03 45V50.1M416.47 45V50.1M418.92 45V50.1M421.37 45V50.1M423.82 45V50.1M426.27 45V50.1M428.72 45V50.1M431.17 45V50.1M433.62 45V50.1M436.07 45V50.1M438.52 45V50.1M440.97 45V50.1M443.42 45V50.1M445.87 45V50.1M448.32 45V50.1M450.77 45V50.1M453.22 45V50.1M455.67 45V50.1M458.11 45V50.1M460.56 45V50.1M463.01 45V50.1M465.46 45V50.1M467.91 45V50.1M470.36 45V50.1M472.81 45V50.1M475.26 45V50.1M477.71 45V50.1M480.16 45V50.1M482.61 45V50.1M485.06 45V50.1M487.51 45V50.1M489.96 45V50.1M492.41 45V50.1M494.86 45V50.1M497.30 45V50.1M499.75 45V50.1M502.20 45V50.1M504.65 45V50.1M507.10 45V50.1M509.55 45V50.1M512.00 45V50.1M514.45 45V50.1" stroke="#000" stroke-width="0.45" stroke-opacity="0.3"/>
<path d="M317.27 44.00L317.27 38.66L319.72 38.66L319.72 44.00M314.82 44.00L314.82 35.49L318.50 35.49L318.50 38.66M324.62 44.00L324.62 39.29L327.07 39.29L327.07 44.00M322.17 44.00L322.17 38.09L325.85 38.09L325.85 39.29M331.97 44.00L331.97 39.04L334.42 39.04L334.42 44.00M329.52 44.00L329.52 37.34L333.20 37.34L333.20 39.04M324.01 38.09L324.01 33.51L331.36 33.51L331.36 37.34M316.66 35.49L316.66 31.62L327.68 31.62L327.68 33.51M336.87 44.00L336.87 39.58L339.32 39.58L339.32 44.00M341.77 44.00L341.77 37.41L344.22 37.41L344.22 44.00M338.09 39.58L338.09 36.60L342.99 36.60L342.99 37.41M349.12 44.00L349.12 39.98L351.57 39.98L351.57 44.00M346.67 44.00L346.67 38.81L350.34 38.81L350.34 39.98M354.02 44.00L354.02 35.10L356.46 35.10L356.46 44.00M348.50 38.81L348.50 31.76L355.24 31.76L355.24 35.10M340.54 36.60L340.54 29.72L351.87 29.72L351.87 31.76M322.17 31.62L322.17 25.96L346.21 25.96L346.21 29.72M358.91 44.00L358.91 38.02L361.36 38.02L361.36 44.00M368.71 44.00L368.71 40.30L371.16 40.30L371.16 44.00M366.26 44.00L366.26 36.54L369.94 36.54L369.94 40.30M363.81 44.00L363.81 35.94L368.10 35.94L368.10 36.54M360.14 38.02L360.14 34.31L365.96 34.31L365.96 35.94M376.06 44.00L376.06 35.71L378.51 35.71L378.51 44.00M373.61 44.00L373.61 34.82L377.28 34.82L377.28 35.71M383.41 44.00L383.41 37.83L385.86 37.83L385.86 44.00M380.96 44.00L380.96 36.51L384.63 36.51L384.63 37.83M393.21 44.00L393.21 39.45L395.65 39.45L395.65 44.00M390.76 44.00L390.76 37.29L394.43 37.29L394.43 39.45M388.31 44.00L388.31 33.80L392.59 33.80L392.59 37.29M382.80 36.51L382.80 32.37L390.45 32.37L390.45 33.80M375.45 34.82L375.45 30.57L386.62 30.57L386.62 32.37M363.05 34.31L363.05 26.60L381.03 26.60L381.03 30.57M400.55 44.00L400.55 38.47L403.00 38.47L403.00 44.00M398.10 44.00L398.10 35.51L401.78 35.51L401.78 38.47M405.45 44.00L405.45 38.78L407.90 38.78L407.90 44.00M412.80 44.00L412.80 38.66L415.25 38.66L415.25 44.00M410.35 44.00L410.35 37.73L414.03 37.73L414.03 38.66M406.68 38.78L406.68 34.04L412.19 34.04L412.19 37.73M399.94 35.51L399.94 30.82L409.43 30.82L409.43 34.04M420.15 44.00L420.15 37.23L422.60 37.23L422.60 44.00M417.70 44.00L417.70 33.62L421.37 33.62L421.37 37.23M425.05 44.00L425.05 38.09L427.50 38.09L427.50 44.00M429.95 44.00L429.95 40.81L432.40 40.81L432.40 44.00M434.85 44.00L434.85 38.72L437.29 38.72L437.29 44.00M431.17 40.81L431.17 34.98L436.07 34.98L436.07 38.72M426.27 38.09L426.27 31.96L433.62 31.96L433.62 34.98M439.74 44.00L439.74 39.23L442.19 39.23L442.19 44.00M444.64 44.00L444.64 38.16L447.09 38.16L447.09 44.00M440.97 39.23L440.97 35.75L445.87 35.75L445.87 38.16M449.54 44.00L449.54 38.04L451.99 38.04L451.99 44.00M456.89 44.00L456.89 39.08L459.34 39.08L459.34 44.00M454.44 44.00L454.44 37.63L458.11 37.63L458.11 39.08M450.77 38.04L450.77 34.25L456.28 34.25L456.28 37.63M443.42 35.75L443.42 30.94L453.52 30.94L453.52 34.25M429.95 31.96L429.95 25.96L448.47 25.96L448.47 30.94M419.54 33.62L419.54 24.57L439.21 24.57L439.21 25.96M404.69 30.82L404.69 22.90L429.37 22.90L429.37 24.57M464.24 44.00L464.24 38.13L466.69 38.13L466.69 44.00M461.79 44.00L461.79 36.43L465.46 36.43L465.46 38.13M469.14 44.00L469.14 37.31L471.59 37.31L471.59 44.00M474.04 44.00L474.04 38.76L476.48 38.76L476.48 44.00M478.93 44.00L478.93 38.04L481.38 38.04L481.38 44.00M475.26 38.76L475.26 36.49L480.16 36.49L480.16 38.04M470.36 37.31L470.36 30.15L477.71 30.15L477.71 36.49M463.63 36.43L463.63 27.93L474.04 27.93L474.04 30.15M483.83 44.00L483.83 37.06L486.28 37.06L486.28 44.00M491.18 44.00L491.18 39.79L493.63 39.79L493.63 44.00M488.73 44.00L488.73 38.17L492.41 38.17L492.41 39.79M498.53 44.00L498.53 39.71L500.98 39.71L500.98 44.00M505.88 44.00L505.88 40.76L508.33 40.76L508.33 44.00M503.43 44.00L503.43 39.64L507.10 39.64L507.10 40.76M499.75 39.71L499.75 36.26L505.27 36.26L505.27 39.64M496.08 44.00L496.08 35.90L502.51 35.90L502.51 36.26M513.23 44.00L513.23 37.28L515.68 37.28L515.68 44.00M510.78 44.00L510.78 33.93L514.45 33.93L514.45 37.28M499.29 35.90L499.29 31.68L512.61 31.68L512.61 33.93M490.57 38.17L490.57 28.66L505.95 28.66L505.95 31.68M485.06 37.06L485.06 26.58L498.26 26.58L498.26 28.66M468.83 27.93L468.83 18.68L491.66 18.68L491.66 26.58M417.03 22.90L417.03 16.90L480.25 16.90L480.25 18.68M372.04 26.60L372.04 15.89L448.64 15.89L448.64 16.90M334.19 25.96L334.19 10.20L410.34 10.20L410.34 15.89" fill="none" stroke="#505050" stroke-width="0.5"/>
<rect x="518.3" y="45.0" width="130.70" height="5.1" fill="#008000"/>
<path d="M520.77 45V50.1M523.23 45V50.1M525.70 45V50.1M528.16 45V50.1M530.63 45V50.1M533.10 45V50.1M535.56 45V50.1M538.03 45V50.1M540.49 45V50.1M542.96 45V50.1M545.43 45V50.1M547.89 45V50.1M550.36 45V50.1M552.82 45V50.1M555.29 45V50.1M557.76 45V50.1M560.22 45V50.1M562.69 45V50.1M565.15 45V50.1M567.62 45V50.1M570.09 45V50.1M572.55 45V50.1M575.02 45V50.1M577.48 45V50.1M579.95 45V50.1M582.42 45V50.1M584.88 45V50.1M587.35 45V50.1M589.82 45V50.1M592.28 45V50.1M594.75 45V50.1M597.21 45V50.1M599.68 45V50.1M602.15 45V50.1M604.61 45V50.1M607.08 45V50.1M609.54 45V50.1M612.01 45V50.1M614.48 45V50.1M616.94 45V50.1M619.41 45V50.1M621.87 45V50.1M624.34 45V50.1M626.81 45V50.1M629.27 45V50.1M631.74 45V50.1M634.20 45V50.1M636.67 45V50.1M639.14 45V50.1M641.60 45V50.1M644.07 45V50.1M646.53 45V50.1" stroke="#000" stroke-width="0.45" stroke-opacity="0.3"/>
<path d="M522.00 44.00L522.00 37.88L524.47 37.88L524.47 44.00M519.53 44.00L519.53 32.32L523.23 32.32L523.23 37.88M526.93 44.00L526.93 37.32L529.40 37.32L529.40 44.00M534.33 44.00L534.33 37.37L536.80 37.37L536.80 44.00M531.86 44.00L531.86 35.92L535.56 35.92L535.56 37.37M528.16 37.32L528.16 34.12L533.71 34.12L533.71 35.92M539.26 44.00L539.26 33.33L541.73 33.33L541.73 44.00M530.94 34.12L530.94 30.74L540.49 30.74L540.49 33.33M521.38 32.32L521.38 27.69L535.72 27.69L535.72 30.74M549.13 44.00L549.13 36.09L551.59 36.09L551.59 44.00M546.66 44.00L546.66 33.91L550.36 33.91L550.36 36.09M544.19 44.00L544.19 32.34L548.51 32.34L548.51 33.91M554.06 44.00L554.06 33.20L556.52 33.20L556.52 44.00M563.92 44.00L563.92 37.31L566.39 37.31L566.39 44.00M561.46 44.00L561.46 35.46L565.15 35.46L565.15 37.31M558.99 44.00L558.99 30.76L563.31 30.76L563.31 35.46M555.29 33.20L555.29 27.87L561.15 27.87L561.15 30.76M546.35 32.34L546.35 22.88L558.22 22.88L558.22 27.87M528.55 27.69L528.55 18.85L552.29 18.85L552.29 22.88M568.85 44.00L568.85 38.53L571.32 38.53L571.32 44.00M576.25 44.00L576.25 37.97L578.72 37.97L578.72 44.00M573.79 44.00L573.79 33.98L577.48 33.98L577.48 37.97M570.09 38.53L570.09 32.01L575.64 32.01L575.64 33.98M581.18 44.00L581.18 35.13L583.65 35.13L583.65 44.00M588.58 44.00L588.58 35.55L591.05 35.55L591.05 44.00M586.12 44.00L586.12 33.77L589.82 33.77L589.82 35.55M582.42 35.13L582.42 30.14L587.97 30.14L587.97 33.77M572.86 32.01L572.86 24.78L585.19 24.78L585.19 30.14M598.45 44.00L598.45 37.37L600.91 37.37L600.91 44.00M595.98 44.00L595.98 36.88L599.68 36.88L599.68 37.37M593.51 44.00L593.51 34.19L597.83 34.19L597.83 36.88M605.84 44.00L605.84 37.51L608.31 37.51L608.31 44.00M603.38 44.00L603.38 34.85L607.08 34.85L607.08 37.51M615.71 44.00L615.71 38.34L618.17 38.34L618.17 44.00M613.24 44.00L613.24 35.02L616.94 35.02L616.94 38.34M610.78 44.00L610.78 34.06L615.09 34.06L615.09 35.02M605.23 34.85L605.23 29.87L612.93 29.87L612.93 34.06M595.67 34.19L595.67 25.57L609.08 25.57L609.08 29.87M620.64 44.00L620.64 31.82L623.11 31.82L623.11 44.00M625.57 44.00L625.57 39.03L628.04 39.03L628.04 44.00M630.50 44.00L630.50 37.15L632.97 37.15L632.97 44.00M626.81 39.03L626.81 31.77L631.74 31.77L631.74 37.15M637.90 44.00L637.90 40.01L640.37 40.01L640.37 44.00M645.30 44.00L645.30 38.22L647.77 38.22L647.77 44.00M642.83 44.00L642.83 36.29L646.53 36.29L646.53 38.22M639.14 40.01L639.14 34.27L644.68 34.27L644.68 36.29M635.44 44.00L635.44 30.91L641.91 30.91L641.91 34.27M629.27 31.77L629.27 28.03L638.67 28.03L638.67 30.91M621.87 31.82L621.87 22.49L633.97 22.49L633.97 28.03M602.38 25.57L602.38 18.82L627.92 18.82L627.92 22.49M579.03 24.78L579.03 13.61L615.15 13.61L615.15 18.82M540.42 18.85L540.42 10.20L597.09 10.20L597.09 13.61" fill="none" stroke="#505050" stroke-width="0.5"/>
<text transform="translate(224.8 150.21) rotate(-90) scale(1.086 1)" font-size="7.00" font-weight="normal" fill="#000">Non-recurrent ESLs</text>
<text transform="translate(405.04 192.77) scale(1.115 1)" font-size="7.40" font-weight="normal" fill="#000">Patient Samples</text>
<defs><linearGradient id="cw" x1="0" y1="1" x2="0" y2="0"><stop offset="0" stop-color="#3b4cc0"/><stop offset="0.125" stop-color="#5a78e4"/><stop offset="0.25" stop-color="#7b9ff9"/><stop offset="0.375" stop-color="#9ebeff"/><stop offset="0.5" stop-color="#dddcdc"/><stop offset="0.625" stop-color="#f7b89c"/><stop offset="0.75" stop-color="#f4987a"/><stop offset="0.875" stop-color="#e36a53"/><stop offset="1" stop-color="#b40426"/></linearGradient></defs>
<rect x="652.0" y="118.5" width="6.1" height="66.5" fill="url(#cw)"/>
<line x1="658.1" y1="131" x2="659.4" y2="131" stroke="#555" stroke-width="0.6"/>
<text transform="translate(660 132.85) scale(1.120 1)" font-size="5.30" font-weight="normal" fill="#000">0.8</text>
<line x1="658.1" y1="145.1" x2="659.4" y2="145.1" stroke="#555" stroke-width="0.6"/>
<text transform="translate(660 146.95) scale(1.120 1)" font-size="5.30" font-weight="normal" fill="#000">0.6</text>
<line x1="658.1" y1="158.2" x2="659.4" y2="158.2" stroke="#555" stroke-width="0.6"/>
<text transform="translate(660 160.05) scale(1.120 1)" font-size="5.30" font-weight="normal" fill="#000">0.4</text>
<line x1="658.1" y1="172.4" x2="659.4" y2="172.4" stroke="#555" stroke-width="0.6"/>
<text transform="translate(660 174.25) scale(1.120 1)" font-size="5.30" font-weight="normal" fill="#000">0.2</text>
<text transform="translate(675.3 167.79) rotate(-90) scale(1.120 1)" font-size="6.60" font-weight="normal">β-value</text>
<rect x="651.3" y="45.2" width="5.4" height="4.8" fill="#ffa500" stroke="#555" stroke-width="0.4"/>
<rect x="651.3" y="53.2" width="5.4" height="4.6" fill="#008000" stroke="#555" stroke-width="0.4"/>
<text transform="translate(657.95 49.98) scale(1.046 1)" font-size="6.86" font-weight="normal" fill="#000">Incorrect</text>
<text transform="translate(658.27 57.68) scale(0.979 1)" font-size="6.69" font-weight="normal" fill="#000">Correct</text>
<text transform="translate(0.98 182.34) scale(1.033 1)" font-size="16.36" font-weight="bold" fill="#000">e</text>
<polyline points="33.1,185.97 95.5,263.75 157.9,193.11" fill="none" stroke="#000" stroke-width="0.9" stroke-linejoin="round"/>
<polyline points="33.1,186.73 95.5,264.17 157.9,194.39" fill="none" stroke="#000" stroke-width="0.9" stroke-linejoin="round"/>
<polyline points="33.1,187.41 95.5,263.32 157.9,195.24" fill="none" stroke="#000" stroke-width="0.9" stroke-linejoin="round"/>
<polyline points="33.1,188.43 95.5,264.6 157.9,196.52" fill="none" stroke="#000" stroke-width="0.9" stroke-linejoin="round"/>
<polyline points="33.1,189.03 95.5,263.75 157.9,197.37" fill="none" stroke="#000" stroke-width="0.9" stroke-linejoin="round"/>
<polyline points="33.1,189.71 95.5,263.92 157.9,198.22" fill="none" stroke="#000" stroke-width="0.9" stroke-linejoin="round"/>
<polyline points="33.1,190.39 95.5,264.43 157.9,198.65" fill="none" stroke="#000" stroke-width="0.9" stroke-linejoin="round"/>
<polyline points="33.1,191.41 95.5,263.75 157.9,199.07" fill="none" stroke="#000" stroke-width="0.9" stroke-linejoin="round"/>
<polyline points="33.1,197.2 95.5,264.17 157.9,199.5" fill="none" stroke="#000" stroke-width="0.9" stroke-linejoin="round"/>
<polyline points="33.1,203.5 95.5,263.32 157.9,200.35" fill="none" stroke="#000" stroke-width="0.9" stroke-linejoin="round"/>
<polyline points="33.1,214.13 95.5,263.75 157.9,200.77" fill="none" stroke="#000" stroke-width="0.9" stroke-linejoin="round"/>
<polyline points="33.1,215.5 95.5,264.6 157.9,201.2" fill="none" stroke="#000" stroke-width="0.9" stroke-linejoin="round"/>
<polyline points="33.1,217.37 95.5,263.92 157.9,201.62" fill="none" stroke="#000" stroke-width="0.9" stroke-linejoin="round"/>
<polyline points="33.1,225.62 95.5,263.58 157.9,202.05" fill="none" stroke="#000" stroke-width="0.9" stroke-linejoin="round"/>
<polyline points="33.1,226.9 95.5,264.17 157.9,202.48" fill="none" stroke="#000" stroke-width="0.9" stroke-linejoin="round"/>
<polyline points="33.1,230.47 95.5,263.75 157.9,199.92" fill="none" stroke="#000" stroke-width="0.9" stroke-linejoin="round"/>
<polyline points="33.1,252.26 95.5,264.6 157.9,198.22" fill="none" stroke="#000" stroke-width="0.9" stroke-linejoin="round"/>
<circle cx="33.1" cy="185.97" r="1.55" fill="#000"/>
<circle cx="95.5" cy="263.75" r="1.55" fill="#000"/>
<circle cx="157.9" cy="193.11" r="1.55" fill="#000"/>
<circle cx="33.1" cy="186.73" r="1.55" fill="#000"/>
<circle cx="95.5" cy="264.17" r="1.55" fill="#000"/>
<circle cx="157.9" cy="194.39" r="1.55" fill="#000"/>
<circle cx="33.1" cy="187.41" r="1.55" fill="#000"/>
<circle cx="95.5" cy="263.32" r="1.55" fill="#000"/>
<circle cx="157.9" cy="195.24" r="1.55" fill="#000"/>
<circle cx="33.1" cy="188.43" r="1.55" fill="#000"/>
<circle cx="95.5" cy="264.6" r="1.55" fill="#000"/>
<circle cx="157.9" cy="196.52" r="1.55" fill="#000"/>
<circle cx="33.1" cy="189.03" r="1.55" fill="#000"/>
<circle cx="95.5" cy="263.75" r="1.55" fill="#000"/>
<circle cx="157.9" cy="197.37" r="1.55" fill="#000"/>
<circle cx="33.1" cy="189.71" r="1.55" fill="#000"/>
<circle cx="95.5" cy="263.92" r="1.55" fill="#000"/>
<circle cx="157.9" cy="198.22" r="1.55" fill="#000"/>
<circle cx="33.1" cy="190.39" r="1.55" fill="#000"/>
<circle cx="95.5" cy="264.43" r="1.55" fill="#000"/>
<circle cx="157.9" cy="198.65" r="1.55" fill="#000"/>
<circle cx="33.1" cy="191.41" r="1.55" fill="#000"/>
<circle cx="95.5" cy="263.75" r="1.55" fill="#000"/>
<circle cx="157.9" cy="199.07" r="1.55" fill="#000"/>
<circle cx="33.1" cy="197.2" r="1.55" fill="#000"/>
<circle cx="95.5" cy="264.17" r="1.55" fill="#000"/>
<circle cx="157.9" cy="199.5" r="1.55" fill="#000"/>
<circle cx="33.1" cy="203.5" r="1.55" fill="#000"/>
<circle cx="95.5" cy="263.32" r="1.55" fill="#000"/>
<circle cx="157.9" cy="200.35" r="1.55" fill="#000"/>
<circle cx="33.1" cy="214.13" r="1.55" fill="#000"/>
<circle cx="95.5" cy="263.75" r="1.55" fill="#000"/>
<circle cx="157.9" cy="200.77" r="1.55" fill="#000"/>
<circle cx="33.1" cy="215.5" r="1.55" fill="#000"/>
<circle cx="95.5" cy="264.6" r="1.55" fill="#000"/>
<circle cx="157.9" cy="201.2" r="1.55" fill="#000"/>
<circle cx="33.1" cy="217.37" r="1.55" fill="#000"/>
<circle cx="95.5" cy="263.92" r="1.55" fill="#000"/>
<circle cx="157.9" cy="201.62" r="1.55" fill="#000"/>
<circle cx="33.1" cy="225.62" r="1.55" fill="#000"/>
<circle cx="95.5" cy="263.58" r="1.55" fill="#000"/>
<circle cx="157.9" cy="202.05" r="1.55" fill="#000"/>
<circle cx="33.1" cy="226.9" r="1.55" fill="#000"/>
<circle cx="95.5" cy="264.17" r="1.55" fill="#000"/>
<circle cx="157.9" cy="202.48" r="1.55" fill="#000"/>
<circle cx="33.1" cy="230.47" r="1.55" fill="#000"/>
<circle cx="95.5" cy="263.75" r="1.55" fill="#000"/>
<circle cx="157.9" cy="199.92" r="1.55" fill="#000"/>
<circle cx="33.1" cy="252.26" r="1.55" fill="#000"/>
<circle cx="95.5" cy="264.6" r="1.55" fill="#000"/>
<circle cx="157.9" cy="198.22" r="1.55" fill="#000"/>
<line x1="20.5" y1="182.55" x2="170.3" y2="182.55" stroke="#8a8a8a" stroke-width="1.0"/>
<line x1="20.5" y1="268.8" x2="170.3" y2="268.8" stroke="#8a8a8a" stroke-width="1.0"/>
<line x1="20.5" y1="182.05" x2="20.5" y2="269.3" stroke="#8a8a8a" stroke-width="1.0"/>
<line x1="170.3" y1="182.05" x2="170.3" y2="269.3" stroke="#8a8a8a" stroke-width="1.0"/>
<line x1="18.9" y1="266.3" x2="20.5" y2="266.3" stroke="#555" stroke-width="0.8"/>
<text transform="translate(8.25 268.37) scale(1.120 1)" font-size="5.90" font-weight="normal" fill="#000">0.0</text>
<line x1="18.9" y1="249.28" x2="20.5" y2="249.28" stroke="#555" stroke-width="0.8"/>
<text transform="translate(8.35 251.34) scale(1.120 1)" font-size="5.90" font-weight="normal" fill="#000">0.2</text>
<line x1="18.9" y1="232.26" x2="20.5" y2="232.26" stroke="#555" stroke-width="0.8"/>
<text transform="translate(8.21 234.33) scale(1.120 1)" font-size="5.90" font-weight="normal" fill="#000">0.4</text>
<line x1="18.9" y1="215.24" x2="20.5" y2="215.24" stroke="#555" stroke-width="0.8"/>
<text transform="translate(8.28 217.31) scale(1.120 1)" font-size="5.90" font-weight="normal" fill="#000">0.6</text>
<line x1="18.9" y1="198.22" x2="20.5" y2="198.22" stroke="#555" stroke-width="0.8"/>
<text transform="translate(8.28 200.29) scale(1.120 1)" font-size="5.90" font-weight="normal" fill="#000">0.8</text>
<line x1="33.1" y1="268.8" x2="33.1" y2="270.4" stroke="#555" stroke-width="0.8"/>
<line x1="95.5" y1="268.8" x2="95.5" y2="270.4" stroke="#555" stroke-width="0.8"/>
<line x1="157.9" y1="268.8" x2="157.9" y2="270.4" stroke="#555" stroke-width="0.8"/>
<text transform="translate(17.35 276.48) scale(1.173 1)" font-size="5.90" font-weight="normal" fill="#000">Diagnosis</text>
<text transform="translate(79.45 276.74) scale(1.099 1)" font-size="6.26" font-weight="normal" fill="#000">Remission</text>
<text transform="translate(145.36 276.48) scale(1.147 1)" font-size="5.90" font-weight="normal" fill="#000">Relapse</text>
<text transform="translate(5.9 237.7) rotate(-90) scale(1.220 1)" font-size="7.20" font-weight="normal">β-value</text>
<polyline points="33.1,332.48 95.5,370.11 157.9,293.28" fill="none" stroke="#000" stroke-width="0.9" stroke-linejoin="round"/>
<polyline points="33.1,347.78 95.5,370.52 157.9,318.67" fill="none" stroke="#000" stroke-width="0.9" stroke-linejoin="round"/>
<polyline points="33.1,353.81 95.5,369.69 157.9,329.91" fill="none" stroke="#000" stroke-width="0.9" stroke-linejoin="round"/>
<polyline points="33.1,355.14 95.5,370.93 157.9,333.8" fill="none" stroke="#000" stroke-width="0.9" stroke-linejoin="round"/>
<polyline points="33.1,356.46 95.5,371.35 157.9,336.12" fill="none" stroke="#000" stroke-width="0.9" stroke-linejoin="round"/>
<polyline points="33.1,357.29 95.5,369.28 157.9,338.27" fill="none" stroke="#000" stroke-width="0.9" stroke-linejoin="round"/>
<polyline points="33.1,360.26 95.5,370.52 157.9,340.75" fill="none" stroke="#000" stroke-width="0.9" stroke-linejoin="round"/>
<polyline points="33.1,362.66 95.5,370.11 157.9,342.65" fill="none" stroke="#000" stroke-width="0.9" stroke-linejoin="round"/>
<polyline points="33.1,364.23 95.5,370.93 157.9,345.21" fill="none" stroke="#000" stroke-width="0.9" stroke-linejoin="round"/>
<polyline points="33.1,365.56 95.5,369.69 157.9,346.54" fill="none" stroke="#000" stroke-width="0.9" stroke-linejoin="round"/>
<polyline points="33.1,366.8 95.5,370.52 157.9,347.78" fill="none" stroke="#000" stroke-width="0.9" stroke-linejoin="round"/>
<polyline points="33.1,368.04 95.5,371.35 157.9,349.02" fill="none" stroke="#000" stroke-width="0.9" stroke-linejoin="round"/>
<polyline points="33.1,368.62 95.5,370.11 157.9,350.42" fill="none" stroke="#000" stroke-width="0.9" stroke-linejoin="round"/>
<polyline points="33.1,369.69 95.5,370.52 157.9,351.91" fill="none" stroke="#000" stroke-width="0.9" stroke-linejoin="round"/>
<polyline points="33.1,370.68 95.5,370.93 157.9,353.32" fill="none" stroke="#000" stroke-width="0.9" stroke-linejoin="round"/>
<polyline points="33.1,370.52 95.5,369.69 157.9,352.32" fill="none" stroke="#000" stroke-width="0.9" stroke-linejoin="round"/>
<polyline points="33.1,371.35 95.5,370.52 157.9,349.84" fill="none" stroke="#000" stroke-width="0.9" stroke-linejoin="round"/>
<polyline points="33.1,368.87 95.5,371.35 157.9,347.36" fill="none" stroke="#000" stroke-width="0.9" stroke-linejoin="round"/>
<circle cx="33.1" cy="332.48" r="1.55" fill="#000"/>
<circle cx="95.5" cy="370.11" r="1.55" fill="#000"/>
<circle cx="157.9" cy="293.28" r="1.55" fill="#000"/>
<circle cx="33.1" cy="347.78" r="1.55" fill="#000"/>
<circle cx="95.5" cy="370.52" r="1.55" fill="#000"/>
<circle cx="157.9" cy="318.67" r="1.55" fill="#000"/>
<circle cx="33.1" cy="353.81" r="1.55" fill="#000"/>
<circle cx="95.5" cy="369.69" r="1.55" fill="#000"/>
<circle cx="157.9" cy="329.91" r="1.55" fill="#000"/>
<circle cx="33.1" cy="355.14" r="1.55" fill="#000"/>
<circle cx="95.5" cy="370.93" r="1.55" fill="#000"/>
<circle cx="157.9" cy="333.8" r="1.55" fill="#000"/>
<circle cx="33.1" cy="356.46" r="1.55" fill="#000"/>
<circle cx="95.5" cy="371.35" r="1.55" fill="#000"/>
<circle cx="157.9" cy="336.12" r="1.55" fill="#000"/>
<circle cx="33.1" cy="357.29" r="1.55" fill="#000"/>
<circle cx="95.5" cy="369.28" r="1.55" fill="#000"/>
<circle cx="157.9" cy="338.27" r="1.55" fill="#000"/>
<circle cx="33.1" cy="360.26" r="1.55" fill="#000"/>
<circle cx="95.5" cy="370.52" r="1.55" fill="#000"/>
<circle cx="157.9" cy="340.75" r="1.55" fill="#000"/>
<circle cx="33.1" cy="362.66" r="1.55" fill="#000"/>
<circle cx="95.5" cy="370.11" r="1.55" fill="#000"/>
<circle cx="157.9" cy="342.65" r="1.55" fill="#000"/>
<circle cx="33.1" cy="364.23" r="1.55" fill="#000"/>
<circle cx="95.5" cy="370.93" r="1.55" fill="#000"/>
<circle cx="157.9" cy="345.21" r="1.55" fill="#000"/>
<circle cx="33.1" cy="365.56" r="1.55" fill="#000"/>
<circle cx="95.5" cy="369.69" r="1.55" fill="#000"/>
<circle cx="157.9" cy="346.54" r="1.55" fill="#000"/>
<circle cx="33.1" cy="366.8" r="1.55" fill="#000"/>
<circle cx="95.5" cy="370.52" r="1.55" fill="#000"/>
<circle cx="157.9" cy="347.78" r="1.55" fill="#000"/>
<circle cx="33.1" cy="368.04" r="1.55" fill="#000"/>
<circle cx="95.5" cy="371.35" r="1.55" fill="#000"/>
<circle cx="157.9" cy="349.02" r="1.55" fill="#000"/>
<circle cx="33.1" cy="368.62" r="1.55" fill="#000"/>
<circle cx="95.5" cy="370.11" r="1.55" fill="#000"/>
<circle cx="157.9" cy="350.42" r="1.55" fill="#000"/>
<circle cx="33.1" cy="369.69" r="1.55" fill="#000"/>
<circle cx="95.5" cy="370.52" r="1.55" fill="#000"/>
<circle cx="157.9" cy="351.91" r="1.55" fill="#000"/>
<circle cx="33.1" cy="370.68" r="1.55" fill="#000"/>
<circle cx="95.5" cy="370.93" r="1.55" fill="#000"/>
<circle cx="157.9" cy="353.32" r="1.55" fill="#000"/>
<circle cx="33.1" cy="370.52" r="1.55" fill="#000"/>
<circle cx="95.5" cy="369.69" r="1.55" fill="#000"/>
<circle cx="157.9" cy="352.32" r="1.55" fill="#000"/>
<circle cx="33.1" cy="371.35" r="1.55" fill="#000"/>
<circle cx="95.5" cy="370.52" r="1.55" fill="#000"/>
<circle cx="157.9" cy="349.84" r="1.55" fill="#000"/>
<circle cx="33.1" cy="368.87" r="1.55" fill="#000"/>
<circle cx="95.5" cy="371.35" r="1.55" fill="#000"/>
<circle cx="157.9" cy="347.36" r="1.55" fill="#000"/>
<line x1="20.5" y1="289.5" x2="170.3" y2="289.5" stroke="#8a8a8a" stroke-width="1.0"/>
<line x1="20.5" y1="375.1" x2="170.3" y2="375.1" stroke="#8a8a8a" stroke-width="1.0"/>
<line x1="20.5" y1="289" x2="20.5" y2="375.6" stroke="#8a8a8a" stroke-width="1.0"/>
<line x1="170.3" y1="289" x2="170.3" y2="375.6" stroke="#8a8a8a" stroke-width="1.0"/>
<line x1="18.9" y1="373" x2="20.5" y2="373" stroke="#555" stroke-width="0.8"/>
<text transform="translate(8.25 375.06) scale(1.120 1)" font-size="5.90" font-weight="normal" fill="#000">0.0</text>
<line x1="18.9" y1="356.46" x2="20.5" y2="356.46" stroke="#555" stroke-width="0.8"/>
<text transform="translate(8.35 358.52) scale(1.120 1)" font-size="5.90" font-weight="normal" fill="#000">0.2</text>
<line x1="18.9" y1="339.92" x2="20.5" y2="339.92" stroke="#555" stroke-width="0.8"/>
<text transform="translate(8.21 341.99) scale(1.120 1)" font-size="5.90" font-weight="normal" fill="#000">0.4</text>
<line x1="18.9" y1="323.38" x2="20.5" y2="323.38" stroke="#555" stroke-width="0.8"/>
<text transform="translate(8.28 325.44) scale(1.120 1)" font-size="5.90" font-weight="normal" fill="#000">0.6</text>
<line x1="18.9" y1="306.84" x2="20.5" y2="306.84" stroke="#555" stroke-width="0.8"/>
<text transform="translate(8.28 308.9) scale(1.120 1)" font-size="5.90" font-weight="normal" fill="#000">0.8</text>
<line x1="18.9" y1="290.3" x2="20.5" y2="290.3" stroke="#555" stroke-width="0.8"/>
<text transform="translate(8.25 292.37) scale(1.120 1)" font-size="5.90" font-weight="normal" fill="#000">1.0</text>
<line x1="33.1" y1="375.1" x2="33.1" y2="376.7" stroke="#555" stroke-width="0.8"/>
<line x1="95.5" y1="375.1" x2="95.5" y2="376.7" stroke="#555" stroke-width="0.8"/>
<line x1="157.9" y1="375.1" x2="157.9" y2="376.7" stroke="#555" stroke-width="0.8"/>
<text transform="translate(17.35 382.78) scale(1.173 1)" font-size="5.90" font-weight="normal" fill="#000">Diagnosis</text>
<text transform="translate(79.45 383.04) scale(1.099 1)" font-size="6.26" font-weight="normal" fill="#000">Remission</text>
<text transform="translate(145.36 382.78) scale(1.147 1)" font-size="5.90" font-weight="normal" fill="#000">Relapse</text>
<text transform="translate(5.9 343.9) rotate(-90) scale(1.220 1)" font-size="7.20" font-weight="normal">β-value</text>
<text transform="translate(176.72 200.55) scale(1.167 1)" font-size="16.07" font-weight="bold" fill="#000">f</text>
<polyline points="204.61,206.98 221.45,250.55 233.66,250.55 300.09,243.72" fill="none" stroke="#111" stroke-width="0.8" stroke-linejoin="round"/>
<circle cx="204.61" cy="206.98" r="2.05" fill="#f00"/>
<circle cx="221.45" cy="250.55" r="2.05" fill="#00f"/>
<circle cx="233.66" cy="250.55" r="2.05" fill="#00f"/>
<circle cx="300.09" cy="243.72" r="2.05" fill="#f00"/>
<line x1="200.1" y1="204.5" x2="305.2" y2="204.5" stroke="#c4c4c4" stroke-width="1.2"/>
<line x1="200.1" y1="252.4" x2="305.2" y2="252.4" stroke="#8c8c8c" stroke-width="1.2"/>
<line x1="200.1" y1="203.9" x2="200.1" y2="253" stroke="#c4c4c4" stroke-width="1.3"/>
<line x1="305.2" y1="203.9" x2="305.2" y2="253" stroke="#c4c4c4" stroke-width="1.3"/>
<line x1="198.5" y1="207.3" x2="200.1" y2="207.3" stroke="#555" stroke-width="0.8"/>
<text transform="translate(185.07 209.23) scale(1.120 1)" font-size="5.50" font-weight="normal" fill="#000">0.15</text>
<line x1="198.5" y1="223.5" x2="200.1" y2="223.5" stroke="#555" stroke-width="0.8"/>
<text transform="translate(185.03 225.43) scale(1.120 1)" font-size="5.50" font-weight="normal" fill="#000">0.10</text>
<line x1="198.5" y1="239.7" x2="200.1" y2="239.7" stroke="#555" stroke-width="0.8"/>
<text transform="translate(185.07 241.63) scale(1.120 1)" font-size="5.50" font-weight="normal" fill="#000">0.05</text>
<line x1="204.3" y1="252.4" x2="204.3" y2="254" stroke="#555" stroke-width="0.8"/>
<text transform="translate(202.59 259) scale(1.120 1)" font-size="5.50" font-weight="normal" fill="#000">0</text>
<line x1="235.2" y1="252.4" x2="235.2" y2="254" stroke="#555" stroke-width="0.8"/>
<text transform="translate(230.06 259) scale(1.120 1)" font-size="5.50" font-weight="normal" fill="#000">200</text>
<line x1="266.1" y1="252.4" x2="266.1" y2="254" stroke="#555" stroke-width="0.8"/>
<text transform="translate(260.96 259) scale(1.120 1)" font-size="5.50" font-weight="normal" fill="#000">400</text>
<line x1="297" y1="252.4" x2="297" y2="254" stroke="#555" stroke-width="0.8"/>
<text transform="translate(291.86 259) scale(1.120 1)" font-size="5.50" font-weight="normal" fill="#000">600</text>
<text transform="translate(219.69 266.76) scale(1.042 1)" font-size="6.70" font-weight="normal" fill="#000">Days since diagnosis</text>
<text transform="translate(237.86 202.58) scale(1.127 1)" font-size="6.60" font-weight="normal" fill="#000">Patient 1</text>
<polyline points="331.3,226.31 340.96,250.22 420.41,242.2 426.21,207.09" fill="none" stroke="#111" stroke-width="0.8" stroke-linejoin="round"/>
<circle cx="331.3" cy="226.31" r="2.05" fill="#f00"/>
<circle cx="340.96" cy="250.22" r="2.05" fill="#00f"/>
<circle cx="420.41" cy="242.2" r="2.05" fill="#00f"/>
<circle cx="426.21" cy="207.09" r="2.05" fill="#f00"/>
<line x1="326.4" y1="204.5" x2="431.5" y2="204.5" stroke="#c4c4c4" stroke-width="1.2"/>
<line x1="326.4" y1="252.4" x2="431.5" y2="252.4" stroke="#8c8c8c" stroke-width="1.2"/>
<line x1="326.4" y1="203.9" x2="326.4" y2="253" stroke="#c4c4c4" stroke-width="1.3"/>
<line x1="431.5" y1="203.9" x2="431.5" y2="253" stroke="#c4c4c4" stroke-width="1.3"/>
<line x1="324.8" y1="216.7" x2="326.4" y2="216.7" stroke="#555" stroke-width="0.8"/>
<text transform="translate(311.33 218.62) scale(1.120 1)" font-size="5.50" font-weight="normal" fill="#000">0.10</text>
<line x1="324.8" y1="237.6" x2="326.4" y2="237.6" stroke="#555" stroke-width="0.8"/>
<text transform="translate(311.37 239.53) scale(1.120 1)" font-size="5.50" font-weight="normal" fill="#000">0.05</text>
<line x1="331.3" y1="252.4" x2="331.3" y2="254" stroke="#555" stroke-width="0.8"/>
<text transform="translate(329.59 259) scale(1.120 1)" font-size="5.50" font-weight="normal" fill="#000">0</text>
<line x1="355.45" y1="252.4" x2="355.45" y2="254" stroke="#555" stroke-width="0.8"/>
<text transform="translate(350.31 259) scale(1.120 1)" font-size="5.50" font-weight="normal" fill="#000">100</text>
<line x1="379.6" y1="252.4" x2="379.6" y2="254" stroke="#555" stroke-width="0.8"/>
<text transform="translate(374.46 259) scale(1.120 1)" font-size="5.50" font-weight="normal" fill="#000">200</text>
<line x1="403.75" y1="252.4" x2="403.75" y2="254" stroke="#555" stroke-width="0.8"/>
<text transform="translate(398.61 259) scale(1.120 1)" font-size="5.50" font-weight="normal" fill="#000">300</text>
<line x1="427.9" y1="252.4" x2="427.9" y2="254" stroke="#555" stroke-width="0.8"/>
<text transform="translate(422.76 259) scale(1.120 1)" font-size="5.50" font-weight="normal" fill="#000">400</text>
<text transform="translate(345.99 266.76) scale(1.042 1)" font-size="6.70" font-weight="normal" fill="#000">Days since diagnosis</text>
<text transform="translate(364.15 202.58) scale(1.128 1)" font-size="6.60" font-weight="normal" fill="#000">Patient 2</text>
<polyline points="457.3,219.15 459.6,249.81 548.16,206.97 552.7,249.4" fill="none" stroke="#111" stroke-width="0.8" stroke-linejoin="round"/>
<circle cx="457.3" cy="219.15" r="2.05" fill="#f00"/>
<circle cx="459.6" cy="249.81" r="2.05" fill="#00f"/>
<circle cx="548.16" cy="206.97" r="2.05" fill="#f00"/>
<circle cx="552.7" cy="249.4" r="2.05" fill="#00f"/>
<line x1="452.4" y1="204.5" x2="556.4" y2="204.5" stroke="#c4c4c4" stroke-width="1.2"/>
<line x1="452.4" y1="252.4" x2="556.4" y2="252.4" stroke="#8c8c8c" stroke-width="1.2"/>
<line x1="452.4" y1="203.9" x2="452.4" y2="253" stroke="#c4c4c4" stroke-width="1.3"/>
<line x1="556.4" y1="203.9" x2="556.4" y2="253" stroke="#c4c4c4" stroke-width="1.3"/>
<line x1="450.8" y1="215.5" x2="452.4" y2="215.5" stroke="#555" stroke-width="0.8"/>
<text transform="translate(437.33 217.43) scale(1.120 1)" font-size="5.50" font-weight="normal" fill="#000">0.10</text>
<line x1="450.8" y1="235.8" x2="452.4" y2="235.8" stroke="#555" stroke-width="0.8"/>
<text transform="translate(437.37 237.73) scale(1.120 1)" font-size="5.50" font-weight="normal" fill="#000">0.05</text>
<line x1="457.3" y1="252.4" x2="457.3" y2="254" stroke="#555" stroke-width="0.8"/>
<text transform="translate(455.59 259) scale(1.120 1)" font-size="5.50" font-weight="normal" fill="#000">0</text>
<line x1="490.15" y1="252.4" x2="490.15" y2="254" stroke="#555" stroke-width="0.8"/>
<text transform="translate(485.01 259) scale(1.120 1)" font-size="5.50" font-weight="normal" fill="#000">500</text>
<line x1="523" y1="252.4" x2="523" y2="254" stroke="#555" stroke-width="0.8"/>
<text transform="translate(516.15 259) scale(1.120 1)" font-size="5.50" font-weight="normal" fill="#000">1000</text>
<line x1="555.85" y1="252.4" x2="555.85" y2="254" stroke="#555" stroke-width="0.8"/>
<text transform="translate(549 259) scale(1.120 1)" font-size="5.50" font-weight="normal" fill="#000">1500</text>
<text transform="translate(471.44 266.76) scale(1.042 1)" font-size="6.70" font-weight="normal" fill="#000">Days since diagnosis</text>
<text transform="translate(489.61 202.58) scale(1.125 1)" font-size="6.60" font-weight="normal" fill="#000">Patient 3</text>
<polyline points="583.5,207.06 597.12,248.86 665.56,240.73 679.36,250.47" fill="none" stroke="#111" stroke-width="0.8" stroke-linejoin="round"/>
<circle cx="583.5" cy="207.06" r="2.05" fill="#f00"/>
<circle cx="597.12" cy="248.86" r="2.05" fill="#00f"/>
<circle cx="665.56" cy="240.73" r="2.05" fill="#f00"/>
<circle cx="679.36" cy="250.47" r="2.05" fill="#00f"/>
<line x1="578.7" y1="204.5" x2="684.1" y2="204.5" stroke="#c4c4c4" stroke-width="1.2"/>
<line x1="578.7" y1="252.4" x2="684.1" y2="252.4" stroke="#8c8c8c" stroke-width="1.2"/>
<line x1="578.7" y1="203.9" x2="578.7" y2="253" stroke="#c4c4c4" stroke-width="1.3"/>
<line x1="684.1" y1="203.9" x2="684.1" y2="253" stroke="#c4c4c4" stroke-width="1.3"/>
<line x1="577.1" y1="209.9" x2="578.7" y2="209.9" stroke="#555" stroke-width="0.8"/>
<text transform="translate(563.67 211.83) scale(1.120 1)" font-size="5.50" font-weight="normal" fill="#000">0.05</text>
<line x1="577.1" y1="222.23" x2="578.7" y2="222.23" stroke="#555" stroke-width="0.8"/>
<text transform="translate(563.6 224.16) scale(1.120 1)" font-size="5.50" font-weight="normal" fill="#000">0.04</text>
<line x1="577.1" y1="234.56" x2="578.7" y2="234.56" stroke="#555" stroke-width="0.8"/>
<text transform="translate(563.67 236.49) scale(1.120 1)" font-size="5.50" font-weight="normal" fill="#000">0.03</text>
<line x1="577.1" y1="246.89" x2="578.7" y2="246.89" stroke="#555" stroke-width="0.8"/>
<text transform="translate(563.73 248.82) scale(1.120 1)" font-size="5.50" font-weight="normal" fill="#000">0.02</text>
<line x1="583.5" y1="252.4" x2="583.5" y2="254" stroke="#555" stroke-width="0.8"/>
<text transform="translate(581.79 259) scale(1.120 1)" font-size="5.50" font-weight="normal" fill="#000">0</text>
<line x1="600.96" y1="252.4" x2="600.96" y2="254" stroke="#555" stroke-width="0.8"/>
<text transform="translate(595.82 259) scale(1.120 1)" font-size="5.50" font-weight="normal" fill="#000">100</text>
<line x1="618.42" y1="252.4" x2="618.42" y2="254" stroke="#555" stroke-width="0.8"/>
<text transform="translate(613.28 259) scale(1.120 1)" font-size="5.50" font-weight="normal" fill="#000">200</text>
<line x1="635.88" y1="252.4" x2="635.88" y2="254" stroke="#555" stroke-width="0.8"/>
<text transform="translate(630.74 259) scale(1.120 1)" font-size="5.50" font-weight="normal" fill="#000">300</text>
<line x1="653.34" y1="252.4" x2="653.34" y2="254" stroke="#555" stroke-width="0.8"/>
<text transform="translate(648.2 259) scale(1.120 1)" font-size="5.50" font-weight="normal" fill="#000">400</text>
<line x1="670.8" y1="252.4" x2="670.8" y2="254" stroke="#555" stroke-width="0.8"/>
<text transform="translate(665.66 259) scale(1.120 1)" font-size="5.50" font-weight="normal" fill="#000">500</text>
<text transform="translate(598.44 266.76) scale(1.042 1)" font-size="6.70" font-weight="normal" fill="#000">Days since diagnosis</text>
<text transform="translate(616.61 202.58) scale(1.122 1)" font-size="6.60" font-weight="normal" fill="#000">Patient 4</text>
<text transform="translate(182.9 235.08) rotate(-90) scale(1.016 1)" font-size="7.17" font-weight="normal" fill="#000">DMI</text>
<circle cx="265" cy="214.95" r="2.0" fill="#f00"/>
<circle cx="265" cy="224.75" r="2.0" fill="#00f"/>
<text transform="translate(273.85 213.32) scale(1.094 1)" font-size="5.20" font-weight="normal" fill="#000">Diagnosis/</text>
<text transform="translate(273.86 219.07) scale(1.052 1)" font-size="5.20" font-weight="normal" fill="#000">Relapse</text>
<text transform="translate(273.86 226.87) scale(1.064 1)" font-size="5.20" font-weight="normal" fill="#000">Remission</text>
<text transform="translate(177.15 278.25) scale(1.002 1)" font-size="16.20" font-weight="bold" fill="#000">g</text>
<text transform="translate(237.8 278.53) scale(1.145 1)" font-size="6.53" font-weight="normal" fill="#000">Patient 5</text>
<polyline points="212.1,282.9 252.8,325.3 293.2,324.2" fill="none" stroke="#00f" stroke-width="0.9" stroke-linejoin="round"/>
<circle cx="212.1" cy="282.9" r="1.2" fill="#00f"/>
<circle cx="252.8" cy="325.3" r="1.2" fill="#00f"/>
<circle cx="293.2" cy="324.2" r="1.2" fill="#00f"/>
<line x1="200.1" y1="281.15" x2="305.3" y2="281.15" stroke="#c4c4c4" stroke-width="1.2"/>
<line x1="200.1" y1="327.3" x2="305.3" y2="327.3" stroke="#7a7a7a" stroke-width="1.2"/>
<line x1="200.1" y1="280.55" x2="200.1" y2="327.9" stroke="#c4c4c4" stroke-width="1.3"/>
<line x1="305.3" y1="280.55" x2="305.3" y2="327.9" stroke="#c4c4c4" stroke-width="1.3"/>
<line x1="198.5" y1="291.2" x2="200.1" y2="291.2" stroke="#555" stroke-width="0.8"/>
<text transform="translate(185 293.12) scale(1.120 1)" font-size="5.50" font-weight="normal" fill="#000">0.04</text>
<line x1="198.5" y1="304.5" x2="200.1" y2="304.5" stroke="#555" stroke-width="0.8"/>
<text transform="translate(185.07 306.43) scale(1.120 1)" font-size="5.50" font-weight="normal" fill="#000">0.03</text>
<line x1="198.5" y1="317.6" x2="200.1" y2="317.6" stroke="#555" stroke-width="0.8"/>
<text transform="translate(185.13 319.53) scale(1.120 1)" font-size="5.50" font-weight="normal" fill="#000">0.02</text>
<polyline points="212.1,335.75 252.8,372.94 293.2,372.94" fill="none" stroke="#1f77b4" stroke-width="0.8" stroke-linejoin="round" stroke-opacity="0.6"/>
<polyline points="212.1,359.41 252.8,372.94 293.2,372.94" fill="none" stroke="#ff7f0e" stroke-width="0.8" stroke-linejoin="round" stroke-opacity="0.6"/>
<polyline points="212.1,334.06 252.8,372.94 293.2,369.13" fill="none" stroke="#2ca02c" stroke-width="0.8" stroke-linejoin="round" stroke-opacity="1"/>
<polyline points="212.1,351.81 252.8,372.94 293.2,372.94" fill="none" stroke="#d62728" stroke-width="0.8" stroke-linejoin="round" stroke-opacity="1"/>
<polyline points="212.1,345.05 252.8,372.94 293.2,372.94" fill="none" stroke="#9467bd" stroke-width="0.8" stroke-linejoin="round" stroke-opacity="1"/>
<polyline points="212.1,332.38 252.8,372.94 293.2,372.94" fill="none" stroke="#8c564b" stroke-width="0.8" stroke-linejoin="round" stroke-opacity="1"/>
<circle cx="212.1" cy="335.75" r="1.2" fill="#1f77b4"/>
<circle cx="252.8" cy="372.94" r="1.2" fill="#1f77b4"/>
<circle cx="293.2" cy="372.94" r="1.2" fill="#1f77b4"/>
<circle cx="212.1" cy="359.41" r="1.2" fill="#ff7f0e"/>
<circle cx="252.8" cy="372.94" r="1.2" fill="#ff7f0e"/>
<circle cx="293.2" cy="372.94" r="1.2" fill="#ff7f0e"/>
<circle cx="212.1" cy="334.06" r="1.2" fill="#2ca02c"/>
<circle cx="252.8" cy="372.94" r="1.2" fill="#2ca02c"/>
<circle cx="293.2" cy="369.13" r="1.2" fill="#2ca02c"/>
<circle cx="212.1" cy="351.81" r="1.2" fill="#d62728"/>
<circle cx="252.8" cy="372.94" r="1.2" fill="#d62728"/>
<circle cx="293.2" cy="372.94" r="1.2" fill="#d62728"/>
<circle cx="212.1" cy="345.05" r="1.2" fill="#9467bd"/>
<circle cx="252.8" cy="372.94" r="1.2" fill="#9467bd"/>
<circle cx="293.2" cy="372.94" r="1.2" fill="#9467bd"/>
<circle cx="212.1" cy="332.38" r="1.2" fill="#8c564b"/>
<circle cx="252.8" cy="372.94" r="1.2" fill="#8c564b"/>
<circle cx="293.2" cy="372.94" r="1.2" fill="#8c564b"/>
<line x1="272.9" y1="335.1" x2="280.7" y2="335.1" stroke="#1f77b4" stroke-width="0.8" stroke-opacity="0.35"/>
<circle cx="276.8" cy="335.1" r="0.9" fill="#1f77b4"/>
<text transform="translate(284.3 336.47) scale(1.120 1)" font-size="3.90" font-weight="normal" fill="#000">BCOR</text>
<line x1="272.9" y1="340.9" x2="280.7" y2="340.9" stroke="#ff7f0e" stroke-width="0.8" stroke-opacity="0.35"/>
<circle cx="276.8" cy="340.9" r="0.9" fill="#ff7f0e"/>
<text transform="translate(284.3 342.27) scale(1.120 1)" font-size="3.90" font-weight="normal" fill="#000">BCOR</text>
<line x1="272.9" y1="346.7" x2="280.7" y2="346.7" stroke="#2ca02c" stroke-width="0.8" stroke-opacity="1"/>
<circle cx="276.8" cy="346.7" r="0.9" fill="#2ca02c"/>
<text transform="translate(284.3 348.07) scale(1.120 1)" font-size="3.90" font-weight="normal" fill="#000">DNMT3A</text>
<line x1="272.9" y1="352.5" x2="280.7" y2="352.5" stroke="#d62728" stroke-width="0.8" stroke-opacity="1"/>
<circle cx="276.8" cy="352.5" r="0.9" fill="#d62728"/>
<text transform="translate(284.3 353.87) scale(1.120 1)" font-size="3.90" font-weight="normal" fill="#000">DNMT3A</text>
<line x1="272.9" y1="358.3" x2="280.7" y2="358.3" stroke="#9467bd" stroke-width="0.8" stroke-opacity="1"/>
<circle cx="276.8" cy="358.3" r="0.9" fill="#9467bd"/>
<text transform="translate(284.3 359.67) scale(1.120 1)" font-size="3.90" font-weight="normal" fill="#000">EZH2</text>
<line x1="272.9" y1="364.1" x2="280.7" y2="364.1" stroke="#8c564b" stroke-width="0.8" stroke-opacity="1"/>
<circle cx="276.8" cy="364.1" r="0.9" fill="#8c564b"/>
<text transform="translate(284.3 365.47) scale(1.120 1)" font-size="3.90" font-weight="normal" fill="#000">IDH2</text>
<line x1="200.1" y1="370.40" x2="305.3" y2="370.40" stroke="#000" stroke-width="0.8" stroke-dasharray="2.2,1.3"/>
<text transform="translate(200.8 368.32) scale(1.169 1)" font-size="4.30" font-weight="normal" fill="#000">Detection Limit</text>
<line x1="200.1" y1="329.6" x2="305.3" y2="329.6" stroke="#999" stroke-width="1.0"/>
<line x1="200.1" y1="376.3" x2="305.3" y2="376.3" stroke="#8c8c8c" stroke-width="1.0"/>
<line x1="200.1" y1="329.1" x2="200.1" y2="376.8" stroke="#c4c4c4" stroke-width="1.3"/>
<line x1="305.3" y1="329.1" x2="305.3" y2="376.8" stroke="#c4c4c4" stroke-width="1.3"/>
<line x1="198.5" y1="336.6" x2="200.1" y2="336.6" stroke="#555" stroke-width="0.8"/>
<text transform="translate(187.66 338.7) scale(1.120 1)" font-size="6.00" font-weight="normal" fill="#000">0.4</text>
<line x1="198.5" y1="353.5" x2="200.1" y2="353.5" stroke="#555" stroke-width="0.8"/>
<text transform="translate(187.8 355.6) scale(1.120 1)" font-size="6.00" font-weight="normal" fill="#000">0.2</text>
<line x1="198.5" y1="370.4" x2="200.1" y2="370.4" stroke="#555" stroke-width="0.8"/>
<text transform="translate(187.69 372.5) scale(1.120 1)" font-size="6.00" font-weight="normal" fill="#000">0.0</text>
<line x1="212.1" y1="376.3" x2="212.1" y2="377.9" stroke="#555" stroke-width="0.8"/>
<line x1="252.8" y1="376.3" x2="252.8" y2="377.9" stroke="#555" stroke-width="0.8"/>
<line x1="293.2" y1="376.3" x2="293.2" y2="377.9" stroke="#555" stroke-width="0.8"/>
<text transform="translate(196.95 383.3) scale(1.102 1)" font-size="6.20" font-weight="normal" fill="#000">Diagnosis</text>
<text transform="translate(248.75 383.8) scale(1.120 1)" font-size="6.20" font-weight="normal" fill="#000">T2</text>
<text transform="translate(289.15 383.8) scale(1.120 1)" font-size="6.20" font-weight="normal" fill="#000">T3</text>
<text transform="translate(364.15 278.53) scale(1.145 1)" font-size="6.53" font-weight="normal" fill="#000">Patient 6</text>
<polyline points="338.3,282.9 378.7,323.8 419.3,325.3" fill="none" stroke="#00f" stroke-width="0.9" stroke-linejoin="round"/>
<circle cx="338.3" cy="282.9" r="1.2" fill="#00f"/>
<circle cx="378.7" cy="323.8" r="1.2" fill="#00f"/>
<circle cx="419.3" cy="325.3" r="1.2" fill="#00f"/>
<line x1="326.5" y1="281.15" x2="431.6" y2="281.15" stroke="#c4c4c4" stroke-width="1.2"/>
<line x1="326.5" y1="327.3" x2="431.6" y2="327.3" stroke="#7a7a7a" stroke-width="1.2"/>
<line x1="326.5" y1="280.55" x2="326.5" y2="327.9" stroke="#c4c4c4" stroke-width="1.3"/>
<line x1="431.6" y1="280.55" x2="431.6" y2="327.9" stroke="#c4c4c4" stroke-width="1.3"/>
<line x1="324.9" y1="292.6" x2="326.5" y2="292.6" stroke="#555" stroke-width="0.8"/>
<text transform="translate(308.02 294.53) scale(1.120 1)" font-size="5.50" font-weight="normal" fill="#000">0.020</text>
<line x1="324.9" y1="312.6" x2="326.5" y2="312.6" stroke="#555" stroke-width="0.8"/>
<text transform="translate(308.05 314.53) scale(1.120 1)" font-size="5.50" font-weight="normal" fill="#000">0.015</text>
<polyline points="338.3,360.72 378.7,370.67 419.3,373.34" fill="none" stroke="#1f77b4" stroke-width="0.9" stroke-linejoin="round"/>
<circle cx="338.3" cy="360.72" r="1.25" fill="#1f77b4"/>
<circle cx="378.7" cy="370.67" r="1.25" fill="#1f77b4"/>
<circle cx="419.3" cy="373.34" r="1.25" fill="#1f77b4"/>
<polyline points="338.3,331.85 378.7,366.42 419.3,368.48" fill="none" stroke="#ff7f0e" stroke-width="0.9" stroke-linejoin="round"/>
<circle cx="338.3" cy="331.85" r="1.25" fill="#ff7f0e"/>
<circle cx="378.7" cy="366.42" r="1.25" fill="#ff7f0e"/>
<circle cx="419.3" cy="368.48" r="1.25" fill="#ff7f0e"/>
<line x1="326.5" y1="374.10" x2="431.6" y2="374.10" stroke="#777" stroke-width="0.8" stroke-dasharray="2.2,1.3"/>
<text transform="translate(327.5 371.72) scale(1.165 1)" font-size="4.30" font-weight="normal" fill="#000">Detection Limit</text>
<line x1="396.2" y1="336.4" x2="406.7" y2="336.4" stroke="#1f77b4" stroke-width="0.9"/>
<circle cx="401.4" cy="336.4" r="1.1" fill="#1f77b4"/>
<text transform="translate(410.7 338.04) scale(1.050 1)" font-size="4.70" font-weight="normal" fill="#000">JAK2</text>
<line x1="396.2" y1="343.4" x2="406.7" y2="343.4" stroke="#ff7f0e" stroke-width="0.9"/>
<circle cx="401.4" cy="343.4" r="1.1" fill="#ff7f0e"/>
<text transform="translate(410.7 345.04) scale(1.050 1)" font-size="4.70" font-weight="normal" fill="#000">SRSF2</text>
<line x1="326.5" y1="329.6" x2="431.6" y2="329.6" stroke="#999" stroke-width="1.0"/>
<line x1="326.5" y1="376.3" x2="431.6" y2="376.3" stroke="#8c8c8c" stroke-width="1.0"/>
<line x1="326.5" y1="329.1" x2="326.5" y2="376.8" stroke="#c4c4c4" stroke-width="1.3"/>
<line x1="431.6" y1="329.1" x2="431.6" y2="376.8" stroke="#c4c4c4" stroke-width="1.3"/>
<line x1="324.9" y1="337.31" x2="326.5" y2="337.31" stroke="#555" stroke-width="0.8"/>
<text transform="translate(314.13 339.41) scale(1.120 1)" font-size="6.00" font-weight="normal" fill="#000">0.3</text>
<line x1="324.9" y1="349.44" x2="326.5" y2="349.44" stroke="#555" stroke-width="0.8"/>
<text transform="translate(314.2 351.54) scale(1.120 1)" font-size="6.00" font-weight="normal" fill="#000">0.2</text>
<line x1="324.9" y1="361.57" x2="326.5" y2="361.57" stroke="#555" stroke-width="0.8"/>
<text transform="translate(314.16 363.67) scale(1.120 1)" font-size="6.00" font-weight="normal" fill="#000">0.1</text>
<line x1="324.9" y1="373.7" x2="326.5" y2="373.7" stroke="#555" stroke-width="0.8"/>
<text transform="translate(314.09 375.8) scale(1.120 1)" font-size="6.00" font-weight="normal" fill="#000">0.0</text>
<line x1="338.3" y1="376.3" x2="338.3" y2="377.9" stroke="#555" stroke-width="0.8"/>
<line x1="378.7" y1="376.3" x2="378.7" y2="377.9" stroke="#555" stroke-width="0.8"/>
<line x1="419.3" y1="376.3" x2="419.3" y2="377.9" stroke="#555" stroke-width="0.8"/>
<text transform="translate(323.15 383.3) scale(1.102 1)" font-size="6.20" font-weight="normal" fill="#000">Diagnosis</text>
<text transform="translate(374.65 383.8) scale(1.120 1)" font-size="6.20" font-weight="normal" fill="#000">T2</text>
<text transform="translate(415.25 383.8) scale(1.120 1)" font-size="6.20" font-weight="normal" fill="#000">T3</text>
<text transform="translate(490.05 278.53) scale(1.148 1)" font-size="6.53" font-weight="normal" fill="#000">Patient 7</text>
<polyline points="464.5,283 505,325.4 545.4,323.8" fill="none" stroke="#00f" stroke-width="0.9" stroke-linejoin="round"/>
<circle cx="464.5" cy="283" r="1.2" fill="#00f"/>
<circle cx="505" cy="325.4" r="1.2" fill="#00f"/>
<circle cx="545.4" cy="323.8" r="1.2" fill="#00f"/>
<line x1="452.4" y1="281.15" x2="557.5" y2="281.15" stroke="#c4c4c4" stroke-width="1.2"/>
<line x1="452.4" y1="327.3" x2="557.5" y2="327.3" stroke="#7a7a7a" stroke-width="1.2"/>
<line x1="452.4" y1="280.55" x2="452.4" y2="327.9" stroke="#c4c4c4" stroke-width="1.3"/>
<line x1="557.5" y1="280.55" x2="557.5" y2="327.9" stroke="#c4c4c4" stroke-width="1.3"/>
<line x1="450.8" y1="293.5" x2="452.4" y2="293.5" stroke="#555" stroke-width="0.8"/>
<text transform="translate(437.37 295.43) scale(1.120 1)" font-size="5.50" font-weight="normal" fill="#000">0.06</text>
<line x1="450.8" y1="306.4" x2="452.4" y2="306.4" stroke="#555" stroke-width="0.8"/>
<text transform="translate(437.3 308.32) scale(1.120 1)" font-size="5.50" font-weight="normal" fill="#000">0.04</text>
<line x1="450.8" y1="319.1" x2="452.4" y2="319.1" stroke="#555" stroke-width="0.8"/>
<text transform="translate(437.43 321.03) scale(1.120 1)" font-size="5.50" font-weight="normal" fill="#000">0.02</text>
<polyline points="464.5,331.66 505,374.05" fill="none" stroke="#1f77b4" stroke-width="0.9" stroke-linejoin="round"/>
<line x1="505.0" y1="374.05" x2="545.4" y2="374.05" stroke="#1f77b4" stroke-opacity="0.4" stroke-width="1.8"/>
<circle cx="464.5" cy="331.66" r="1.25" fill="#1f77b4"/>
<circle cx="505" cy="374.05" r="1.25" fill="#1f77b4"/>
<circle cx="545.4" cy="374.05" r="1.25" fill="#1f77b4"/>
<line x1="452.4" y1="370.20" x2="557.5" y2="370.20" stroke="#000" stroke-width="0.8" stroke-dasharray="2.2,1.3"/>
<text transform="translate(453.29 367.92) scale(1.187 1)" font-size="4.30" font-weight="normal" fill="#000">Detection Limit</text>
<line x1="522.4" y1="336.4" x2="532.5" y2="336.4" stroke="#1f77b4" stroke-width="0.9"/>
<circle cx="527.4" cy="336.4" r="1.1" fill="#1f77b4"/>
<text transform="translate(535.88 338.14) scale(1.074 1)" font-size="5.20" font-weight="normal" fill="#000">U2AF1</text>
<line x1="452.4" y1="329.6" x2="557.5" y2="329.6" stroke="#999" stroke-width="1.0"/>
<line x1="452.4" y1="376.3" x2="557.5" y2="376.3" stroke="#8c8c8c" stroke-width="1.0"/>
<line x1="452.4" y1="329.1" x2="452.4" y2="376.8" stroke="#c4c4c4" stroke-width="1.3"/>
<line x1="557.5" y1="329.1" x2="557.5" y2="376.8" stroke="#c4c4c4" stroke-width="1.3"/>
<line x1="450.8" y1="333.5" x2="452.4" y2="333.5" stroke="#555" stroke-width="0.8"/>
<text transform="translate(440.1 335.6) scale(1.120 1)" font-size="6.00" font-weight="normal" fill="#000">0.2</text>
<line x1="450.8" y1="351.85" x2="452.4" y2="351.85" stroke="#555" stroke-width="0.8"/>
<text transform="translate(440.06 353.95) scale(1.120 1)" font-size="6.00" font-weight="normal" fill="#000">0.1</text>
<line x1="450.8" y1="370.2" x2="452.4" y2="370.2" stroke="#555" stroke-width="0.8"/>
<text transform="translate(439.99 372.3) scale(1.120 1)" font-size="6.00" font-weight="normal" fill="#000">0.0</text>
<line x1="464.5" y1="376.3" x2="464.5" y2="377.9" stroke="#555" stroke-width="0.8"/>
<line x1="505" y1="376.3" x2="505" y2="377.9" stroke="#555" stroke-width="0.8"/>
<line x1="545.4" y1="376.3" x2="545.4" y2="377.9" stroke="#555" stroke-width="0.8"/>
<text transform="translate(449.35 383.3) scale(1.102 1)" font-size="6.20" font-weight="normal" fill="#000">Diagnosis</text>
<text transform="translate(500.95 383.8) scale(1.120 1)" font-size="6.20" font-weight="normal" fill="#000">T2</text>
<text transform="translate(541.35 383.8) scale(1.120 1)" font-size="6.20" font-weight="normal" fill="#000">T3</text>
<text transform="translate(616.4 278.53) scale(1.145 1)" font-size="6.53" font-weight="normal" fill="#000">Patient 8</text>
<polyline points="590.7,283 631.3,325.4 672.1,324" fill="none" stroke="#00f" stroke-width="0.9" stroke-linejoin="round"/>
<circle cx="590.7" cy="283" r="1.2" fill="#00f"/>
<circle cx="631.3" cy="325.4" r="1.2" fill="#00f"/>
<circle cx="672.1" cy="324" r="1.2" fill="#00f"/>
<line x1="578.7" y1="281.15" x2="683.9" y2="281.15" stroke="#c4c4c4" stroke-width="1.2"/>
<line x1="578.7" y1="327.3" x2="683.9" y2="327.3" stroke="#7a7a7a" stroke-width="1.2"/>
<line x1="578.7" y1="280.55" x2="578.7" y2="327.9" stroke="#c4c4c4" stroke-width="1.3"/>
<line x1="683.9" y1="280.55" x2="683.9" y2="327.9" stroke="#c4c4c4" stroke-width="1.3"/>
<line x1="577.1" y1="281.5" x2="578.7" y2="281.5" stroke="#555" stroke-width="0.8"/>
<text transform="translate(560.22 283.43) scale(1.120 1)" font-size="5.50" font-weight="normal" fill="#000">0.100</text>
<line x1="577.1" y1="293.8" x2="578.7" y2="293.8" stroke="#555" stroke-width="0.8"/>
<text transform="translate(560.25 295.73) scale(1.120 1)" font-size="5.50" font-weight="normal" fill="#000">0.075</text>
<line x1="577.1" y1="306.4" x2="578.7" y2="306.4" stroke="#555" stroke-width="0.8"/>
<text transform="translate(560.22 308.32) scale(1.120 1)" font-size="5.50" font-weight="normal" fill="#000">0.050</text>
<line x1="577.1" y1="319.1" x2="578.7" y2="319.1" stroke="#555" stroke-width="0.8"/>
<text transform="translate(560.25 321.03) scale(1.120 1)" font-size="5.50" font-weight="normal" fill="#000">0.025</text>
<text transform="translate(593.29 354.63) scale(1.165 1)" font-size="6.53" font-weight="normal" fill="#000">No mutations detected</text>
<line x1="578.7" y1="329.6" x2="683.9" y2="329.6" stroke="#999" stroke-width="1.0"/>
<line x1="578.7" y1="376.3" x2="683.9" y2="376.3" stroke="#8c8c8c" stroke-width="1.0"/>
<line x1="578.7" y1="329.1" x2="578.7" y2="376.8" stroke="#c4c4c4" stroke-width="1.3"/>
<line x1="683.9" y1="329.1" x2="683.9" y2="376.8" stroke="#c4c4c4" stroke-width="1.3"/>
<line x1="577.1" y1="329.7" x2="578.7" y2="329.7" stroke="#555" stroke-width="0.8"/>
<text transform="translate(563.63 331.62) scale(1.120 1)" font-size="5.50" font-weight="normal" fill="#000">1.00</text>
<line x1="577.1" y1="341.32" x2="578.7" y2="341.32" stroke="#555" stroke-width="0.8"/>
<text transform="translate(563.67 343.25) scale(1.120 1)" font-size="5.50" font-weight="normal" fill="#000">0.75</text>
<line x1="577.1" y1="352.95" x2="578.7" y2="352.95" stroke="#555" stroke-width="0.8"/>
<text transform="translate(563.63 354.88) scale(1.120 1)" font-size="5.50" font-weight="normal" fill="#000">0.50</text>
<line x1="577.1" y1="364.57" x2="578.7" y2="364.57" stroke="#555" stroke-width="0.8"/>
<text transform="translate(563.67 366.5) scale(1.120 1)" font-size="5.50" font-weight="normal" fill="#000">0.25</text>
<line x1="577.1" y1="376.2" x2="578.7" y2="376.2" stroke="#555" stroke-width="0.8"/>
<text transform="translate(563.63 378.12) scale(1.120 1)" font-size="5.50" font-weight="normal" fill="#000">0.00</text>
<line x1="590.7" y1="376.3" x2="590.7" y2="377.9" stroke="#555" stroke-width="0.8"/>
<line x1="631.3" y1="376.3" x2="631.3" y2="377.9" stroke="#555" stroke-width="0.8"/>
<line x1="672.1" y1="376.3" x2="672.1" y2="377.9" stroke="#555" stroke-width="0.8"/>
<text transform="translate(575.55 383.3) scale(1.102 1)" font-size="6.20" font-weight="normal" fill="#000">Diagnosis</text>
<text transform="translate(627.25 383.8) scale(1.120 1)" font-size="6.20" font-weight="normal" fill="#000">T2</text>
<text transform="translate(668.05 383.8) scale(1.120 1)" font-size="6.20" font-weight="normal" fill="#000">T3</text>
<text transform="translate(182.8 310.38) rotate(-90) scale(0.998 1)" font-size="7.25" font-weight="normal" fill="#000">DMI</text>
<text transform="translate(186.1 359.23) rotate(-90) scale(0.938 1)" font-size="7.25" font-weight="normal" fill="#000">VAF</text>
</svg></body></html>
